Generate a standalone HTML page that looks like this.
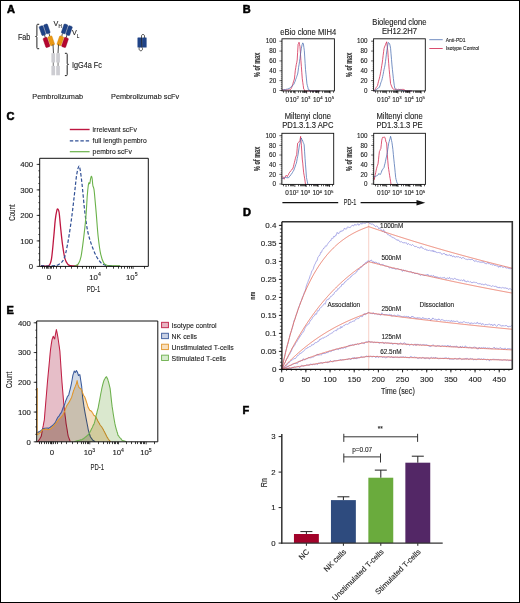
<!DOCTYPE html>
<html><head><meta charset="utf-8"><style>
html,body{margin:0;padding:0;background:#fff;}
body{width:520px;height:603px;overflow:hidden;position:relative;}
svg{position:absolute;left:0;top:0;font-family:"Liberation Sans", sans-serif;will-change:transform;}
text{stroke:#222;stroke-width:0.12px;}
</style></head><body>
<svg width="520" height="603" viewBox="0 0 520 603">
<rect x="0" y="0" width="520" height="603" fill="#fff"/>
<text x="7.0" y="12.6" font-size="11" text-anchor="start" font-weight="bold" fill="#000" style="stroke:#000;stroke-width:0.55px">A</text>
<path d="M44.6,35.0 L45.3,37.8 M49.1,33.4 L49.7,36.4 M66.9,35.0 L66.2,37.8 M62.4,33.4 L61.8,36.4" stroke="#222" stroke-width="0.8" fill="none"/>
<rect x="40.40" y="25.80" width="4.0" height="9.6" rx="0.9" fill="#1f4387" stroke="#15306c" stroke-width="0.4" transform="rotate(-19 42.4 30.6)"/>
<rect x="67.10" y="25.80" width="4.0" height="9.6" rx="0.9" fill="#1f4387" stroke="#15306c" stroke-width="0.4" transform="rotate(19 69.1 30.6)"/>
<rect x="44.90" y="24.10" width="4.0" height="9.6" rx="0.9" fill="#1f4387" stroke="#15306c" stroke-width="0.4" transform="rotate(-19 46.9 28.9)"/>
<rect x="62.60" y="24.10" width="4.0" height="9.6" rx="0.9" fill="#1f4387" stroke="#15306c" stroke-width="0.4" transform="rotate(19 64.6 28.9)"/>
<rect x="44.35" y="37.50" width="4.3" height="9.8" rx="0.9" fill="#b5062f" stroke="#8e0020" stroke-width="0.4" transform="rotate(-19 46.5 42.4)"/>
<rect x="62.85" y="37.50" width="4.3" height="9.8" rx="0.9" fill="#b5062f" stroke="#8e0020" stroke-width="0.4" transform="rotate(19 65.0 42.4)"/>
<rect x="49.05" y="36.10" width="4.3" height="9.4" rx="0.9" fill="#ea9814" stroke="#d08000" stroke-width="0.4" transform="rotate(-19 51.2 40.8)"/>
<rect x="58.15" y="36.10" width="4.3" height="9.4" rx="0.9" fill="#ea9814" stroke="#d08000" stroke-width="0.4" transform="rotate(19 60.3 40.8)"/>
<path d="M53.0,44.5 L53.5,53.5 M58.5,44.5 L58.0,53.5" stroke="#2a2a2a" stroke-width="0.85" fill="none"/>
<rect x="51.4" y="53.2" width="3.7" height="9.3" fill="#cdcdd2"/>
<rect x="51.4" y="65.9" width="3.7" height="9.4" fill="#cdcdd2"/>
<line x1="53.25" y1="62.5" x2="53.25" y2="65.9" stroke="#333" stroke-width="0.7"/>
<rect x="56.2" y="53.2" width="3.7" height="9.3" fill="#cdcdd2"/>
<rect x="56.2" y="65.9" width="3.7" height="9.4" fill="#cdcdd2"/>
<line x1="58.050000000000004" y1="62.5" x2="58.050000000000004" y2="65.9" stroke="#333" stroke-width="0.7"/>
<path d="M39.2,24.3 L37.6,24.3 Q36.9,24.3 36.9,25.2 L36.9,35.5 Q36.9,36.4 35.6,36.5 Q36.9,36.6 36.9,37.5 L36.9,47.8 Q36.9,48.7 37.6,48.7 L39.2,48.7" stroke="#222" stroke-width="1.0" fill="none"/>
<path d="M64.9,53.3 L66.4,53.3 Q67.2,53.3 67.2,54.2 L67.2,63.4 Q67.2,64.3 68.5,64.4 Q67.2,64.5 67.2,65.4 L67.2,74.7 Q67.2,75.6 66.4,75.6 L64.9,75.6" stroke="#222" stroke-width="1.0" fill="none"/>
<text x="0" y="0" font-size="8.4" text-anchor="start" font-weight="normal" fill="#222" transform="translate(17.9 39.6) scale(0.86 1)">Fab</text>
<text x="53.6" y="25.6" font-size="7.2" text-anchor="start" font-weight="normal" fill="#222" >V</text>
<text x="58.4" y="28.0" font-size="4.6" text-anchor="start" font-weight="normal" fill="#222" >H</text>
<text x="71.9" y="35.2" font-size="7.2" text-anchor="start" font-weight="normal" fill="#222" >V</text>
<text x="76.8" y="37.6" font-size="4.6" text-anchor="start" font-weight="normal" fill="#222" >L</text>
<text x="0" y="0" font-size="8.4" text-anchor="start" font-weight="normal" fill="#222" transform="translate(71.9 67.8) scale(0.87 1)">IgG4a Fc</text>
<rect x="137.5" y="37.6" width="4.4" height="9.9" rx="0.5" fill="#1f4387"/>
<rect x="142.1" y="37.6" width="4.5" height="9.9" rx="0.5" fill="#1f4387"/>
<path d="M144.5,37.8 L144.5,36.1 C144.5,33.9 141.5,33.9 141.5,36.1 L141.9,47.2 L142.5,48.6 C142.7,51.5 139.0,51.5 139.1,48.6 L139.3,47.4" stroke="#1a1a1a" stroke-width="0.75" fill="none"/>
<text x="57.7" y="99.2" font-size="7.3" text-anchor="middle" font-weight="normal" fill="#222" >Pembrolizumab</text>
<text x="145.1" y="99.2" font-size="7.3" text-anchor="middle" font-weight="normal" fill="#222" >Pembrolizumab scFv</text>
<text x="242.8" y="12.6" font-size="11" text-anchor="start" font-weight="bold" fill="#000" style="stroke:#000;stroke-width:0.55px">B</text>
<path d="M282.04,89.92 L282.45,89.92 L282.86,89.92 L283.27,89.92 L283.68,89.92 L284.09,89.92 L284.49,89.92 L284.90,89.92 L285.31,89.92 L285.72,89.92 L286.13,89.92 L286.54,89.92 L286.95,89.92 L287.35,89.92 L287.76,89.92 L288.17,89.92 L288.58,89.92 L288.99,89.92 L289.40,89.92 L289.81,89.92 L290.21,89.92 L290.68,89.25 L291.14,88.57 L291.61,87.56 L292.07,86.54 L292.53,84.72 L293.00,83.32 L293.46,81.81 L293.93,80.25 L294.39,79.02 L294.86,74.67 L295.32,70.29 L295.78,67.65 L296.25,64.62 L296.71,62.74 L297.18,60.06 L297.64,52.40 L298.11,44.32 L298.57,43.58 L299.03,42.28 L299.50,44.37 L299.96,46.37 L300.43,53.05 L300.89,60.41 L301.36,66.37 L301.82,72.75 L302.28,78.74 L302.75,82.24 L303.21,85.46 L303.68,88.90 L304.14,89.29 L304.61,91.00 L305.01,91.00 L305.41,91.00 L305.81,91.00 L306.22,91.00 L306.62,91.00 L307.02,91.00 L307.43,91.00 L307.83,91.00 L308.23,91.00 L308.64,91.00 L309.04,91.00 L309.44,91.00 L309.85,91.00 L310.25,91.00 L310.65,91.00 L311.06,91.00 L311.46,91.00 L311.86,91.00 L312.27,91.00 L312.67,91.00 L313.07,91.00 L313.48,91.00 L313.88,91.00 L314.28,91.00 L314.68,91.00 L315.09,91.00 L315.49,91.00 L315.89,91.00 L316.30,91.00 L316.70,91.00 L317.10,91.00 L317.51,91.00 L317.91,91.00 L318.31,91.00 L318.72,91.00 L319.12,91.00 L319.52,91.00 L319.93,91.00" stroke="#d0204a" stroke-width="0.75" fill="none" stroke-linejoin="round"/>
<path d="M282.04,89.84 L282.48,89.90 L282.92,89.65 L283.37,90.00 L283.81,89.55 L284.25,89.52 L284.69,89.54 L285.13,89.49 L285.57,89.79 L285.98,89.51 L286.40,89.19 L286.81,89.22 L287.22,88.86 L287.63,89.19 L288.05,88.72 L288.46,88.84 L288.87,88.54 L289.29,88.62 L289.71,87.86 L290.13,87.71 L290.55,87.48 L290.97,86.82 L291.40,86.83 L291.82,86.22 L292.24,86.03 L292.66,85.45 L293.08,85.17 L293.51,84.61 L293.93,84.26 L294.34,82.96 L294.75,82.16 L295.17,81.22 L295.58,79.67 L295.99,78.80 L296.40,77.50 L296.82,76.35 L297.23,75.17 L297.64,74.10 L298.11,71.16 L298.57,67.48 L299.03,64.92 L299.50,61.60 L299.96,58.64 L300.43,54.60 L300.89,51.47 L301.36,48.17 L302.10,44.63 L302.75,42.86 L303.40,43.91 L303.86,47.32 L304.33,50.77 L304.73,56.96 L305.13,63.41 L305.53,69.70 L306.00,74.24 L306.46,78.97 L306.93,83.77 L307.39,85.66 L307.86,87.31 L308.32,89.62 L308.78,89.92 L309.25,89.76 L309.71,91.00 L310.12,91.00 L310.53,91.00 L310.94,91.00 L311.35,91.00 L311.75,91.00 L312.16,91.00 L312.57,91.00 L312.98,91.00 L313.39,91.00 L313.80,91.00 L314.21,91.00 L314.61,91.00 L315.02,91.00 L315.43,91.00 L315.84,91.00 L316.25,91.00 L316.66,91.00 L317.07,91.00 L317.47,91.00 L317.88,91.00 L318.29,91.00 L318.70,91.00 L319.11,91.00 L319.52,91.00 L319.93,91.00" stroke="#4a6db0" stroke-width="0.75" fill="none" stroke-linejoin="round"/>
<rect x="282.0" y="38.8" width="52.39999999999998" height="52.10000000000001" fill="none" stroke="#111" stroke-width="0.9"/>
<line x1="279.4" y1="90.5" x2="282.0" y2="90.5" stroke="#111" stroke-width="0.6" />
<text x="276.2" y="92.7" font-size="6.3" text-anchor="end" font-weight="normal" fill="#222" >0</text>
<line x1="279.4" y1="80.64" x2="282.0" y2="80.64" stroke="#111" stroke-width="0.6" />
<text x="276.2" y="82.84" font-size="6.3" text-anchor="end" font-weight="normal" fill="#222" >20</text>
<line x1="279.4" y1="70.78" x2="282.0" y2="70.78" stroke="#111" stroke-width="0.6" />
<text x="276.2" y="72.98" font-size="6.3" text-anchor="end" font-weight="normal" fill="#222" >40</text>
<line x1="279.4" y1="60.92" x2="282.0" y2="60.92" stroke="#111" stroke-width="0.6" />
<text x="276.2" y="63.120000000000005" font-size="6.3" text-anchor="end" font-weight="normal" fill="#222" >60</text>
<line x1="279.4" y1="51.059999999999995" x2="282.0" y2="51.059999999999995" stroke="#111" stroke-width="0.6" />
<text x="276.2" y="53.26" font-size="6.3" text-anchor="end" font-weight="normal" fill="#222" >80</text>
<line x1="279.4" y1="41.199999999999996" x2="282.0" y2="41.199999999999996" stroke="#111" stroke-width="0.6" />
<text x="276.2" y="43.4" font-size="6.3" text-anchor="end" font-weight="normal" fill="#222" >100</text>
<line x1="280.8" y1="90.5" x2="282.0" y2="90.5" stroke="#111" stroke-width="0.4" />
<line x1="280.8" y1="88.528" x2="282.0" y2="88.528" stroke="#111" stroke-width="0.4" />
<line x1="280.8" y1="86.556" x2="282.0" y2="86.556" stroke="#111" stroke-width="0.4" />
<line x1="280.8" y1="84.584" x2="282.0" y2="84.584" stroke="#111" stroke-width="0.4" />
<line x1="280.8" y1="82.612" x2="282.0" y2="82.612" stroke="#111" stroke-width="0.4" />
<line x1="280.8" y1="80.64" x2="282.0" y2="80.64" stroke="#111" stroke-width="0.4" />
<line x1="280.8" y1="78.668" x2="282.0" y2="78.668" stroke="#111" stroke-width="0.4" />
<line x1="280.8" y1="76.696" x2="282.0" y2="76.696" stroke="#111" stroke-width="0.4" />
<line x1="280.8" y1="74.724" x2="282.0" y2="74.724" stroke="#111" stroke-width="0.4" />
<line x1="280.8" y1="72.752" x2="282.0" y2="72.752" stroke="#111" stroke-width="0.4" />
<line x1="280.8" y1="70.78" x2="282.0" y2="70.78" stroke="#111" stroke-width="0.4" />
<line x1="280.8" y1="68.80799999999999" x2="282.0" y2="68.80799999999999" stroke="#111" stroke-width="0.4" />
<line x1="280.8" y1="66.836" x2="282.0" y2="66.836" stroke="#111" stroke-width="0.4" />
<line x1="280.8" y1="64.864" x2="282.0" y2="64.864" stroke="#111" stroke-width="0.4" />
<line x1="280.8" y1="62.891999999999996" x2="282.0" y2="62.891999999999996" stroke="#111" stroke-width="0.4" />
<line x1="280.8" y1="60.919999999999995" x2="282.0" y2="60.919999999999995" stroke="#111" stroke-width="0.4" />
<line x1="280.8" y1="58.94799999999999" x2="282.0" y2="58.94799999999999" stroke="#111" stroke-width="0.4" />
<line x1="280.8" y1="56.976" x2="282.0" y2="56.976" stroke="#111" stroke-width="0.4" />
<line x1="280.8" y1="55.004" x2="282.0" y2="55.004" stroke="#111" stroke-width="0.4" />
<line x1="280.8" y1="53.032" x2="282.0" y2="53.032" stroke="#111" stroke-width="0.4" />
<line x1="280.8" y1="51.059999999999995" x2="282.0" y2="51.059999999999995" stroke="#111" stroke-width="0.4" />
<line x1="280.8" y1="49.087999999999994" x2="282.0" y2="49.087999999999994" stroke="#111" stroke-width="0.4" />
<line x1="280.8" y1="47.11599999999999" x2="282.0" y2="47.11599999999999" stroke="#111" stroke-width="0.4" />
<line x1="280.8" y1="45.144" x2="282.0" y2="45.144" stroke="#111" stroke-width="0.4" />
<line x1="280.8" y1="43.172" x2="282.0" y2="43.172" stroke="#111" stroke-width="0.4" />
<line x1="280.8" y1="41.2" x2="282.0" y2="41.2" stroke="#111" stroke-width="0.4" />
<line x1="298.5" y1="90.9" x2="298.5" y2="92.80000000000001" stroke="#111" stroke-width="0.7" />
<line x1="300.5" y1="90.9" x2="300.5" y2="92.80000000000001" stroke="#111" stroke-width="0.7" />
<line x1="302.5" y1="90.9" x2="302.5" y2="92.80000000000001" stroke="#111" stroke-width="0.7" />
<line x1="303.5" y1="90.9" x2="303.5" y2="92.80000000000001" stroke="#111" stroke-width="0.7" />
<line x1="304.5" y1="90.9" x2="304.5" y2="92.80000000000001" stroke="#111" stroke-width="0.7" />
<line x1="304.5" y1="90.9" x2="304.5" y2="92.80000000000001" stroke="#111" stroke-width="0.7" />
<line x1="305.5" y1="90.9" x2="305.5" y2="92.80000000000001" stroke="#111" stroke-width="0.7" />
<line x1="306.5" y1="90.9" x2="306.5" y2="92.80000000000001" stroke="#111" stroke-width="0.7" />
<line x1="310.5" y1="90.9" x2="310.5" y2="92.80000000000001" stroke="#111" stroke-width="0.7" />
<line x1="312.5" y1="90.9" x2="312.5" y2="92.80000000000001" stroke="#111" stroke-width="0.7" />
<line x1="313.5" y1="90.9" x2="313.5" y2="92.80000000000001" stroke="#111" stroke-width="0.7" />
<line x1="315.5" y1="90.9" x2="315.5" y2="92.80000000000001" stroke="#111" stroke-width="0.7" />
<line x1="316.5" y1="90.9" x2="316.5" y2="92.80000000000001" stroke="#111" stroke-width="0.7" />
<line x1="316.5" y1="90.9" x2="316.5" y2="92.80000000000001" stroke="#111" stroke-width="0.7" />
<line x1="317.5" y1="90.9" x2="317.5" y2="92.80000000000001" stroke="#111" stroke-width="0.7" />
<line x1="318.5" y1="90.9" x2="318.5" y2="92.80000000000001" stroke="#111" stroke-width="0.7" />
<line x1="322.5" y1="90.9" x2="322.5" y2="92.80000000000001" stroke="#111" stroke-width="0.7" />
<line x1="324.5" y1="90.9" x2="324.5" y2="92.80000000000001" stroke="#111" stroke-width="0.7" />
<line x1="325.5" y1="90.9" x2="325.5" y2="92.80000000000001" stroke="#111" stroke-width="0.7" />
<line x1="326.5" y1="90.9" x2="326.5" y2="92.80000000000001" stroke="#111" stroke-width="0.7" />
<line x1="327.5" y1="90.9" x2="327.5" y2="92.80000000000001" stroke="#111" stroke-width="0.7" />
<line x1="328.5" y1="90.9" x2="328.5" y2="92.80000000000001" stroke="#111" stroke-width="0.7" />
<line x1="329.5" y1="90.9" x2="329.5" y2="92.80000000000001" stroke="#111" stroke-width="0.7" />
<line x1="329.5" y1="90.9" x2="329.5" y2="92.80000000000001" stroke="#111" stroke-width="0.7" />
<line x1="283.5" y1="90.9" x2="283.5" y2="92.80000000000001" stroke="#111" stroke-width="0.7" />
<line x1="288.5" y1="90.9" x2="288.5" y2="92.80000000000001" stroke="#111" stroke-width="0.7" />
<line x1="290.5" y1="90.9" x2="290.5" y2="92.80000000000001" stroke="#111" stroke-width="0.7" />
<line x1="291.5" y1="90.9" x2="291.5" y2="92.80000000000001" stroke="#111" stroke-width="0.7" />
<line x1="293.5" y1="90.9" x2="293.5" y2="92.80000000000001" stroke="#111" stroke-width="0.7" />
<line x1="294.5" y1="90.9" x2="294.5" y2="92.80000000000001" stroke="#111" stroke-width="0.7" />
<line x1="333.5" y1="90.9" x2="333.5" y2="92.80000000000001" stroke="#111" stroke-width="0.7" />
<line x1="286.192" y1="90.9" x2="286.192" y2="93.5" stroke="#111" stroke-width="0.7" />
<line x1="295.1" y1="90.9" x2="295.1" y2="93.5" stroke="#111" stroke-width="0.7" />
<line x1="306.628" y1="90.9" x2="306.628" y2="93.5" stroke="#111" stroke-width="0.7" />
<line x1="318.67999999999995" y1="90.9" x2="318.67999999999995" y2="93.5" stroke="#111" stroke-width="0.7" />
<line x1="330.20799999999997" y1="90.9" x2="330.20799999999997" y2="93.5" stroke="#111" stroke-width="0.7" />
<text x="287.2" y="101.9" font-size="6.4" text-anchor="middle" font-weight="normal" fill="#222" >0</text>
<text x="294.20000000000005" y="101.9" font-size="6.4" text-anchor="middle" font-weight="normal" fill="#222" >10<tspan font-size="4.3" dy="-2.6">2</tspan></text>
<text x="305.728" y="101.9" font-size="6.4" text-anchor="middle" font-weight="normal" fill="#222" >10<tspan font-size="4.3" dy="-2.6">3</tspan></text>
<text x="317.78" y="101.9" font-size="6.4" text-anchor="middle" font-weight="normal" fill="#222" >10<tspan font-size="4.3" dy="-2.6">4</tspan></text>
<text x="329.308" y="101.9" font-size="6.4" text-anchor="middle" font-weight="normal" fill="#222" >10<tspan font-size="4.3" dy="-2.6">5</tspan></text>
<text x="0" y="0" font-size="8.2" text-anchor="middle" font-weight="normal" fill="#222" transform="translate(308.2 34.6) scale(0.93 1)">eBio clone MIH4</text>
<text x="0" y="0" font-size="8.6" font-weight="bold" text-anchor="middle" fill="#333" transform="translate(260.2 64.85) rotate(-90) scale(0.64 1)">% of max</text>
<path d="M373.67,91.00 L374.23,91.00 L374.79,89.92 L375.25,89.19 L375.71,88.52 L376.18,87.54 L376.64,86.86 L377.11,86.37 L377.57,85.46 L378.04,83.35 L378.50,81.31 L378.96,79.79 L379.43,78.10 L379.89,76.28 L380.36,73.89 L380.82,71.41 L381.29,68.81 L381.75,65.55 L382.21,63.02 L382.68,59.52 L383.14,55.42 L383.61,51.69 L384.07,48.42 L384.53,47.00 L385.00,45.88 L385.46,44.68 L385.87,43.42 L386.27,42.85 L386.67,41.79 L387.23,46.25 L387.78,50.85 L388.25,57.44 L388.71,63.64 L389.18,69.44 L389.64,74.27 L390.11,78.85 L390.57,83.55 L391.03,84.82 L391.50,86.07 L391.96,86.99 L392.43,88.19 L392.89,88.78 L393.36,89.20 L393.82,89.08 L394.28,88.98 L394.71,89.46 L395.13,89.52 L395.55,89.14 L395.97,89.07 L396.39,89.21 L396.82,89.39 L397.24,89.69 L397.66,89.65 L398.08,89.36 L398.50,89.15 L398.93,89.63 L399.39,89.71 L399.86,89.08 L400.32,89.57 L400.78,89.35 L401.25,89.52 L401.71,89.33 L402.18,89.06 L402.64,89.57 L403.10,89.12 L403.57,89.73 L404.03,89.83 L404.50,89.92 L404.96,89.97 L405.43,91.00 L405.83,91.00 L406.24,91.00 L406.64,91.00 L407.05,91.00 L407.46,91.00 L407.86,91.00 L408.27,91.00 L408.68,91.00 L409.08,91.00 L409.49,91.00 L409.89,91.00 L410.30,91.00 L410.71,91.00 L411.11,91.00 L411.52,91.00 L411.93,91.00" stroke="#d0204a" stroke-width="0.75" fill="none" stroke-linejoin="round"/>
<path d="M373.67,91.00 L374.08,91.00 L374.49,91.00 L374.90,90.00 L375.31,89.96 L375.71,89.92 L376.13,89.66 L376.54,89.45 L376.95,88.93 L377.36,88.72 L377.78,88.69 L378.19,88.24 L378.60,87.69 L379.02,87.19 L379.43,87.22 L379.89,85.99 L380.36,84.64 L380.82,82.72 L381.29,81.63 L381.75,80.41 L382.21,78.55 L382.68,76.48 L383.14,74.38 L383.61,71.67 L384.07,69.33 L384.53,67.46 L385.00,64.96 L385.46,61.58 L385.93,58.14 L386.39,54.18 L386.86,50.90 L387.32,47.83 L387.78,45.09 L388.25,42.49 L388.90,42.89 L389.64,43.83 L390.11,45.76 L390.57,48.28 L391.03,53.78 L391.50,59.41 L391.96,64.97 L392.43,69.59 L392.89,73.87 L393.36,78.44 L393.82,81.96 L394.28,85.32 L394.75,88.13 L395.21,88.49 L395.68,89.56 L396.14,89.92 L396.55,89.93 L396.95,89.93 L397.36,89.94 L397.76,89.94 L398.16,89.95 L398.57,89.95 L398.97,89.96 L399.38,89.96 L399.78,89.97 L400.19,89.97 L400.59,89.98 L401.00,89.98 L401.40,89.99 L401.81,89.99 L402.21,90.00 L402.62,91.00 L403.02,91.00 L403.43,91.00 L403.83,91.00 L404.24,91.00 L404.64,91.00 L405.05,91.00 L405.45,91.00 L405.85,91.00 L406.26,91.00 L406.66,91.00 L407.07,91.00 L407.47,91.00 L407.88,91.00 L408.28,91.00 L408.69,91.00 L409.09,91.00 L409.50,91.00 L409.90,91.00 L410.31,91.00 L410.71,91.00 L411.12,91.00 L411.52,91.00 L411.93,91.00" stroke="#4a6db0" stroke-width="0.75" fill="none" stroke-linejoin="round"/>
<rect x="373.6" y="38.8" width="51.69999999999999" height="52.10000000000001" fill="none" stroke="#111" stroke-width="0.9"/>
<line x1="371.0" y1="90.5" x2="373.6" y2="90.5" stroke="#111" stroke-width="0.6" />
<text x="367.6" y="92.7" font-size="6.3" text-anchor="end" font-weight="normal" fill="#222" >0</text>
<line x1="371.0" y1="80.64" x2="373.6" y2="80.64" stroke="#111" stroke-width="0.6" />
<text x="367.6" y="82.84" font-size="6.3" text-anchor="end" font-weight="normal" fill="#222" >20</text>
<line x1="371.0" y1="70.78" x2="373.6" y2="70.78" stroke="#111" stroke-width="0.6" />
<text x="367.6" y="72.98" font-size="6.3" text-anchor="end" font-weight="normal" fill="#222" >40</text>
<line x1="371.0" y1="60.92" x2="373.6" y2="60.92" stroke="#111" stroke-width="0.6" />
<text x="367.6" y="63.120000000000005" font-size="6.3" text-anchor="end" font-weight="normal" fill="#222" >60</text>
<line x1="371.0" y1="51.059999999999995" x2="373.6" y2="51.059999999999995" stroke="#111" stroke-width="0.6" />
<text x="367.6" y="53.26" font-size="6.3" text-anchor="end" font-weight="normal" fill="#222" >80</text>
<line x1="371.0" y1="41.199999999999996" x2="373.6" y2="41.199999999999996" stroke="#111" stroke-width="0.6" />
<text x="367.6" y="43.4" font-size="6.3" text-anchor="end" font-weight="normal" fill="#222" >100</text>
<line x1="372.40000000000003" y1="90.5" x2="373.6" y2="90.5" stroke="#111" stroke-width="0.4" />
<line x1="372.40000000000003" y1="88.528" x2="373.6" y2="88.528" stroke="#111" stroke-width="0.4" />
<line x1="372.40000000000003" y1="86.556" x2="373.6" y2="86.556" stroke="#111" stroke-width="0.4" />
<line x1="372.40000000000003" y1="84.584" x2="373.6" y2="84.584" stroke="#111" stroke-width="0.4" />
<line x1="372.40000000000003" y1="82.612" x2="373.6" y2="82.612" stroke="#111" stroke-width="0.4" />
<line x1="372.40000000000003" y1="80.64" x2="373.6" y2="80.64" stroke="#111" stroke-width="0.4" />
<line x1="372.40000000000003" y1="78.668" x2="373.6" y2="78.668" stroke="#111" stroke-width="0.4" />
<line x1="372.40000000000003" y1="76.696" x2="373.6" y2="76.696" stroke="#111" stroke-width="0.4" />
<line x1="372.40000000000003" y1="74.724" x2="373.6" y2="74.724" stroke="#111" stroke-width="0.4" />
<line x1="372.40000000000003" y1="72.752" x2="373.6" y2="72.752" stroke="#111" stroke-width="0.4" />
<line x1="372.40000000000003" y1="70.78" x2="373.6" y2="70.78" stroke="#111" stroke-width="0.4" />
<line x1="372.40000000000003" y1="68.80799999999999" x2="373.6" y2="68.80799999999999" stroke="#111" stroke-width="0.4" />
<line x1="372.40000000000003" y1="66.836" x2="373.6" y2="66.836" stroke="#111" stroke-width="0.4" />
<line x1="372.40000000000003" y1="64.864" x2="373.6" y2="64.864" stroke="#111" stroke-width="0.4" />
<line x1="372.40000000000003" y1="62.891999999999996" x2="373.6" y2="62.891999999999996" stroke="#111" stroke-width="0.4" />
<line x1="372.40000000000003" y1="60.919999999999995" x2="373.6" y2="60.919999999999995" stroke="#111" stroke-width="0.4" />
<line x1="372.40000000000003" y1="58.94799999999999" x2="373.6" y2="58.94799999999999" stroke="#111" stroke-width="0.4" />
<line x1="372.40000000000003" y1="56.976" x2="373.6" y2="56.976" stroke="#111" stroke-width="0.4" />
<line x1="372.40000000000003" y1="55.004" x2="373.6" y2="55.004" stroke="#111" stroke-width="0.4" />
<line x1="372.40000000000003" y1="53.032" x2="373.6" y2="53.032" stroke="#111" stroke-width="0.4" />
<line x1="372.40000000000003" y1="51.059999999999995" x2="373.6" y2="51.059999999999995" stroke="#111" stroke-width="0.4" />
<line x1="372.40000000000003" y1="49.087999999999994" x2="373.6" y2="49.087999999999994" stroke="#111" stroke-width="0.4" />
<line x1="372.40000000000003" y1="47.11599999999999" x2="373.6" y2="47.11599999999999" stroke="#111" stroke-width="0.4" />
<line x1="372.40000000000003" y1="45.144" x2="373.6" y2="45.144" stroke="#111" stroke-width="0.4" />
<line x1="372.40000000000003" y1="43.172" x2="373.6" y2="43.172" stroke="#111" stroke-width="0.4" />
<line x1="372.40000000000003" y1="41.2" x2="373.6" y2="41.2" stroke="#111" stroke-width="0.4" />
<line x1="389.5" y1="90.9" x2="389.5" y2="92.80000000000001" stroke="#111" stroke-width="0.7" />
<line x1="391.5" y1="90.9" x2="391.5" y2="92.80000000000001" stroke="#111" stroke-width="0.7" />
<line x1="393.5" y1="90.9" x2="393.5" y2="92.80000000000001" stroke="#111" stroke-width="0.7" />
<line x1="394.5" y1="90.9" x2="394.5" y2="92.80000000000001" stroke="#111" stroke-width="0.7" />
<line x1="395.5" y1="90.9" x2="395.5" y2="92.80000000000001" stroke="#111" stroke-width="0.7" />
<line x1="396.5" y1="90.9" x2="396.5" y2="92.80000000000001" stroke="#111" stroke-width="0.7" />
<line x1="396.5" y1="90.9" x2="396.5" y2="92.80000000000001" stroke="#111" stroke-width="0.7" />
<line x1="397.5" y1="90.9" x2="397.5" y2="92.80000000000001" stroke="#111" stroke-width="0.7" />
<line x1="401.5" y1="90.9" x2="401.5" y2="92.80000000000001" stroke="#111" stroke-width="0.7" />
<line x1="403.5" y1="90.9" x2="403.5" y2="92.80000000000001" stroke="#111" stroke-width="0.7" />
<line x1="405.5" y1="90.9" x2="405.5" y2="92.80000000000001" stroke="#111" stroke-width="0.7" />
<line x1="406.5" y1="90.9" x2="406.5" y2="92.80000000000001" stroke="#111" stroke-width="0.7" />
<line x1="407.5" y1="90.9" x2="407.5" y2="92.80000000000001" stroke="#111" stroke-width="0.7" />
<line x1="407.5" y1="90.9" x2="407.5" y2="92.80000000000001" stroke="#111" stroke-width="0.7" />
<line x1="408.5" y1="90.9" x2="408.5" y2="92.80000000000001" stroke="#111" stroke-width="0.7" />
<line x1="409.5" y1="90.9" x2="409.5" y2="92.80000000000001" stroke="#111" stroke-width="0.7" />
<line x1="413.5" y1="90.9" x2="413.5" y2="92.80000000000001" stroke="#111" stroke-width="0.7" />
<line x1="415.5" y1="90.9" x2="415.5" y2="92.80000000000001" stroke="#111" stroke-width="0.7" />
<line x1="416.5" y1="90.9" x2="416.5" y2="92.80000000000001" stroke="#111" stroke-width="0.7" />
<line x1="417.5" y1="90.9" x2="417.5" y2="92.80000000000001" stroke="#111" stroke-width="0.7" />
<line x1="418.5" y1="90.9" x2="418.5" y2="92.80000000000001" stroke="#111" stroke-width="0.7" />
<line x1="419.5" y1="90.9" x2="419.5" y2="92.80000000000001" stroke="#111" stroke-width="0.7" />
<line x1="420.5" y1="90.9" x2="420.5" y2="92.80000000000001" stroke="#111" stroke-width="0.7" />
<line x1="420.5" y1="90.9" x2="420.5" y2="92.80000000000001" stroke="#111" stroke-width="0.7" />
<line x1="375.5" y1="90.9" x2="375.5" y2="92.80000000000001" stroke="#111" stroke-width="0.7" />
<line x1="380.5" y1="90.9" x2="380.5" y2="92.80000000000001" stroke="#111" stroke-width="0.7" />
<line x1="382.5" y1="90.9" x2="382.5" y2="92.80000000000001" stroke="#111" stroke-width="0.7" />
<line x1="383.5" y1="90.9" x2="383.5" y2="92.80000000000001" stroke="#111" stroke-width="0.7" />
<line x1="384.5" y1="90.9" x2="384.5" y2="92.80000000000001" stroke="#111" stroke-width="0.7" />
<line x1="385.5" y1="90.9" x2="385.5" y2="92.80000000000001" stroke="#111" stroke-width="0.7" />
<line x1="424.5" y1="90.9" x2="424.5" y2="92.80000000000001" stroke="#111" stroke-width="0.7" />
<line x1="377.73600000000005" y1="90.9" x2="377.73600000000005" y2="93.5" stroke="#111" stroke-width="0.7" />
<line x1="386.52500000000003" y1="90.9" x2="386.52500000000003" y2="93.5" stroke="#111" stroke-width="0.7" />
<line x1="397.899" y1="90.9" x2="397.899" y2="93.5" stroke="#111" stroke-width="0.7" />
<line x1="409.79" y1="90.9" x2="409.79" y2="93.5" stroke="#111" stroke-width="0.7" />
<line x1="421.164" y1="90.9" x2="421.164" y2="93.5" stroke="#111" stroke-width="0.7" />
<text x="378.8" y="101.9" font-size="6.4" text-anchor="middle" font-weight="normal" fill="#222" >0</text>
<text x="385.62500000000006" y="101.9" font-size="6.4" text-anchor="middle" font-weight="normal" fill="#222" >10<tspan font-size="4.3" dy="-2.6">2</tspan></text>
<text x="396.999" y="101.9" font-size="6.4" text-anchor="middle" font-weight="normal" fill="#222" >10<tspan font-size="4.3" dy="-2.6">3</tspan></text>
<text x="408.89000000000004" y="101.9" font-size="6.4" text-anchor="middle" font-weight="normal" fill="#222" >10<tspan font-size="4.3" dy="-2.6">4</tspan></text>
<text x="420.264" y="101.9" font-size="6.4" text-anchor="middle" font-weight="normal" fill="#222" >10<tspan font-size="4.3" dy="-2.6">5</tspan></text>
<text x="0" y="0" font-size="8.2" text-anchor="middle" font-weight="normal" fill="#222" transform="translate(399.45000000000005 25.2) scale(0.93 1)">Biolegend clone</text>
<text x="0" y="0" font-size="8.2" text-anchor="middle" font-weight="normal" fill="#222" transform="translate(399.45000000000005 34.2) scale(0.93 1)">EH12.2H7</text>
<text x="0" y="0" font-size="8.6" font-weight="bold" text-anchor="middle" fill="#333" transform="translate(351.6 64.85) rotate(-90) scale(0.64 1)">% of max</text>
<path d="M282.04,177.52 L282.79,176.69 L283.25,177.38 L283.71,178.68 L284.18,179.19 L284.64,178.14 L285.11,177.13 L285.57,176.07 L286.04,175.34 L286.50,175.64 L286.96,175.90 L287.43,176.50 L287.89,175.33 L288.36,174.84 L288.82,173.55 L289.29,172.86 L289.75,172.12 L290.21,171.75 L290.68,170.82 L291.14,170.49 L291.61,170.09 L292.07,169.18 L292.53,168.95 L293.00,168.11 L293.46,166.44 L293.93,164.39 L294.39,162.62 L294.86,160.58 L295.32,158.76 L295.78,157.05 L296.25,155.84 L296.71,154.49 L297.18,148.50 L297.64,143.19 L298.11,142.72 L298.57,142.39 L299.03,142.03 L299.50,141.17 L299.96,140.46 L300.61,136.41 L301.36,145.18 L301.82,151.98 L302.28,159.14 L302.75,163.15 L303.21,168.07 L303.68,172.81 L304.14,175.31 L304.61,178.18 L305.07,181.08 L305.53,184.50 L306.00,184.50 L306.46,184.50 L306.93,184.50 L307.39,184.50 L307.86,184.50 L308.26,184.50 L308.66,184.50 L309.06,184.50 L309.46,184.50 L309.87,184.50 L310.27,184.50 L310.67,184.50 L311.07,184.50 L311.48,184.50 L311.88,184.50 L312.28,184.50 L312.68,184.50 L313.09,184.50 L313.49,184.50 L313.89,184.50 L314.29,184.50 L314.70,184.50 L315.10,184.50 L315.50,184.50 L315.90,184.50 L316.30,184.50 L316.71,184.50 L317.11,184.50 L317.51,184.50 L317.91,184.50 L318.32,184.50 L318.72,184.50 L319.12,184.50 L319.52,184.50 L319.93,184.50" stroke="#d0204a" stroke-width="0.75" fill="none" stroke-linejoin="round"/>
<path d="M282.04,178.45 L282.79,178.54 L283.25,178.16 L283.71,178.37 L284.18,177.79 L284.64,177.63 L285.11,177.52 L285.57,177.34 L286.04,177.74 L286.50,177.65 L286.96,177.52 L287.43,177.74 L287.89,177.58 L288.36,178.09 L288.82,177.19 L289.29,176.88 L289.75,176.16 L290.21,175.81 L290.68,174.89 L291.14,174.58 L291.61,173.96 L292.07,172.90 L292.53,172.51 L293.00,171.51 L293.46,170.92 L293.93,169.96 L294.39,168.75 L294.86,167.27 L295.32,166.00 L295.78,164.54 L296.25,163.57 L296.71,161.45 L297.18,158.71 L297.64,156.66 L298.11,154.17 L298.57,151.05 L299.03,147.91 L299.50,144.89 L299.96,143.36 L300.43,141.10 L300.89,139.96 L301.36,138.05 L301.82,139.33 L302.28,139.78 L302.75,141.14 L303.21,142.48 L303.68,143.43 L304.14,144.75 L304.61,151.83 L305.07,158.73 L305.53,164.88 L306.00,171.08 L306.46,177.53 L306.93,179.80 L307.39,181.86 L307.86,184.50 L308.32,184.50 L308.78,184.50 L309.25,184.50 L309.71,184.50 L310.12,184.50 L310.53,184.50 L310.94,184.50 L311.35,184.50 L311.75,184.50 L312.16,184.50 L312.57,184.50 L312.98,184.50 L313.39,184.50 L313.80,184.50 L314.21,184.50 L314.61,184.50 L315.02,184.50 L315.43,184.50 L315.84,184.50 L316.25,184.50 L316.66,184.50 L317.07,184.50 L317.47,184.50 L317.88,184.50 L318.29,184.50 L318.70,184.50 L319.11,184.50 L319.52,184.50 L319.93,184.50" stroke="#4a6db0" stroke-width="0.75" fill="none" stroke-linejoin="round"/>
<rect x="281.9" y="133.3" width="51.80000000000001" height="51.099999999999994" fill="none" stroke="#111" stroke-width="0.9"/>
<line x1="279.29999999999995" y1="184.0" x2="281.9" y2="184.0" stroke="#111" stroke-width="0.6" />
<text x="276.0" y="186.2" font-size="6.3" text-anchor="end" font-weight="normal" fill="#222" >0</text>
<line x1="279.29999999999995" y1="174.34" x2="281.9" y2="174.34" stroke="#111" stroke-width="0.6" />
<text x="276.0" y="176.54" font-size="6.3" text-anchor="end" font-weight="normal" fill="#222" >20</text>
<line x1="279.29999999999995" y1="164.68" x2="281.9" y2="164.68" stroke="#111" stroke-width="0.6" />
<text x="276.0" y="166.88" font-size="6.3" text-anchor="end" font-weight="normal" fill="#222" >40</text>
<line x1="279.29999999999995" y1="155.02" x2="281.9" y2="155.02" stroke="#111" stroke-width="0.6" />
<text x="276.0" y="157.22" font-size="6.3" text-anchor="end" font-weight="normal" fill="#222" >60</text>
<line x1="279.29999999999995" y1="145.36" x2="281.9" y2="145.36" stroke="#111" stroke-width="0.6" />
<text x="276.0" y="147.56" font-size="6.3" text-anchor="end" font-weight="normal" fill="#222" >80</text>
<line x1="279.29999999999995" y1="135.70000000000002" x2="281.9" y2="135.70000000000002" stroke="#111" stroke-width="0.6" />
<text x="276.0" y="137.9" font-size="6.3" text-anchor="end" font-weight="normal" fill="#222" >100</text>
<line x1="280.7" y1="184.0" x2="281.9" y2="184.0" stroke="#111" stroke-width="0.4" />
<line x1="280.7" y1="182.068" x2="281.9" y2="182.068" stroke="#111" stroke-width="0.4" />
<line x1="280.7" y1="180.136" x2="281.9" y2="180.136" stroke="#111" stroke-width="0.4" />
<line x1="280.7" y1="178.204" x2="281.9" y2="178.204" stroke="#111" stroke-width="0.4" />
<line x1="280.7" y1="176.272" x2="281.9" y2="176.272" stroke="#111" stroke-width="0.4" />
<line x1="280.7" y1="174.34" x2="281.9" y2="174.34" stroke="#111" stroke-width="0.4" />
<line x1="280.7" y1="172.40800000000002" x2="281.9" y2="172.40800000000002" stroke="#111" stroke-width="0.4" />
<line x1="280.7" y1="170.476" x2="281.9" y2="170.476" stroke="#111" stroke-width="0.4" />
<line x1="280.7" y1="168.544" x2="281.9" y2="168.544" stroke="#111" stroke-width="0.4" />
<line x1="280.7" y1="166.61200000000002" x2="281.9" y2="166.61200000000002" stroke="#111" stroke-width="0.4" />
<line x1="280.7" y1="164.68" x2="281.9" y2="164.68" stroke="#111" stroke-width="0.4" />
<line x1="280.7" y1="162.748" x2="281.9" y2="162.748" stroke="#111" stroke-width="0.4" />
<line x1="280.7" y1="160.816" x2="281.9" y2="160.816" stroke="#111" stroke-width="0.4" />
<line x1="280.7" y1="158.88400000000001" x2="281.9" y2="158.88400000000001" stroke="#111" stroke-width="0.4" />
<line x1="280.7" y1="156.952" x2="281.9" y2="156.952" stroke="#111" stroke-width="0.4" />
<line x1="280.7" y1="155.02" x2="281.9" y2="155.02" stroke="#111" stroke-width="0.4" />
<line x1="280.7" y1="153.08800000000002" x2="281.9" y2="153.08800000000002" stroke="#111" stroke-width="0.4" />
<line x1="280.7" y1="151.156" x2="281.9" y2="151.156" stroke="#111" stroke-width="0.4" />
<line x1="280.7" y1="149.22400000000002" x2="281.9" y2="149.22400000000002" stroke="#111" stroke-width="0.4" />
<line x1="280.7" y1="147.292" x2="281.9" y2="147.292" stroke="#111" stroke-width="0.4" />
<line x1="280.7" y1="145.36" x2="281.9" y2="145.36" stroke="#111" stroke-width="0.4" />
<line x1="280.7" y1="143.42800000000003" x2="281.9" y2="143.42800000000003" stroke="#111" stroke-width="0.4" />
<line x1="280.7" y1="141.496" x2="281.9" y2="141.496" stroke="#111" stroke-width="0.4" />
<line x1="280.7" y1="139.56400000000002" x2="281.9" y2="139.56400000000002" stroke="#111" stroke-width="0.4" />
<line x1="280.7" y1="137.632" x2="281.9" y2="137.632" stroke="#111" stroke-width="0.4" />
<line x1="280.7" y1="135.70000000000002" x2="281.9" y2="135.70000000000002" stroke="#111" stroke-width="0.4" />
<line x1="298.5" y1="184.4" x2="298.5" y2="186.3" stroke="#111" stroke-width="0.7" />
<line x1="300.5" y1="184.4" x2="300.5" y2="186.3" stroke="#111" stroke-width="0.7" />
<line x1="301.5" y1="184.4" x2="301.5" y2="186.3" stroke="#111" stroke-width="0.7" />
<line x1="302.5" y1="184.4" x2="302.5" y2="186.3" stroke="#111" stroke-width="0.7" />
<line x1="303.5" y1="184.4" x2="303.5" y2="186.3" stroke="#111" stroke-width="0.7" />
<line x1="304.5" y1="184.4" x2="304.5" y2="186.3" stroke="#111" stroke-width="0.7" />
<line x1="305.5" y1="184.4" x2="305.5" y2="186.3" stroke="#111" stroke-width="0.7" />
<line x1="305.5" y1="184.4" x2="305.5" y2="186.3" stroke="#111" stroke-width="0.7" />
<line x1="309.5" y1="184.4" x2="309.5" y2="186.3" stroke="#111" stroke-width="0.7" />
<line x1="311.5" y1="184.4" x2="311.5" y2="186.3" stroke="#111" stroke-width="0.7" />
<line x1="313.5" y1="184.4" x2="313.5" y2="186.3" stroke="#111" stroke-width="0.7" />
<line x1="314.5" y1="184.4" x2="314.5" y2="186.3" stroke="#111" stroke-width="0.7" />
<line x1="315.5" y1="184.4" x2="315.5" y2="186.3" stroke="#111" stroke-width="0.7" />
<line x1="316.5" y1="184.4" x2="316.5" y2="186.3" stroke="#111" stroke-width="0.7" />
<line x1="317.5" y1="184.4" x2="317.5" y2="186.3" stroke="#111" stroke-width="0.7" />
<line x1="317.5" y1="184.4" x2="317.5" y2="186.3" stroke="#111" stroke-width="0.7" />
<line x1="321.5" y1="184.4" x2="321.5" y2="186.3" stroke="#111" stroke-width="0.7" />
<line x1="323.5" y1="184.4" x2="323.5" y2="186.3" stroke="#111" stroke-width="0.7" />
<line x1="325.5" y1="184.4" x2="325.5" y2="186.3" stroke="#111" stroke-width="0.7" />
<line x1="326.5" y1="184.4" x2="326.5" y2="186.3" stroke="#111" stroke-width="0.7" />
<line x1="327.5" y1="184.4" x2="327.5" y2="186.3" stroke="#111" stroke-width="0.7" />
<line x1="327.5" y1="184.4" x2="327.5" y2="186.3" stroke="#111" stroke-width="0.7" />
<line x1="328.5" y1="184.4" x2="328.5" y2="186.3" stroke="#111" stroke-width="0.7" />
<line x1="329.5" y1="184.4" x2="329.5" y2="186.3" stroke="#111" stroke-width="0.7" />
<line x1="283.5" y1="184.4" x2="283.5" y2="186.3" stroke="#111" stroke-width="0.7" />
<line x1="288.5" y1="184.4" x2="288.5" y2="186.3" stroke="#111" stroke-width="0.7" />
<line x1="290.5" y1="184.4" x2="290.5" y2="186.3" stroke="#111" stroke-width="0.7" />
<line x1="291.5" y1="184.4" x2="291.5" y2="186.3" stroke="#111" stroke-width="0.7" />
<line x1="292.5" y1="184.4" x2="292.5" y2="186.3" stroke="#111" stroke-width="0.7" />
<line x1="293.5" y1="184.4" x2="293.5" y2="186.3" stroke="#111" stroke-width="0.7" />
<line x1="332.5" y1="184.4" x2="332.5" y2="186.3" stroke="#111" stroke-width="0.7" />
<line x1="286.044" y1="184.4" x2="286.044" y2="187.0" stroke="#111" stroke-width="0.7" />
<line x1="294.84999999999997" y1="184.4" x2="294.84999999999997" y2="187.0" stroke="#111" stroke-width="0.7" />
<line x1="306.246" y1="184.4" x2="306.246" y2="187.0" stroke="#111" stroke-width="0.7" />
<line x1="318.15999999999997" y1="184.4" x2="318.15999999999997" y2="187.0" stroke="#111" stroke-width="0.7" />
<line x1="329.556" y1="184.4" x2="329.556" y2="187.0" stroke="#111" stroke-width="0.7" />
<text x="287.09999999999997" y="195.4" font-size="6.4" text-anchor="middle" font-weight="normal" fill="#222" >0</text>
<text x="293.95" y="195.4" font-size="6.4" text-anchor="middle" font-weight="normal" fill="#222" >10<tspan font-size="4.3" dy="-2.6">2</tspan></text>
<text x="305.346" y="195.4" font-size="6.4" text-anchor="middle" font-weight="normal" fill="#222" >10<tspan font-size="4.3" dy="-2.6">3</tspan></text>
<text x="317.26" y="195.4" font-size="6.4" text-anchor="middle" font-weight="normal" fill="#222" >10<tspan font-size="4.3" dy="-2.6">4</tspan></text>
<text x="328.656" y="195.4" font-size="6.4" text-anchor="middle" font-weight="normal" fill="#222" >10<tspan font-size="4.3" dy="-2.6">5</tspan></text>
<text x="0" y="0" font-size="8.2" text-anchor="middle" font-weight="normal" fill="#222" transform="translate(307.79999999999995 119.2) scale(0.93 1)">Miltenyi clone</text>
<text x="0" y="0" font-size="8.2" text-anchor="middle" font-weight="normal" fill="#222" transform="translate(307.79999999999995 128.2) scale(0.93 1)">PD1.3.1.3 APC</text>
<text x="0" y="0" font-size="8.6" font-weight="bold" text-anchor="middle" fill="#333" transform="translate(260.2 158.85000000000002) rotate(-90) scale(0.64 1)">% of max</text>
<path d="M373.67,180.25 L374.32,179.43 L374.79,176.89 L375.25,174.67 L375.71,172.63 L376.18,170.17 L376.64,168.30 L377.11,166.49 L377.57,165.21 L378.04,163.75 L378.50,159.76 L378.96,155.20 L379.43,151.49 L379.89,150.74 L380.36,149.34 L380.82,148.66 L381.29,144.70 L381.75,140.14 L382.21,138.49 L382.68,137.32 L383.14,137.23 L383.61,137.43 L384.07,137.57 L384.53,137.18 L385.00,137.47 L385.46,139.51 L385.93,141.88 L386.67,142.99 L387.32,154.54 L387.78,160.58 L388.25,166.22 L388.71,169.51 L389.18,172.54 L389.64,175.69 L390.11,178.47 L390.57,181.23 L391.03,184.50 L391.50,184.50 L391.96,184.50 L392.37,184.50 L392.78,184.50 L393.19,184.50 L393.59,184.50 L394.00,184.50 L394.41,184.50 L394.81,184.50 L395.22,184.50 L395.63,184.50 L396.04,184.50 L396.44,184.50 L396.85,184.50 L397.26,184.50 L397.67,184.50 L398.07,184.50 L398.48,184.50 L398.89,184.50 L399.30,184.50 L399.70,184.50 L400.11,184.50 L400.52,184.50 L400.93,184.50 L401.33,184.50 L401.74,184.50 L402.15,184.50 L402.56,184.50 L402.96,184.50 L403.37,184.50 L403.78,184.50 L404.19,184.50 L404.59,184.50 L405.00,184.50 L405.41,184.50 L405.81,184.50 L406.22,184.50 L406.63,184.50 L407.04,184.50 L407.44,184.50 L407.85,184.50 L408.26,184.50 L408.67,184.50 L409.07,184.50 L409.48,184.50 L409.89,184.50 L410.30,184.50 L410.70,184.50 L411.11,184.50 L411.52,184.50 L411.93,184.50" stroke="#d0204a" stroke-width="0.75" fill="none" stroke-linejoin="round"/>
<path d="M373.67,177.47 L374.32,176.64 L374.79,176.34 L375.25,176.34 L375.71,176.53 L376.18,176.30 L376.64,175.96 L377.11,175.31 L377.57,175.19 L378.04,174.89 L378.50,174.46 L378.96,173.47 L379.43,174.08 L379.89,174.57 L380.36,174.41 L380.82,173.50 L381.29,172.56 L381.75,171.01 L382.21,169.83 L382.68,169.58 L383.14,168.71 L383.61,168.12 L384.07,167.46 L384.53,165.12 L385.00,163.47 L385.46,161.32 L385.93,159.05 L386.39,156.92 L386.86,155.00 L387.32,152.68 L387.78,149.20 L388.25,146.30 L388.71,143.14 L389.18,141.57 L389.64,139.94 L390.11,138.28 L390.57,136.31 L391.03,138.08 L391.50,140.37 L391.96,142.49 L392.43,145.92 L392.89,149.37 L393.36,154.47 L393.82,159.14 L394.28,163.38 L394.75,167.93 L395.21,172.69 L395.68,177.48 L396.14,179.61 L396.61,181.41 L397.07,182.94 L397.53,183.46 L398.00,184.50 L398.46,184.50 L398.87,184.50 L399.28,184.50 L399.69,184.50 L400.09,184.50 L400.50,184.50 L400.91,184.50 L401.32,184.50 L401.73,184.50 L402.13,184.50 L402.54,184.50 L402.95,184.50 L403.36,184.50 L403.77,184.50 L404.17,184.50 L404.58,184.50 L404.99,184.50 L405.40,184.50 L405.81,184.50 L406.21,184.50 L406.62,184.50 L407.03,184.50 L407.44,184.50 L407.85,184.50 L408.25,184.50 L408.66,184.50 L409.07,184.50 L409.48,184.50 L409.89,184.50 L410.29,184.50 L410.70,184.50 L411.11,184.50 L411.52,184.50 L411.93,184.50" stroke="#4a6db0" stroke-width="0.75" fill="none" stroke-linejoin="round"/>
<rect x="373.7" y="133.3" width="51.69999999999999" height="51.099999999999994" fill="none" stroke="#111" stroke-width="0.9"/>
<line x1="371.09999999999997" y1="184.0" x2="373.7" y2="184.0" stroke="#111" stroke-width="0.6" />
<text x="367.6" y="186.2" font-size="6.3" text-anchor="end" font-weight="normal" fill="#222" >0</text>
<line x1="371.09999999999997" y1="174.34" x2="373.7" y2="174.34" stroke="#111" stroke-width="0.6" />
<text x="367.6" y="176.54" font-size="6.3" text-anchor="end" font-weight="normal" fill="#222" >20</text>
<line x1="371.09999999999997" y1="164.68" x2="373.7" y2="164.68" stroke="#111" stroke-width="0.6" />
<text x="367.6" y="166.88" font-size="6.3" text-anchor="end" font-weight="normal" fill="#222" >40</text>
<line x1="371.09999999999997" y1="155.02" x2="373.7" y2="155.02" stroke="#111" stroke-width="0.6" />
<text x="367.6" y="157.22" font-size="6.3" text-anchor="end" font-weight="normal" fill="#222" >60</text>
<line x1="371.09999999999997" y1="145.36" x2="373.7" y2="145.36" stroke="#111" stroke-width="0.6" />
<text x="367.6" y="147.56" font-size="6.3" text-anchor="end" font-weight="normal" fill="#222" >80</text>
<line x1="371.09999999999997" y1="135.70000000000002" x2="373.7" y2="135.70000000000002" stroke="#111" stroke-width="0.6" />
<text x="367.6" y="137.9" font-size="6.3" text-anchor="end" font-weight="normal" fill="#222" >100</text>
<line x1="372.5" y1="184.0" x2="373.7" y2="184.0" stroke="#111" stroke-width="0.4" />
<line x1="372.5" y1="182.068" x2="373.7" y2="182.068" stroke="#111" stroke-width="0.4" />
<line x1="372.5" y1="180.136" x2="373.7" y2="180.136" stroke="#111" stroke-width="0.4" />
<line x1="372.5" y1="178.204" x2="373.7" y2="178.204" stroke="#111" stroke-width="0.4" />
<line x1="372.5" y1="176.272" x2="373.7" y2="176.272" stroke="#111" stroke-width="0.4" />
<line x1="372.5" y1="174.34" x2="373.7" y2="174.34" stroke="#111" stroke-width="0.4" />
<line x1="372.5" y1="172.40800000000002" x2="373.7" y2="172.40800000000002" stroke="#111" stroke-width="0.4" />
<line x1="372.5" y1="170.476" x2="373.7" y2="170.476" stroke="#111" stroke-width="0.4" />
<line x1="372.5" y1="168.544" x2="373.7" y2="168.544" stroke="#111" stroke-width="0.4" />
<line x1="372.5" y1="166.61200000000002" x2="373.7" y2="166.61200000000002" stroke="#111" stroke-width="0.4" />
<line x1="372.5" y1="164.68" x2="373.7" y2="164.68" stroke="#111" stroke-width="0.4" />
<line x1="372.5" y1="162.748" x2="373.7" y2="162.748" stroke="#111" stroke-width="0.4" />
<line x1="372.5" y1="160.816" x2="373.7" y2="160.816" stroke="#111" stroke-width="0.4" />
<line x1="372.5" y1="158.88400000000001" x2="373.7" y2="158.88400000000001" stroke="#111" stroke-width="0.4" />
<line x1="372.5" y1="156.952" x2="373.7" y2="156.952" stroke="#111" stroke-width="0.4" />
<line x1="372.5" y1="155.02" x2="373.7" y2="155.02" stroke="#111" stroke-width="0.4" />
<line x1="372.5" y1="153.08800000000002" x2="373.7" y2="153.08800000000002" stroke="#111" stroke-width="0.4" />
<line x1="372.5" y1="151.156" x2="373.7" y2="151.156" stroke="#111" stroke-width="0.4" />
<line x1="372.5" y1="149.22400000000002" x2="373.7" y2="149.22400000000002" stroke="#111" stroke-width="0.4" />
<line x1="372.5" y1="147.292" x2="373.7" y2="147.292" stroke="#111" stroke-width="0.4" />
<line x1="372.5" y1="145.36" x2="373.7" y2="145.36" stroke="#111" stroke-width="0.4" />
<line x1="372.5" y1="143.42800000000003" x2="373.7" y2="143.42800000000003" stroke="#111" stroke-width="0.4" />
<line x1="372.5" y1="141.496" x2="373.7" y2="141.496" stroke="#111" stroke-width="0.4" />
<line x1="372.5" y1="139.56400000000002" x2="373.7" y2="139.56400000000002" stroke="#111" stroke-width="0.4" />
<line x1="372.5" y1="137.632" x2="373.7" y2="137.632" stroke="#111" stroke-width="0.4" />
<line x1="372.5" y1="135.70000000000002" x2="373.7" y2="135.70000000000002" stroke="#111" stroke-width="0.4" />
<line x1="390.5" y1="184.4" x2="390.5" y2="186.3" stroke="#111" stroke-width="0.7" />
<line x1="392.5" y1="184.4" x2="392.5" y2="186.3" stroke="#111" stroke-width="0.7" />
<line x1="393.5" y1="184.4" x2="393.5" y2="186.3" stroke="#111" stroke-width="0.7" />
<line x1="394.5" y1="184.4" x2="394.5" y2="186.3" stroke="#111" stroke-width="0.7" />
<line x1="395.5" y1="184.4" x2="395.5" y2="186.3" stroke="#111" stroke-width="0.7" />
<line x1="396.5" y1="184.4" x2="396.5" y2="186.3" stroke="#111" stroke-width="0.7" />
<line x1="396.5" y1="184.4" x2="396.5" y2="186.3" stroke="#111" stroke-width="0.7" />
<line x1="397.5" y1="184.4" x2="397.5" y2="186.3" stroke="#111" stroke-width="0.7" />
<line x1="401.5" y1="184.4" x2="401.5" y2="186.3" stroke="#111" stroke-width="0.7" />
<line x1="403.5" y1="184.4" x2="403.5" y2="186.3" stroke="#111" stroke-width="0.7" />
<line x1="405.5" y1="184.4" x2="405.5" y2="186.3" stroke="#111" stroke-width="0.7" />
<line x1="406.5" y1="184.4" x2="406.5" y2="186.3" stroke="#111" stroke-width="0.7" />
<line x1="407.5" y1="184.4" x2="407.5" y2="186.3" stroke="#111" stroke-width="0.7" />
<line x1="408.5" y1="184.4" x2="408.5" y2="186.3" stroke="#111" stroke-width="0.7" />
<line x1="408.5" y1="184.4" x2="408.5" y2="186.3" stroke="#111" stroke-width="0.7" />
<line x1="409.5" y1="184.4" x2="409.5" y2="186.3" stroke="#111" stroke-width="0.7" />
<line x1="413.5" y1="184.4" x2="413.5" y2="186.3" stroke="#111" stroke-width="0.7" />
<line x1="415.5" y1="184.4" x2="415.5" y2="186.3" stroke="#111" stroke-width="0.7" />
<line x1="416.5" y1="184.4" x2="416.5" y2="186.3" stroke="#111" stroke-width="0.7" />
<line x1="417.5" y1="184.4" x2="417.5" y2="186.3" stroke="#111" stroke-width="0.7" />
<line x1="418.5" y1="184.4" x2="418.5" y2="186.3" stroke="#111" stroke-width="0.7" />
<line x1="419.5" y1="184.4" x2="419.5" y2="186.3" stroke="#111" stroke-width="0.7" />
<line x1="420.5" y1="184.4" x2="420.5" y2="186.3" stroke="#111" stroke-width="0.7" />
<line x1="420.5" y1="184.4" x2="420.5" y2="186.3" stroke="#111" stroke-width="0.7" />
<line x1="375.5" y1="184.4" x2="375.5" y2="186.3" stroke="#111" stroke-width="0.7" />
<line x1="380.5" y1="184.4" x2="380.5" y2="186.3" stroke="#111" stroke-width="0.7" />
<line x1="382.5" y1="184.4" x2="382.5" y2="186.3" stroke="#111" stroke-width="0.7" />
<line x1="383.5" y1="184.4" x2="383.5" y2="186.3" stroke="#111" stroke-width="0.7" />
<line x1="384.5" y1="184.4" x2="384.5" y2="186.3" stroke="#111" stroke-width="0.7" />
<line x1="385.5" y1="184.4" x2="385.5" y2="186.3" stroke="#111" stroke-width="0.7" />
<line x1="424.5" y1="184.4" x2="424.5" y2="186.3" stroke="#111" stroke-width="0.7" />
<line x1="377.836" y1="184.4" x2="377.836" y2="187.0" stroke="#111" stroke-width="0.7" />
<line x1="386.625" y1="184.4" x2="386.625" y2="187.0" stroke="#111" stroke-width="0.7" />
<line x1="397.99899999999997" y1="184.4" x2="397.99899999999997" y2="187.0" stroke="#111" stroke-width="0.7" />
<line x1="409.89" y1="184.4" x2="409.89" y2="187.0" stroke="#111" stroke-width="0.7" />
<line x1="421.264" y1="184.4" x2="421.264" y2="187.0" stroke="#111" stroke-width="0.7" />
<text x="378.9" y="195.4" font-size="6.4" text-anchor="middle" font-weight="normal" fill="#222" >0</text>
<text x="385.725" y="195.4" font-size="6.4" text-anchor="middle" font-weight="normal" fill="#222" >10<tspan font-size="4.3" dy="-2.6">2</tspan></text>
<text x="397.099" y="195.4" font-size="6.4" text-anchor="middle" font-weight="normal" fill="#222" >10<tspan font-size="4.3" dy="-2.6">3</tspan></text>
<text x="408.99" y="195.4" font-size="6.4" text-anchor="middle" font-weight="normal" fill="#222" >10<tspan font-size="4.3" dy="-2.6">4</tspan></text>
<text x="420.36400000000003" y="195.4" font-size="6.4" text-anchor="middle" font-weight="normal" fill="#222" >10<tspan font-size="4.3" dy="-2.6">5</tspan></text>
<text x="0" y="0" font-size="8.2" text-anchor="middle" font-weight="normal" fill="#222" transform="translate(399.54999999999995 119.2) scale(0.93 1)">Miltenyi clone</text>
<text x="0" y="0" font-size="8.2" text-anchor="middle" font-weight="normal" fill="#222" transform="translate(399.54999999999995 128.2) scale(0.93 1)">PD1.3.1.3 PE</text>
<text x="0" y="0" font-size="8.6" font-weight="bold" text-anchor="middle" fill="#333" transform="translate(351.6 158.85000000000002) rotate(-90) scale(0.64 1)">% of max</text>
<line x1="429.3" y1="39.7" x2="442.7" y2="39.7" stroke="#4a6db0" stroke-width="0.8" />
<line x1="429.3" y1="48.5" x2="442.7" y2="48.5" stroke="#d0204a" stroke-width="0.8" />
<text x="0" y="0" font-size="5.75" text-anchor="start" font-weight="normal" fill="#222" transform="translate(445.8 41.6) scale(0.86 1)">Anti-PD1</text>
<text x="0" y="0" font-size="5.75" text-anchor="start" font-weight="normal" fill="#222" transform="translate(445.8 50.4) scale(0.86 1)">Isotype Control</text>
<line x1="282.4" y1="202.7" x2="338.2" y2="202.7" stroke="#111" stroke-width="1.3" />
<line x1="360.6" y1="202.7" x2="418" y2="202.7" stroke="#111" stroke-width="1.3" />
<path d="M416.5,200.0 L425.3,202.7 L416.5,205.4 Z" fill="#111"/>
<text x="0" y="0" font-size="8.8" text-anchor="middle" fill="#222" transform="translate(350.0 205.4) scale(0.63 1)">PD-1</text>
<text x="6.6" y="120.4" font-size="11" text-anchor="start" font-weight="bold" fill="#000" style="stroke:#000;stroke-width:0.55px">C</text>
<line x1="69.8" y1="129.5" x2="89.6" y2="129.5" stroke="#be1640" stroke-width="1.4" />
<line x1="69.8" y1="140.8" x2="89.6" y2="140.8" stroke="#2f4f95" stroke-width="1.2" stroke-dasharray="3.4 1.9"/>
<line x1="69.8" y1="151.7" x2="89.6" y2="151.7" stroke="#6ab24a" stroke-width="1.2" />
<text x="0" y="0" font-size="7.93" text-anchor="start" font-weight="normal" fill="#222" transform="translate(92.6 131.9) scale(0.86 1)">irrelevant scFv</text>
<text x="0" y="0" font-size="7.93" text-anchor="start" font-weight="normal" fill="#222" transform="translate(92.6 143.1) scale(0.86 1)">full length pembro</text>
<text x="0" y="0" font-size="7.93" text-anchor="start" font-weight="normal" fill="#222" transform="translate(92.6 153.9) scale(0.86 1)">pembro scFv</text>
<path d="M40.95,265.88 C42.23,265.85 46.84,266.83 48.59,265.69 C50.34,264.54 50.59,263.78 51.45,259.01 C52.31,254.24 53.10,243.58 53.74,237.06 C54.38,230.54 54.76,224.27 55.27,219.89 C55.78,215.50 56.38,212.54 56.79,210.73 C57.21,208.91 57.37,208.75 57.75,209.01 C58.13,209.26 58.61,209.17 59.08,212.25 C59.56,215.34 60.04,222.11 60.61,227.52 C61.18,232.93 61.82,239.61 62.52,244.69 C63.22,249.78 63.95,254.81 64.81,258.05 C65.67,261.30 66.72,262.89 67.67,264.16 C68.63,265.43 68.78,265.40 70.53,265.69 C72.28,265.97 76.90,265.85 78.17,265.88" stroke="#be1640" stroke-width="1.3" fill="none"/>
<path d="M40.95,265.88 C43.02,265.88 50.34,266.16 53.36,265.88 C56.38,265.59 57.33,265.31 59.08,264.16 C60.83,263.02 62.42,262.41 63.85,259.01 C65.29,255.60 66.40,250.42 67.67,243.74 C68.94,237.06 70.38,227.04 71.49,218.93 C72.60,210.82 73.49,202.39 74.35,195.08 C75.21,187.76 75.91,179.81 76.64,175.04 C77.37,170.27 78.17,167.40 78.74,166.45 C79.31,165.50 79.54,166.45 80.08,169.31 C80.62,172.18 81.19,176.47 81.98,183.63 C82.78,190.78 83.89,204.30 84.85,212.25 C85.80,220.20 86.60,225.93 87.71,231.34 C88.82,236.74 90.10,240.56 91.53,244.69 C92.96,248.83 94.71,253.12 96.30,256.15 C97.89,259.17 99.48,261.30 101.07,262.82 C102.66,264.35 103.93,264.80 105.84,265.31 C107.75,265.81 111.41,265.78 112.52,265.88" stroke="#2f4f95" stroke-width="1.2" fill="none" stroke-dasharray="3.4 1.9"/>
<path d="M74.35,265.88 C74.99,265.59 77.05,265.72 78.17,264.16 C79.28,262.60 80.14,260.73 81.03,256.53 C81.92,252.33 82.72,245.39 83.51,238.97 C84.31,232.54 85.17,225.29 85.80,217.98 C86.44,210.66 86.91,200.48 87.33,195.08 C87.74,189.67 88.00,187.60 88.28,185.53 C88.57,183.47 88.79,182.99 89.05,182.67 C89.30,182.35 89.55,184.26 89.81,183.63 C90.06,182.99 90.32,180.06 90.57,178.85 C90.83,177.65 91.08,176.47 91.34,176.37 C91.59,176.28 91.84,176.76 92.10,178.28 C92.35,179.81 92.61,183.94 92.86,185.53 C93.12,187.12 93.37,186.62 93.63,187.82 C93.88,189.03 93.94,188.40 94.39,192.79 C94.83,197.18 95.66,206.78 96.30,214.16 C96.93,221.54 97.47,230.38 98.21,237.06 C98.94,243.74 99.73,249.85 100.69,254.24 C101.64,258.63 102.75,261.52 103.93,263.40 C105.11,265.27 106.32,265.08 107.75,265.50 C109.18,265.91 110.45,265.81 112.52,265.88 C114.59,265.94 118.88,265.88 120.15,265.88" stroke="#6ab24a" stroke-width="1.1" fill="none"/>
<path d="M39.7,158.3 H148.3 V266.4 H39.7 Z" stroke="#111" stroke-width="1" fill="none"/>
<line x1="36.7" y1="266.4" x2="39.7" y2="266.4" stroke="#111" stroke-width="0.8" />
<text x="33.2" y="269.2" font-size="7.8" text-anchor="end" font-weight="normal" fill="#222" >0</text>
<line x1="36.7" y1="240.89999999999998" x2="39.7" y2="240.89999999999998" stroke="#111" stroke-width="0.8" />
<text x="33.2" y="243.7" font-size="7.8" text-anchor="end" font-weight="normal" fill="#222" >100</text>
<line x1="36.7" y1="215.39999999999998" x2="39.7" y2="215.39999999999998" stroke="#111" stroke-width="0.8" />
<text x="33.2" y="218.2" font-size="7.8" text-anchor="end" font-weight="normal" fill="#222" >200</text>
<line x1="36.7" y1="189.89999999999998" x2="39.7" y2="189.89999999999998" stroke="#111" stroke-width="0.8" />
<text x="33.2" y="192.7" font-size="7.8" text-anchor="end" font-weight="normal" fill="#222" >300</text>
<line x1="36.7" y1="164.39999999999998" x2="39.7" y2="164.39999999999998" stroke="#111" stroke-width="0.8" />
<text x="33.2" y="167.2" font-size="7.8" text-anchor="end" font-weight="normal" fill="#222" >400</text>
<line x1="38.2" y1="266.4" x2="39.7" y2="266.4" stroke="#111" stroke-width="0.6" />
<line x1="38.2" y1="260.025" x2="39.7" y2="260.025" stroke="#111" stroke-width="0.6" />
<line x1="38.2" y1="253.64999999999998" x2="39.7" y2="253.64999999999998" stroke="#111" stroke-width="0.6" />
<line x1="38.2" y1="247.27499999999998" x2="39.7" y2="247.27499999999998" stroke="#111" stroke-width="0.6" />
<line x1="38.2" y1="240.89999999999998" x2="39.7" y2="240.89999999999998" stroke="#111" stroke-width="0.6" />
<line x1="38.2" y1="234.52499999999998" x2="39.7" y2="234.52499999999998" stroke="#111" stroke-width="0.6" />
<line x1="38.2" y1="228.14999999999998" x2="39.7" y2="228.14999999999998" stroke="#111" stroke-width="0.6" />
<line x1="38.2" y1="221.77499999999998" x2="39.7" y2="221.77499999999998" stroke="#111" stroke-width="0.6" />
<line x1="38.2" y1="215.39999999999998" x2="39.7" y2="215.39999999999998" stroke="#111" stroke-width="0.6" />
<line x1="38.2" y1="209.02499999999998" x2="39.7" y2="209.02499999999998" stroke="#111" stroke-width="0.6" />
<line x1="38.2" y1="202.64999999999998" x2="39.7" y2="202.64999999999998" stroke="#111" stroke-width="0.6" />
<line x1="38.2" y1="196.27499999999998" x2="39.7" y2="196.27499999999998" stroke="#111" stroke-width="0.6" />
<line x1="38.2" y1="189.89999999999998" x2="39.7" y2="189.89999999999998" stroke="#111" stroke-width="0.6" />
<line x1="38.2" y1="183.52499999999998" x2="39.7" y2="183.52499999999998" stroke="#111" stroke-width="0.6" />
<line x1="38.2" y1="177.14999999999998" x2="39.7" y2="177.14999999999998" stroke="#111" stroke-width="0.6" />
<line x1="38.2" y1="170.77499999999998" x2="39.7" y2="170.77499999999998" stroke="#111" stroke-width="0.6" />
<line x1="38.2" y1="164.39999999999998" x2="39.7" y2="164.39999999999998" stroke="#111" stroke-width="0.6" />
<line x1="48.8" y1="266.4" x2="48.8" y2="268.9" stroke="#111" stroke-width="0.8" />
<line x1="95.4" y1="266.4" x2="95.4" y2="268.9" stroke="#111" stroke-width="0.8" />
<line x1="133.1" y1="266.4" x2="133.1" y2="268.9" stroke="#111" stroke-width="0.8" />
<line x1="42.5" y1="266.4" x2="42.5" y2="268.7" stroke="#000" stroke-width="0.75" />
<line x1="44.5" y1="266.4" x2="44.5" y2="268.7" stroke="#000" stroke-width="0.75" />
<line x1="46.5" y1="266.4" x2="46.5" y2="268.7" stroke="#000" stroke-width="0.75" />
<line x1="47.5" y1="266.4" x2="47.5" y2="268.7" stroke="#000" stroke-width="0.75" />
<line x1="50.5" y1="266.4" x2="50.5" y2="268.7" stroke="#000" stroke-width="0.75" />
<line x1="51.5" y1="266.4" x2="51.5" y2="268.7" stroke="#000" stroke-width="0.75" />
<line x1="53.5" y1="266.4" x2="53.5" y2="268.7" stroke="#000" stroke-width="0.75" />
<line x1="56.5" y1="266.4" x2="56.5" y2="268.7" stroke="#000" stroke-width="0.75" />
<line x1="60.5" y1="266.4" x2="60.5" y2="268.7" stroke="#000" stroke-width="0.75" />
<line x1="65.5" y1="266.4" x2="65.5" y2="268.7" stroke="#000" stroke-width="0.75" />
<line x1="71.5" y1="266.4" x2="71.5" y2="268.7" stroke="#000" stroke-width="0.75" />
<line x1="77.5" y1="266.4" x2="77.5" y2="268.7" stroke="#000" stroke-width="0.75" />
<line x1="82.5" y1="266.4" x2="82.5" y2="268.7" stroke="#000" stroke-width="0.75" />
<line x1="86.5" y1="266.4" x2="86.5" y2="268.7" stroke="#000" stroke-width="0.75" />
<line x1="89.5" y1="266.4" x2="89.5" y2="268.7" stroke="#000" stroke-width="0.75" />
<line x1="91.5" y1="266.4" x2="91.5" y2="268.7" stroke="#000" stroke-width="0.75" />
<line x1="93.5" y1="266.4" x2="93.5" y2="268.7" stroke="#000" stroke-width="0.75" />
<line x1="106.5" y1="266.4" x2="106.5" y2="268.7" stroke="#000" stroke-width="0.75" />
<line x1="113.5" y1="266.4" x2="113.5" y2="268.7" stroke="#000" stroke-width="0.75" />
<line x1="118.5" y1="266.4" x2="118.5" y2="268.7" stroke="#000" stroke-width="0.75" />
<line x1="121.5" y1="266.4" x2="121.5" y2="268.7" stroke="#000" stroke-width="0.75" />
<line x1="124.5" y1="266.4" x2="124.5" y2="268.7" stroke="#000" stroke-width="0.75" />
<line x1="127.5" y1="266.4" x2="127.5" y2="268.7" stroke="#000" stroke-width="0.75" />
<line x1="129.5" y1="266.4" x2="129.5" y2="268.7" stroke="#000" stroke-width="0.75" />
<line x1="131.5" y1="266.4" x2="131.5" y2="268.7" stroke="#000" stroke-width="0.75" />
<line x1="144.5" y1="266.4" x2="144.5" y2="268.7" stroke="#000" stroke-width="0.75" />
<text x="48.9" y="279.5" font-size="7.8" text-anchor="middle" font-weight="normal" fill="#222" >0</text>
<text x="95.0" y="279.5" font-size="7.8" text-anchor="middle" font-weight="normal" fill="#222" >10<tspan font-size="5.15" dy="-3.12">4</tspan></text>
<text x="131.8" y="279.5" font-size="7.8" text-anchor="middle" font-weight="normal" fill="#222" >10<tspan font-size="5.15" dy="-3.12">5</tspan></text>
<text x="0" y="0" font-size="9.5" font-weight="normal" text-anchor="middle" fill="#222" transform="translate(15.0 212.6) rotate(-90) scale(0.64 1)">Count</text>
<text x="0" y="0" font-size="9.6" font-weight="normal" text-anchor="middle" fill="#222" transform="translate(93.6 292.0) scale(0.62 1)">PD-1</text>
<text x="243.0" y="215.7" font-size="11" text-anchor="start" font-weight="bold" fill="#000" style="stroke:#000;stroke-width:0.55px">D</text>
<line x1="368.71" y1="221.8" x2="368.71" y2="369.4" stroke="#f2b6aa" stroke-width="0.65"/>
<path d="M281.70,369.95 L282.04,367.80 L282.38,366.08 L282.72,365.00 L283.05,363.77 L283.39,362.02 L283.73,359.90 L284.07,358.74 L284.41,357.76 L284.75,356.42 L285.08,354.56 L285.42,352.41 L285.76,350.94 L286.10,349.72 L286.44,348.83 L286.78,347.06 L287.11,345.77 L287.45,344.59 L287.79,344.26 L288.13,342.86 L288.47,341.33 L288.81,339.85 L289.14,338.63 L289.48,337.36 L289.82,335.85 L290.16,334.32 L290.50,333.13 L290.84,332.59 L291.17,331.51 L291.51,330.77 L291.85,329.19 L292.19,328.61 L292.53,327.10 L292.87,326.14 L293.20,324.58 L293.54,322.61 L293.88,321.32 L294.22,320.08 L294.56,320.23 L294.90,319.24 L295.24,318.24 L295.57,316.87 L295.91,315.67 L296.25,314.81 L296.59,314.04 L296.93,312.99 L297.27,312.25 L297.60,310.52 L297.94,309.83 L298.28,308.48 L298.62,308.03 L298.96,306.71 L299.30,306.12 L299.63,304.94 L299.97,304.31 L300.31,302.92 L300.65,302.13 L300.99,301.18 L301.33,300.85 L301.66,299.94 L302.00,299.00 L302.34,297.52 L302.68,296.98 L303.02,296.10 L303.36,295.36 L303.69,294.17 L304.03,293.24 L304.37,292.32 L304.71,291.55 L305.05,290.88 L305.39,290.05 L305.72,288.76 L306.06,287.12 L306.40,285.79 L306.74,284.72 L307.08,283.96 L307.42,283.10 L307.76,282.40 L308.09,281.47 L308.43,280.27 L308.77,279.50 L309.11,278.98 L309.45,278.03 L309.79,276.99 L310.12,275.67 L310.46,275.08 L310.80,274.58 L311.14,273.33 L311.48,272.23 L311.82,271.04 L312.15,270.64 L312.49,270.24 L312.83,269.69 L313.17,269.09 L313.51,268.21 L313.85,266.87 L314.18,265.85 L314.52,265.13 L314.86,264.27 L315.20,263.87 L315.54,262.90 L315.88,262.18 L316.21,261.29 L316.55,261.21 L316.89,260.98 L317.23,260.08 L317.57,258.72 L317.91,257.33 L318.25,256.92 L318.58,256.41 L318.92,256.12 L319.26,255.36 L319.60,255.47 L319.94,254.91 L320.28,253.74 L320.61,252.34 L320.95,252.29 L321.29,252.52 L321.63,252.23 L321.97,250.84 L322.31,250.09 L322.64,249.63 L322.98,249.41 L323.32,249.12 L323.66,248.19 L324.00,248.33 L324.34,247.97 L324.67,247.82 L325.01,246.82 L325.35,246.08 L325.69,245.75 L326.03,246.17 L326.37,246.10 L326.70,245.91 L327.04,245.15 L327.38,244.39 L327.72,243.90 L328.06,243.14 L328.40,242.87 L328.73,242.47 L329.07,242.25 L329.41,241.76 L329.75,241.06 L330.09,240.83 L330.43,240.62 L330.77,240.82 L331.10,239.90 L331.44,239.08 L331.78,238.40 L332.12,238.58 L332.46,238.93 L332.80,238.48 L333.13,237.95 L333.47,236.69 L333.81,236.32 L334.15,236.24 L334.49,237.12 L334.83,236.47 L335.16,235.88 L335.50,235.33 L335.84,235.33 L336.18,235.47 L336.52,233.81 L336.86,233.24 L337.19,232.35 L337.53,233.00 L337.87,233.57 L338.21,233.54 L338.55,233.68 L338.89,232.74 L339.22,233.06 L339.56,232.67 L339.90,232.30 L340.24,231.09 L340.58,230.96 L340.92,231.49 L341.25,231.49 L341.59,230.76 L341.93,230.42 L342.27,230.65 L342.61,230.87 L342.95,230.73 L343.29,230.55 L343.62,229.85 L343.96,229.18 L344.30,228.28 L344.64,228.46 L344.98,228.51 L345.32,229.14 L345.65,228.99 L345.99,229.14 L346.33,229.18 L346.67,228.81 L347.01,227.93 L347.35,227.08 L347.68,226.76 L348.02,226.92 L348.36,227.19 L348.70,227.37 L349.04,227.39 L349.38,227.36 L349.71,227.69 L350.05,227.84 L350.39,227.41 L350.73,226.79 L351.07,226.40 L351.41,225.89 L351.74,225.75 L352.08,225.35 L352.42,225.28 L352.76,225.42 L353.10,226.00 L353.44,226.02 L353.77,225.89 L354.11,224.93 L354.45,224.94 L354.79,224.41 L355.13,224.46 L355.47,225.01 L355.81,225.00 L356.14,225.30 L356.48,224.86 L356.82,225.09 L357.16,224.63 L357.50,224.12 L357.84,223.66 L358.17,224.22 L358.51,224.54 L358.85,225.36 L359.19,224.88 L359.53,224.50 L359.87,224.01 L360.20,223.85 L360.54,223.88 L360.88,223.35 L361.22,223.58 L361.56,223.80 L361.90,224.21 L362.23,223.47 L362.57,222.91 L362.91,222.69 L363.25,223.04 L363.59,223.24 L363.93,223.11 L364.26,223.17 L364.60,223.23 L364.94,223.54 L365.28,223.58 L365.62,222.99 L365.96,222.44 L366.29,222.30 L366.63,222.61 L366.97,222.67 L367.31,222.53 L367.65,222.58 L367.99,222.48 L368.33,222.45 L368.66,222.42 L369.00,222.82 L369.34,223.31 L369.68,223.56 L370.02,223.28 L370.36,223.81 L370.69,223.76 L371.03,224.32 L371.37,224.03 L371.71,224.10 L372.05,223.81 L372.39,223.79 L372.72,224.01 L373.06,224.64 L373.40,224.86 L373.74,224.75 L374.08,224.85 L374.42,225.29 L374.75,226.03 L375.09,226.38 L375.43,226.61 L375.77,226.15 L376.11,225.95 L376.45,225.88 L376.78,226.02 L377.12,226.52 L377.46,226.49 L377.80,226.89 L378.14,227.36 L378.48,228.20 L378.82,228.88 L379.15,228.47 L379.49,227.95 L379.83,228.25 L380.17,228.45 L380.51,229.12 L380.85,229.13 L381.18,229.78 L381.52,230.00 L381.86,230.60 L382.20,230.95 L382.54,231.42 L382.88,231.04 L383.21,230.46 L383.55,229.66 L383.89,230.12 L384.23,231.37 L384.57,232.45 L384.91,232.85 L385.24,232.12 L385.58,232.11 L385.92,232.30 L386.26,232.82 L386.60,233.08 L386.94,233.56 L387.27,234.19 L387.61,234.64 L387.95,234.45 L388.29,234.52 L388.63,234.79 L388.97,234.99 L389.30,235.43 L389.64,235.82 L389.98,235.71 L390.32,235.71 L390.66,235.58 L391.00,236.60 L391.34,236.95 L391.67,237.05 L392.01,237.17 L392.35,237.04 L392.69,237.57 L393.03,237.32 L393.37,237.85 L393.70,237.90 L394.04,237.89 L394.38,238.16 L394.72,238.01 L395.06,238.74 L395.40,239.08 L395.73,239.51 L396.07,239.79 L396.41,239.84 L396.75,239.99 L397.09,239.60 L397.43,240.17 L397.76,240.48 L398.10,240.50 L398.44,239.86 L398.78,240.17 L399.12,240.94 L399.46,241.45 L399.79,241.80 L400.13,241.83 L400.47,241.91 L400.81,241.76 L401.15,241.49 L401.49,241.62 L401.82,242.08 L402.16,242.22 L402.50,242.56 L402.84,242.41 L403.18,242.83 L403.52,242.75 L403.86,243.01 L404.19,243.15 L404.53,242.60 L404.87,242.61 L405.21,242.69 L405.55,243.08 L405.89,242.84 L406.22,242.71 L406.56,242.89 L406.90,243.72 L407.24,244.26 L407.58,244.57 L407.92,244.03 L408.25,243.57 L408.59,243.59 L408.93,243.90 L409.27,244.34 L409.61,244.63 L409.95,244.62 L410.28,244.56 L410.62,244.71 L410.96,245.10 L411.30,245.61 L411.64,245.34 L411.98,244.90 L412.31,244.52 L412.65,244.70 L412.99,244.93 L413.33,245.30 L413.67,245.46 L414.01,246.07 L414.34,246.23 L414.68,246.71 L415.02,246.35 L415.36,246.56 L415.70,246.51 L416.04,246.70 L416.38,246.30 L416.71,246.59 L417.05,247.06 L417.39,247.31 L417.73,247.49 L418.07,247.21 L418.41,247.67 L418.74,247.49 L419.08,248.18 L419.42,247.94 L419.76,248.13 L420.10,247.98 L420.44,247.71 L420.77,247.48 L421.11,246.40 L421.45,246.93 L421.79,247.30 L422.13,248.29 L422.47,248.06 L422.80,248.07 L423.14,248.06 L423.48,248.44 L423.82,248.76 L424.16,248.94 L424.50,249.30 L424.83,249.47 L425.17,249.36 L425.51,249.15 L425.85,248.89 L426.19,249.44 L426.53,250.24 L426.87,250.22 L427.20,250.09 L427.54,250.09 L427.88,250.33 L428.22,250.79 L428.56,250.44 L428.90,250.47 L429.23,250.07 L429.57,250.09 L429.91,250.17 L430.25,250.65 L430.59,250.90 L430.93,251.17 L431.26,251.01 L431.60,250.93 L431.94,250.72 L432.28,250.31 L432.62,251.15 L432.96,251.29 L433.29,251.86 L433.63,250.67 L433.97,250.62 L434.31,251.09 L434.65,251.67 L434.99,252.14 L435.32,251.52 L435.66,252.00 L436.00,251.97 L436.34,252.35 L436.68,252.19 L437.02,252.40 L437.35,252.93 L437.69,252.87 L438.03,252.53 L438.37,252.15 L438.71,252.62 L439.05,252.91 L439.39,252.83 L439.72,252.69 L440.06,252.83 L440.40,252.68 L440.74,253.02 L441.08,253.24 L441.42,254.20 L441.75,254.17 L442.09,254.30 L442.43,254.13 L442.77,254.21 L443.11,253.62 L443.45,253.50 L443.78,253.43 L444.12,253.40 L444.46,253.45 L444.80,253.96 L445.14,254.51 L445.48,254.82 L445.81,254.01 L446.15,254.53 L446.49,254.52 L446.83,255.45 L447.17,255.18 L447.51,255.37 L447.84,255.05 L448.18,255.25 L448.52,255.23 L448.86,255.04 L449.20,254.77 L449.54,254.68 L449.87,255.24 L450.21,255.85 L450.55,255.88 L450.89,255.09 L451.23,255.00 L451.57,255.36 L451.91,256.26 L452.24,256.50 L452.58,256.63 L452.92,256.58 L453.26,255.99 L453.60,255.81 L453.94,255.97 L454.27,256.86 L454.61,256.88 L454.95,256.83 L455.29,256.81 L455.63,257.23 L455.97,257.31 L456.30,256.80 L456.64,256.42 L456.98,256.44 L457.32,256.87 L457.66,257.03 L458.00,257.16 L458.33,256.58 L458.67,257.04 L459.01,257.21 L459.35,257.53 L459.69,257.38 L460.03,256.98 L460.36,257.40 L460.70,257.37 L461.04,257.91 L461.38,258.34 L461.72,258.71 L462.06,258.10 L462.39,257.64 L462.73,257.29 L463.07,257.70 L463.41,257.79 L463.75,257.75 L464.09,258.15 L464.43,258.43 L464.76,258.51 L465.10,258.61 L465.44,258.97 L465.78,259.36 L466.12,259.49 L466.46,259.04 L466.79,259.25 L467.13,259.45 L467.47,259.78 L467.81,259.25 L468.15,259.05 L468.49,258.99 L468.82,259.47 L469.16,259.45 L469.50,259.32 L469.84,259.03 L470.18,259.61 L470.52,259.57 L470.85,260.01 L471.19,259.73 L471.53,259.53 L471.87,259.64 L472.21,259.11 L472.55,259.56 L472.88,259.86 L473.22,260.31 L473.56,260.45 L473.90,260.28 L474.24,261.09 L474.58,261.45 L474.91,261.53 L475.25,261.28 L475.59,260.78 L475.93,260.86 L476.27,260.74 L476.61,261.37 L476.95,261.59 L477.28,261.76 L477.62,261.72 L477.96,261.50 L478.30,261.50 L478.64,261.62 L478.98,262.14 L479.31,261.94 L479.65,262.18 L479.99,261.82 L480.33,262.27 L480.67,262.28 L481.01,262.35 L481.34,262.49 L481.68,261.78 L482.02,261.91 L482.36,261.68 L482.70,262.59 L483.04,262.23 L483.37,261.91 L483.71,261.71 L484.05,262.56 L484.39,263.13 L484.73,263.11 L485.07,262.96 L485.40,263.22 L485.74,263.78 L486.08,263.93 L486.42,263.69 L486.76,263.63 L487.10,263.50 L487.44,262.84 L487.77,262.28 L488.11,262.64 L488.45,263.36 L488.79,263.89 L489.13,263.73 L489.47,263.62 L489.80,263.81 L490.14,263.94 L490.48,264.39 L490.82,264.41 L491.16,264.06 L491.50,263.83 L491.83,264.24 L492.17,264.77 L492.51,265.27 L492.85,264.77 L493.19,264.68 L493.53,264.31 L493.86,264.62 L494.20,265.26 L494.54,265.45 L494.88,265.45 L495.22,264.89 L495.56,265.43 L495.89,265.55 L496.23,265.94 L496.57,265.85 L496.91,265.86 L497.25,265.66 L497.59,265.79 L497.92,266.41 L498.26,267.24 L498.60,267.23 L498.94,266.56 L499.28,266.00 L499.62,266.51 L499.96,267.12 L500.29,267.07 L500.63,266.11 L500.97,265.65 L501.31,265.74 L501.65,266.20 L501.99,266.87 L502.32,267.16 L502.66,267.37 L503.00,267.37 L503.34,267.31 L503.68,267.40 L504.02,267.19 L504.35,266.90 L504.69,266.68 L505.03,266.73 L505.37,267.25 L505.71,267.92 L506.05,268.13 L506.38,268.00 L506.72,267.94 L507.06,267.66 L507.40,267.96 L507.74,267.67 L508.08,268.16 L508.41,268.48 L508.75,268.11 L509.09,268.40 L509.43,267.90 L509.77,268.67 L510.11,268.36 L510.44,268.89 L510.78,268.93 L511.12,268.84 L511.46,268.18 L511.80,268.37 L512.14,268.91" stroke="#8080dc" stroke-width="0.65" fill="none" stroke-linejoin="round"/>
<path d="M281.70,369.40 L282.18,367.18 L282.67,365.00 L283.15,362.84 L283.63,360.72 L284.12,358.62 L284.60,356.56 L285.08,354.53 L285.57,352.52 L286.05,350.55 L286.53,348.60 L287.02,346.68 L287.50,344.79 L287.98,342.93 L288.47,341.09 L288.95,339.28 L289.43,337.50 L289.92,335.74 L290.40,334.00 L290.88,332.30 L291.37,330.61 L291.85,328.95 L292.33,327.32 L292.82,325.70 L293.30,324.12 L293.78,322.55 L294.27,321.01 L294.75,319.48 L295.24,317.99 L295.72,316.51 L296.20,315.05 L296.69,313.61 L297.17,312.20 L297.65,310.81 L298.14,309.43 L298.62,308.08 L299.10,306.74 L299.59,305.42 L300.07,304.13 L300.55,302.85 L301.04,301.59 L301.52,300.35 L302.00,299.12 L302.49,297.92 L302.97,296.73 L303.45,295.56 L303.94,294.40 L304.42,293.26 L304.90,292.14 L305.39,291.03 L305.87,289.94 L306.35,288.87 L306.84,287.81 L307.32,286.77 L307.80,285.74 L308.29,284.73 L308.77,283.73 L309.25,282.74 L309.74,281.77 L310.22,280.81 L310.70,279.87 L311.19,278.94 L311.67,278.03 L312.15,277.12 L312.64,276.23 L313.12,275.36 L313.60,274.49 L314.09,273.64 L314.57,272.80 L315.05,271.97 L315.54,271.16 L316.02,270.36 L316.50,269.56 L316.99,268.78 L317.47,268.01 L317.95,267.25 L318.44,266.51 L318.92,265.77 L319.41,265.04 L319.89,264.33 L320.37,263.62 L320.86,262.93 L321.34,262.24 L321.82,261.57 L322.31,260.90 L322.79,260.24 L323.27,259.60 L323.76,258.96 L324.24,258.33 L324.72,257.71 L325.21,257.10 L325.69,256.50 L326.17,255.91 L326.66,255.32 L327.14,254.75 L327.62,254.18 L328.11,253.62 L328.59,253.07 L329.07,252.53 L329.56,251.99 L330.04,251.46 L330.52,250.94 L331.01,250.43 L331.49,249.92 L331.97,249.43 L332.46,248.93 L332.94,248.45 L333.42,247.97 L333.91,247.50 L334.39,247.04 L334.87,246.58 L335.36,246.13 L335.84,245.69 L336.32,245.25 L336.81,244.82 L337.29,244.40 L337.77,243.98 L338.26,243.57 L338.74,243.16 L339.22,242.76 L339.71,242.36 L340.19,241.97 L340.67,241.59 L341.16,241.21 L341.64,240.84 L342.12,240.47 L342.61,240.11 L343.09,239.75 L343.58,239.40 L344.06,239.06 L344.54,238.71 L345.03,238.38 L345.51,238.05 L345.99,237.72 L346.48,237.40 L346.96,237.08 L347.44,236.76 L347.93,236.46 L348.41,236.15 L348.89,235.85 L349.38,235.56 L349.86,235.26 L350.34,234.98 L350.83,234.69 L351.31,234.42 L351.79,234.14 L352.28,233.87 L352.76,233.60 L353.24,233.34 L353.73,233.08 L354.21,232.82 L354.69,232.57 L355.18,232.32 L355.66,232.08 L356.14,231.84 L356.63,231.60 L357.11,231.37 L357.59,231.14 L358.08,230.91 L358.56,230.68 L359.04,230.46 L359.53,230.24 L360.01,230.03 L360.49,229.82 L360.98,229.61 L361.46,229.40 L361.94,229.20 L362.43,229.00 L362.91,228.80 L363.39,228.61 L363.88,228.42 L364.36,228.23 L364.84,228.04 L365.33,227.86 L365.81,227.68 L366.29,227.50 L366.78,227.33 L367.26,227.15 L367.75,226.98 L368.23,226.82 L368.71,226.65 L369.20,226.82 L369.68,226.98 L370.16,227.15 L370.65,227.31 L371.13,227.48 L371.61,227.64 L372.10,227.80 L372.58,227.97 L373.06,228.13 L373.55,228.30 L374.03,228.46 L374.51,228.62 L375.00,228.79 L375.48,228.95 L375.96,229.11 L376.45,229.28 L376.93,229.44 L377.41,229.60 L377.90,229.76 L378.38,229.92 L378.86,230.09 L379.35,230.25 L379.83,230.41 L380.31,230.57 L380.80,230.73 L381.28,230.89 L381.76,231.05 L382.25,231.21 L382.73,231.37 L383.21,231.53 L383.70,231.69 L384.18,231.85 L384.66,232.01 L385.15,232.17 L385.63,232.33 L386.11,232.49 L386.60,232.65 L387.08,232.81 L387.56,232.96 L388.05,233.12 L388.53,233.28 L389.01,233.44 L389.50,233.60 L389.98,233.75 L390.46,233.91 L390.95,234.07 L391.43,234.22 L391.92,234.38 L392.40,234.54 L392.88,234.69 L393.37,234.85 L393.85,235.01 L394.33,235.16 L394.82,235.32 L395.30,235.47 L395.78,235.63 L396.27,235.78 L396.75,235.94 L397.23,236.09 L397.72,236.25 L398.20,236.40 L398.68,236.56 L399.17,236.71 L399.65,236.86 L400.13,237.02 L400.62,237.17 L401.10,237.32 L401.58,237.48 L402.07,237.63 L402.55,237.78 L403.03,237.94 L403.52,238.09 L404.00,238.24 L404.48,238.39 L404.97,238.54 L405.45,238.70 L405.93,238.85 L406.42,239.00 L406.90,239.15 L407.38,239.30 L407.87,239.45 L408.35,239.60 L408.83,239.75 L409.32,239.90 L409.80,240.05 L410.28,240.20 L410.77,240.35 L411.25,240.50 L411.73,240.65 L412.22,240.80 L412.70,240.95 L413.18,241.10 L413.67,241.25 L414.15,241.40 L414.63,241.55 L415.12,241.69 L415.60,241.84 L416.09,241.99 L416.57,242.14 L417.05,242.28 L417.54,242.43 L418.02,242.58 L418.50,242.73 L418.99,242.87 L419.47,243.02 L419.95,243.17 L420.44,243.31 L420.92,243.46 L421.40,243.61 L421.89,243.75 L422.37,243.90 L422.85,244.04 L423.34,244.19 L423.82,244.33 L424.30,244.48 L424.79,244.62 L425.27,244.77 L425.75,244.91 L426.24,245.06 L426.72,245.20 L427.20,245.34 L427.69,245.49 L428.17,245.63 L428.65,245.77 L429.14,245.92 L429.62,246.06 L430.10,246.20 L430.59,246.35 L431.07,246.49 L431.55,246.63 L432.04,246.77 L432.52,246.92 L433.00,247.06 L433.49,247.20 L433.97,247.34 L434.45,247.48 L434.94,247.63 L435.42,247.77 L435.90,247.91 L436.39,248.05 L436.87,248.19 L437.35,248.33 L437.84,248.47 L438.32,248.61 L438.80,248.75 L439.29,248.89 L439.77,249.03 L440.26,249.17 L440.74,249.31 L441.22,249.45 L441.71,249.59 L442.19,249.73 L442.67,249.86 L443.16,250.00 L443.64,250.14 L444.12,250.28 L444.61,250.42 L445.09,250.56 L445.57,250.69 L446.06,250.83 L446.54,250.97 L447.02,251.11 L447.51,251.24 L447.99,251.38 L448.47,251.52 L448.96,251.65 L449.44,251.79 L449.92,251.93 L450.41,252.06 L450.89,252.20 L451.37,252.33 L451.86,252.47 L452.34,252.61 L452.82,252.74 L453.31,252.88 L453.79,253.01 L454.27,253.15 L454.76,253.28 L455.24,253.42 L455.72,253.55 L456.21,253.68 L456.69,253.82 L457.17,253.95 L457.66,254.09 L458.14,254.22 L458.62,254.35 L459.11,254.49 L459.59,254.62 L460.07,254.75 L460.56,254.89 L461.04,255.02 L461.52,255.15 L462.01,255.28 L462.49,255.42 L462.98,255.55 L463.46,255.68 L463.94,255.81 L464.43,255.94 L464.91,256.08 L465.39,256.21 L465.88,256.34 L466.36,256.47 L466.84,256.60 L467.33,256.73 L467.81,256.86 L468.29,256.99 L468.78,257.12 L469.26,257.25 L469.74,257.38 L470.23,257.51 L470.71,257.64 L471.19,257.77 L471.68,257.90 L472.16,258.03 L472.64,258.16 L473.13,258.29 L473.61,258.42 L474.09,258.55 L474.58,258.67 L475.06,258.80 L475.54,258.93 L476.03,259.06 L476.51,259.19 L476.99,259.31 L477.48,259.44 L477.96,259.57 L478.44,259.70 L478.93,259.82 L479.41,259.95 L479.89,260.08 L480.38,260.21 L480.86,260.33 L481.34,260.46 L481.83,260.58 L482.31,260.71 L482.79,260.84 L483.28,260.96 L483.76,261.09 L484.24,261.21 L484.73,261.34 L485.21,261.46 L485.69,261.59 L486.18,261.71 L486.66,261.84 L487.14,261.96 L487.63,262.09 L488.11,262.21 L488.60,262.34 L489.08,262.46 L489.56,262.59 L490.05,262.71 L490.53,262.83 L491.01,262.96 L491.50,263.08 L491.98,263.20 L492.46,263.33 L492.95,263.45 L493.43,263.57 L493.91,263.69 L494.40,263.82 L494.88,263.94 L495.36,264.06 L495.85,264.18 L496.33,264.31 L496.81,264.43 L497.30,264.55 L497.78,264.67 L498.26,264.79 L498.75,264.91 L499.23,265.04 L499.71,265.16 L500.20,265.28 L500.68,265.40 L501.16,265.52 L501.65,265.64 L502.13,265.76 L502.61,265.88 L503.10,266.00 L503.58,266.12 L504.06,266.24 L504.55,266.36 L505.03,266.48 L505.51,266.60 L506.00,266.72 L506.48,266.84 L506.96,266.95 L507.45,267.07 L507.93,267.19 L508.41,267.31 L508.90,267.43 L509.38,267.55 L509.86,267.66 L510.35,267.78 L510.83,267.90 L511.31,268.02 L511.80,268.14 L512.28,268.25 L512.30,268.26" stroke="#e6654f" stroke-width="0.8" fill="none"/>
<path d="M281.70,369.14 L282.04,368.61 L282.38,367.73 L282.72,367.49 L283.05,366.48 L283.39,365.86 L283.73,364.65 L284.07,364.04 L284.41,363.79 L284.75,363.26 L285.08,362.98 L285.42,361.80 L285.76,360.91 L286.10,359.81 L286.44,359.50 L286.78,358.93 L287.11,358.39 L287.45,357.93 L287.79,357.69 L288.13,356.72 L288.47,355.84 L288.81,355.08 L289.14,354.92 L289.48,354.66 L289.82,354.20 L290.16,353.40 L290.50,352.28 L290.84,351.58 L291.17,351.63 L291.51,350.75 L291.85,349.91 L292.19,348.48 L292.53,347.86 L292.87,347.57 L293.20,347.41 L293.54,347.08 L293.88,345.94 L294.22,345.64 L294.56,345.21 L294.90,345.26 L295.24,344.09 L295.57,343.08 L295.91,342.40 L296.25,342.31 L296.59,342.12 L296.93,341.56 L297.27,341.08 L297.60,340.31 L297.94,339.82 L298.28,338.69 L298.62,338.73 L298.96,337.76 L299.30,337.78 L299.63,336.62 L299.97,336.85 L300.31,335.58 L300.65,335.43 L300.99,334.83 L301.33,334.74 L301.66,334.03 L302.00,333.37 L302.34,332.92 L302.68,332.43 L303.02,331.70 L303.36,331.87 L303.69,331.56 L304.03,330.90 L304.37,329.51 L304.71,328.64 L305.05,328.44 L305.39,327.35 L305.72,326.92 L306.06,326.17 L306.40,326.07 L306.74,325.55 L307.08,325.13 L307.42,325.11 L307.76,324.62 L308.09,324.06 L308.43,323.93 L308.77,324.03 L309.11,323.55 L309.45,322.56 L309.79,321.74 L310.12,321.24 L310.46,320.77 L310.80,319.97 L311.14,319.83 L311.48,319.51 L311.82,319.38 L312.15,318.57 L312.49,317.80 L312.83,317.04 L313.17,316.91 L313.51,316.36 L313.85,316.18 L314.18,315.89 L314.52,315.79 L314.86,314.92 L315.20,314.00 L315.54,313.65 L315.88,314.40 L316.21,314.37 L316.55,314.00 L316.89,312.92 L317.23,311.69 L317.57,310.88 L317.91,310.40 L318.25,310.84 L318.58,310.93 L318.92,310.65 L319.26,310.12 L319.60,308.60 L319.94,308.24 L320.28,307.87 L320.61,307.97 L320.95,307.44 L321.29,307.20 L321.63,306.76 L321.97,306.46 L322.31,306.10 L322.64,305.96 L322.98,305.36 L323.32,304.71 L323.66,304.22 L324.00,303.75 L324.34,303.51 L324.67,303.86 L325.01,304.33 L325.35,303.75 L325.69,302.51 L326.03,301.24 L326.37,300.47 L326.70,299.93 L327.04,299.83 L327.38,299.55 L327.72,300.08 L328.06,299.54 L328.40,299.36 L328.73,298.62 L329.07,298.56 L329.41,298.61 L329.75,298.19 L330.09,297.39 L330.43,296.84 L330.77,296.39 L331.10,296.56 L331.44,296.05 L331.78,296.11 L332.12,295.50 L332.46,295.29 L332.80,294.60 L333.13,294.53 L333.47,294.45 L333.81,294.28 L334.15,293.49 L334.49,292.39 L334.83,292.01 L335.16,291.71 L335.50,291.55 L335.84,291.00 L336.18,291.25 L336.52,291.00 L336.86,291.00 L337.19,289.92 L337.53,289.44 L337.87,288.66 L338.21,289.29 L338.55,288.98 L338.89,288.60 L339.22,287.92 L339.56,287.48 L339.90,287.29 L340.24,286.66 L340.58,286.76 L340.92,286.70 L341.25,286.43 L341.59,285.09 L341.93,284.42 L342.27,283.92 L342.61,284.57 L342.95,284.45 L343.29,284.32 L343.62,284.05 L343.96,283.33 L344.30,282.92 L344.64,282.14 L344.98,282.35 L345.32,281.71 L345.65,281.62 L345.99,280.82 L346.33,280.77 L346.67,280.68 L347.01,280.22 L347.35,279.99 L347.68,279.48 L348.02,279.72 L348.36,279.24 L348.70,279.00 L349.04,278.38 L349.38,278.04 L349.71,277.81 L350.05,277.95 L350.39,277.62 L350.73,276.90 L351.07,276.04 L351.41,276.16 L351.74,275.94 L352.08,275.73 L352.42,275.06 L352.76,274.81 L353.10,274.71 L353.44,274.43 L353.77,274.01 L354.11,273.77 L354.45,273.89 L354.79,273.83 L355.13,273.31 L355.47,273.09 L355.81,272.91 L356.14,272.48 L356.48,271.71 L356.82,271.18 L357.16,271.35 L357.50,270.75 L357.84,269.99 L358.17,269.39 L358.51,269.50 L358.85,269.95 L359.19,269.35 L359.53,268.81 L359.87,268.40 L360.20,268.01 L360.54,267.52 L360.88,266.84 L361.22,267.32 L361.56,267.24 L361.90,266.93 L362.23,266.48 L362.57,265.90 L362.91,265.39 L363.25,264.49 L363.59,264.62 L363.93,264.89 L364.26,264.61 L364.60,263.86 L364.94,263.05 L365.28,262.69 L365.62,262.68 L365.96,262.82 L366.29,263.34 L366.63,262.81 L366.97,261.81 L367.31,261.16 L367.65,261.20 L367.99,261.34 L368.33,260.83 L368.66,260.79 L369.00,261.19 L369.34,261.68 L369.68,260.89 L370.02,260.99 L370.36,260.58 L370.69,260.71 L371.03,260.12 L371.37,260.07 L371.71,260.25 L372.05,261.18 L372.39,261.75 L372.72,262.47 L373.06,262.33 L373.40,261.64 L373.74,262.00 L374.08,261.87 L374.42,262.99 L374.75,262.30 L375.09,262.20 L375.43,262.11 L375.77,262.02 L376.11,262.45 L376.45,262.07 L376.78,262.63 L377.12,262.90 L377.46,263.45 L377.80,263.66 L378.14,263.45 L378.48,263.42 L378.82,262.86 L379.15,263.18 L379.49,263.44 L379.83,264.35 L380.17,264.60 L380.51,264.96 L380.85,265.13 L381.18,264.79 L381.52,264.49 L381.86,264.37 L382.20,264.62 L382.54,264.46 L382.88,264.35 L383.21,264.34 L383.55,264.86 L383.89,265.20 L384.23,265.70 L384.57,265.68 L384.91,265.93 L385.24,265.92 L385.58,266.04 L385.92,265.98 L386.26,266.05 L386.60,266.23 L386.94,265.93 L387.27,266.05 L387.61,266.28 L387.95,266.68 L388.29,266.97 L388.63,267.09 L388.97,267.21 L389.30,267.47 L389.64,268.13 L389.98,268.18 L390.32,267.56 L390.66,267.25 L391.00,267.66 L391.34,267.88 L391.67,268.06 L392.01,268.15 L392.35,268.72 L392.69,268.35 L393.03,268.73 L393.37,268.26 L393.70,268.34 L394.04,267.82 L394.38,268.23 L394.72,268.84 L395.06,269.05 L395.40,269.40 L395.73,268.93 L396.07,269.20 L396.41,269.01 L396.75,269.16 L397.09,268.82 L397.43,268.62 L397.76,268.91 L398.10,269.21 L398.44,269.11 L398.78,268.80 L399.12,269.08 L399.46,269.58 L399.79,269.89 L400.13,269.53 L400.47,269.58 L400.81,269.47 L401.15,269.22 L401.49,269.68 L401.82,270.14 L402.16,271.26 L402.50,271.40 L402.84,271.00 L403.18,270.55 L403.52,269.78 L403.86,270.61 L404.19,271.01 L404.53,271.14 L404.87,270.44 L405.21,270.06 L405.55,270.29 L405.89,270.64 L406.22,270.96 L406.56,271.27 L406.90,271.14 L407.24,271.26 L407.58,271.27 L407.92,271.19 L408.25,271.53 L408.59,271.90 L408.93,272.22 L409.27,272.08 L409.61,272.00 L409.95,271.68 L410.28,271.59 L410.62,271.74 L410.96,272.09 L411.30,271.62 L411.64,271.88 L411.98,272.43 L412.31,273.15 L412.65,273.11 L412.99,272.44 L413.33,272.42 L413.67,272.44 L414.01,272.97 L414.34,273.40 L414.68,273.54 L415.02,273.72 L415.36,272.97 L415.70,273.48 L416.04,273.48 L416.38,273.84 L416.71,273.13 L417.05,272.82 L417.39,273.14 L417.73,273.36 L418.07,273.96 L418.41,274.35 L418.74,274.01 L419.08,274.34 L419.42,274.20 L419.76,274.82 L420.10,274.77 L420.44,275.37 L420.77,275.39 L421.11,275.19 L421.45,274.62 L421.79,274.35 L422.13,274.48 L422.47,274.74 L422.80,274.93 L423.14,274.76 L423.48,274.88 L423.82,275.42 L424.16,275.91 L424.50,275.45 L424.83,274.83 L425.17,274.85 L425.51,275.15 L425.85,275.24 L426.19,274.70 L426.53,274.96 L426.87,275.29 L427.20,275.32 L427.54,274.56 L427.88,274.14 L428.22,274.87 L428.56,275.44 L428.90,275.97 L429.23,275.73 L429.57,276.08 L429.91,276.17 L430.25,276.21 L430.59,275.61 L430.93,275.35 L431.26,275.28 L431.60,275.80 L431.94,276.23 L432.28,276.45 L432.62,276.18 L432.96,275.82 L433.29,275.29 L433.63,275.59 L433.97,275.87 L434.31,276.86 L434.65,276.87 L434.99,277.37 L435.32,276.59 L435.66,276.91 L436.00,276.50 L436.34,277.31 L436.68,277.33 L437.02,277.62 L437.35,277.01 L437.69,276.86 L438.03,276.98 L438.37,277.84 L438.71,277.97 L439.05,277.83 L439.39,277.66 L439.72,277.54 L440.06,277.51 L440.40,277.23 L440.74,277.59 L441.08,277.74 L441.42,277.94 L441.75,278.25 L442.09,277.98 L442.43,277.80 L442.77,277.88 L443.11,278.07 L443.45,277.92 L443.78,277.45 L444.12,277.18 L444.46,277.60 L444.80,277.71 L445.14,278.45 L445.48,278.66 L445.81,279.19 L446.15,279.13 L446.49,278.87 L446.83,278.30 L447.17,277.80 L447.51,277.88 L447.84,278.33 L448.18,278.57 L448.52,278.68 L448.86,278.00 L449.20,277.64 L449.54,277.40 L449.87,278.21 L450.21,278.92 L450.55,279.16 L450.89,279.10 L451.23,278.87 L451.57,278.78 L451.91,278.42 L452.24,278.54 L452.58,279.00 L452.92,279.49 L453.26,279.63 L453.60,279.09 L453.94,278.50 L454.27,278.26 L454.61,278.56 L454.95,278.84 L455.29,278.92 L455.63,278.72 L455.97,278.72 L456.30,279.39 L456.64,279.52 L456.98,279.69 L457.32,279.45 L457.66,279.61 L458.00,279.68 L458.33,279.62 L458.67,280.25 L459.01,280.34 L459.35,280.22 L459.69,279.84 L460.03,280.33 L460.36,280.42 L460.70,280.28 L461.04,279.88 L461.38,279.95 L461.72,280.30 L462.06,280.59 L462.39,280.63 L462.73,280.69 L463.07,280.54 L463.41,279.88 L463.75,279.66 L464.09,279.74 L464.43,281.09 L464.76,281.32 L465.10,281.22 L465.44,281.04 L465.78,281.20 L466.12,282.06 L466.46,281.79 L466.79,281.95 L467.13,281.24 L467.47,281.09 L467.81,281.04 L468.15,281.02 L468.49,281.38 L468.82,281.46 L469.16,281.85 L469.50,282.21 L469.84,281.88 L470.18,281.64 L470.52,281.74 L470.85,281.92 L471.19,282.41 L471.53,282.61 L471.87,282.58 L472.21,282.79 L472.55,282.14 L472.88,282.47 L473.22,281.96 L473.56,282.20 L473.90,282.01 L474.24,282.22 L474.58,282.26 L474.91,282.57 L475.25,282.43 L475.59,282.75 L475.93,282.61 L476.27,282.57 L476.61,282.54 L476.95,282.76 L477.28,283.35 L477.62,283.48 L477.96,283.59 L478.30,283.60 L478.64,283.82 L478.98,283.96 L479.31,283.88 L479.65,283.63 L479.99,283.49 L480.33,284.08 L480.67,283.85 L481.01,284.15 L481.34,283.94 L481.68,284.48 L482.02,284.38 L482.36,284.00 L482.70,284.07 L483.04,284.20 L483.37,284.92 L483.71,284.84 L484.05,284.97 L484.39,284.72 L484.73,284.60 L485.07,284.15 L485.40,283.83 L485.74,284.33 L486.08,284.46 L486.42,284.88 L486.76,284.75 L487.10,285.37 L487.44,285.22 L487.77,285.13 L488.11,285.00 L488.45,285.23 L488.79,285.48 L489.13,285.68 L489.47,285.43 L489.80,285.59 L490.14,285.59 L490.48,285.96 L490.82,286.08 L491.16,286.16 L491.50,286.55 L491.83,286.31 L492.17,286.17 L492.51,285.92 L492.85,285.68 L493.19,286.10 L493.53,285.93 L493.86,286.27 L494.20,286.26 L494.54,286.53 L494.88,286.48 L495.22,286.38 L495.56,286.31 L495.89,286.23 L496.23,286.25 L496.57,286.83 L496.91,287.45 L497.25,287.34 L497.59,287.00 L497.92,287.15 L498.26,287.95 L498.60,287.89 L498.94,287.27 L499.28,287.14 L499.62,287.85 L499.96,288.17 L500.29,288.05 L500.63,287.61 L500.97,287.89 L501.31,288.04 L501.65,287.91 L501.99,287.64 L502.32,287.37 L502.66,287.69 L503.00,287.71 L503.34,287.90 L503.68,287.66 L504.02,288.24 L504.35,288.09 L504.69,288.11 L505.03,287.58 L505.37,287.81 L505.71,287.94 L506.05,288.49 L506.38,288.33 L506.72,288.30 L507.06,287.92 L507.40,288.31 L507.74,288.89 L508.08,289.25 L508.41,289.26 L508.75,289.20 L509.09,289.08 L509.43,288.83 L509.77,288.59 L510.11,288.52 L510.44,288.72 L510.78,289.14 L511.12,289.64 L511.46,289.89 L511.80,289.51 L512.14,289.24" stroke="#8080dc" stroke-width="0.65" fill="none" stroke-linejoin="round"/>
<path d="M281.70,369.40 L282.18,368.35 L282.67,367.31 L283.15,366.28 L283.63,365.25 L284.12,364.23 L284.60,363.22 L285.08,362.21 L285.57,361.21 L286.05,360.22 L286.53,359.24 L287.02,358.26 L287.50,357.29 L287.98,356.33 L288.47,355.37 L288.95,354.42 L289.43,353.47 L289.92,352.54 L290.40,351.61 L290.88,350.68 L291.37,349.76 L291.85,348.85 L292.33,347.95 L292.82,347.05 L293.30,346.16 L293.78,345.27 L294.27,344.39 L294.75,343.52 L295.24,342.65 L295.72,341.79 L296.20,340.93 L296.69,340.08 L297.17,339.24 L297.65,338.40 L298.14,337.57 L298.62,336.74 L299.10,335.92 L299.59,335.11 L300.07,334.30 L300.55,333.49 L301.04,332.69 L301.52,331.90 L302.00,331.12 L302.49,330.33 L302.97,329.56 L303.45,328.79 L303.94,328.02 L304.42,327.26 L304.90,326.51 L305.39,325.76 L305.87,325.01 L306.35,324.28 L306.84,323.54 L307.32,322.81 L307.80,322.09 L308.29,321.37 L308.77,320.66 L309.25,319.95 L309.74,319.25 L310.22,318.55 L310.70,317.85 L311.19,317.17 L311.67,316.48 L312.15,315.80 L312.64,315.13 L313.12,314.46 L313.60,313.79 L314.09,313.13 L314.57,312.48 L315.05,311.82 L315.54,311.18 L316.02,310.54 L316.50,309.90 L316.99,309.26 L317.47,308.64 L317.95,308.01 L318.44,307.39 L318.92,306.77 L319.41,306.16 L319.89,305.56 L320.37,304.95 L320.86,304.35 L321.34,303.76 L321.82,303.17 L322.31,302.58 L322.79,302.00 L323.27,301.42 L323.76,300.85 L324.24,300.28 L324.72,299.71 L325.21,299.15 L325.69,298.59 L326.17,298.04 L326.66,297.49 L327.14,296.94 L327.62,296.40 L328.11,295.86 L328.59,295.32 L329.07,294.79 L329.56,294.26 L330.04,293.74 L330.52,293.22 L331.01,292.70 L331.49,292.19 L331.97,291.68 L332.46,291.17 L332.94,290.67 L333.42,290.17 L333.91,289.67 L334.39,289.18 L334.87,288.69 L335.36,288.21 L335.84,287.72 L336.32,287.24 L336.81,286.77 L337.29,286.30 L337.77,285.83 L338.26,285.36 L338.74,284.90 L339.22,284.44 L339.71,283.99 L340.19,283.53 L340.67,283.08 L341.16,282.64 L341.64,282.19 L342.12,281.75 L342.61,281.32 L343.09,280.88 L343.58,280.45 L344.06,280.02 L344.54,279.60 L345.03,279.18 L345.51,278.76 L345.99,278.34 L346.48,277.93 L346.96,277.52 L347.44,277.11 L347.93,276.71 L348.41,276.30 L348.89,275.91 L349.38,275.51 L349.86,275.12 L350.34,274.73 L350.83,274.34 L351.31,273.95 L351.79,273.57 L352.28,273.19 L352.76,272.81 L353.24,272.44 L353.73,272.07 L354.21,271.70 L354.69,271.33 L355.18,270.96 L355.66,270.60 L356.14,270.24 L356.63,269.89 L357.11,269.53 L357.59,269.18 L358.08,268.83 L358.56,268.48 L359.04,268.14 L359.53,267.80 L360.01,267.46 L360.49,267.12 L360.98,266.79 L361.46,266.45 L361.94,266.12 L362.43,265.79 L362.91,265.47 L363.39,265.15 L363.88,264.82 L364.36,264.51 L364.84,264.19 L365.33,263.87 L365.81,263.56 L366.29,263.25 L366.78,262.94 L367.26,262.64 L367.75,262.33 L368.23,262.03 L368.71,261.73 L369.20,261.86 L369.68,261.98 L370.16,262.11 L370.65,262.23 L371.13,262.36 L371.61,262.48 L372.10,262.60 L372.58,262.73 L373.06,262.85 L373.55,262.97 L374.03,263.10 L374.51,263.22 L375.00,263.34 L375.48,263.47 L375.96,263.59 L376.45,263.71 L376.93,263.84 L377.41,263.96 L377.90,264.08 L378.38,264.20 L378.86,264.32 L379.35,264.45 L379.83,264.57 L380.31,264.69 L380.80,264.81 L381.28,264.93 L381.76,265.05 L382.25,265.17 L382.73,265.29 L383.21,265.42 L383.70,265.54 L384.18,265.66 L384.66,265.78 L385.15,265.90 L385.63,266.02 L386.11,266.14 L386.60,266.26 L387.08,266.38 L387.56,266.50 L388.05,266.61 L388.53,266.73 L389.01,266.85 L389.50,266.97 L389.98,267.09 L390.46,267.21 L390.95,267.33 L391.43,267.45 L391.92,267.56 L392.40,267.68 L392.88,267.80 L393.37,267.92 L393.85,268.04 L394.33,268.15 L394.82,268.27 L395.30,268.39 L395.78,268.50 L396.27,268.62 L396.75,268.74 L397.23,268.86 L397.72,268.97 L398.20,269.09 L398.68,269.20 L399.17,269.32 L399.65,269.44 L400.13,269.55 L400.62,269.67 L401.10,269.78 L401.58,269.90 L402.07,270.01 L402.55,270.13 L403.03,270.25 L403.52,270.36 L404.00,270.48 L404.48,270.59 L404.97,270.70 L405.45,270.82 L405.93,270.93 L406.42,271.05 L406.90,271.16 L407.38,271.28 L407.87,271.39 L408.35,271.50 L408.83,271.62 L409.32,271.73 L409.80,271.84 L410.28,271.96 L410.77,272.07 L411.25,272.18 L411.73,272.29 L412.22,272.41 L412.70,272.52 L413.18,272.63 L413.67,272.74 L414.15,272.86 L414.63,272.97 L415.12,273.08 L415.60,273.19 L416.09,273.30 L416.57,273.41 L417.05,273.53 L417.54,273.64 L418.02,273.75 L418.50,273.86 L418.99,273.97 L419.47,274.08 L419.95,274.19 L420.44,274.30 L420.92,274.41 L421.40,274.52 L421.89,274.63 L422.37,274.74 L422.85,274.85 L423.34,274.96 L423.82,275.07 L424.30,275.18 L424.79,275.29 L425.27,275.40 L425.75,275.51 L426.24,275.62 L426.72,275.72 L427.20,275.83 L427.69,275.94 L428.17,276.05 L428.65,276.16 L429.14,276.27 L429.62,276.37 L430.10,276.48 L430.59,276.59 L431.07,276.70 L431.55,276.80 L432.04,276.91 L432.52,277.02 L433.00,277.13 L433.49,277.23 L433.97,277.34 L434.45,277.45 L434.94,277.55 L435.42,277.66 L435.90,277.77 L436.39,277.87 L436.87,277.98 L437.35,278.08 L437.84,278.19 L438.32,278.30 L438.80,278.40 L439.29,278.51 L439.77,278.61 L440.26,278.72 L440.74,278.82 L441.22,278.93 L441.71,279.03 L442.19,279.14 L442.67,279.24 L443.16,279.35 L443.64,279.45 L444.12,279.56 L444.61,279.66 L445.09,279.76 L445.57,279.87 L446.06,279.97 L446.54,280.08 L447.02,280.18 L447.51,280.28 L447.99,280.39 L448.47,280.49 L448.96,280.59 L449.44,280.69 L449.92,280.80 L450.41,280.90 L450.89,281.00 L451.37,281.11 L451.86,281.21 L452.34,281.31 L452.82,281.41 L453.31,281.51 L453.79,281.62 L454.27,281.72 L454.76,281.82 L455.24,281.92 L455.72,282.02 L456.21,282.12 L456.69,282.22 L457.17,282.33 L457.66,282.43 L458.14,282.53 L458.62,282.63 L459.11,282.73 L459.59,282.83 L460.07,282.93 L460.56,283.03 L461.04,283.13 L461.52,283.23 L462.01,283.33 L462.49,283.43 L462.98,283.53 L463.46,283.63 L463.94,283.73 L464.43,283.83 L464.91,283.93 L465.39,284.03 L465.88,284.13 L466.36,284.22 L466.84,284.32 L467.33,284.42 L467.81,284.52 L468.29,284.62 L468.78,284.72 L469.26,284.81 L469.74,284.91 L470.23,285.01 L470.71,285.11 L471.19,285.21 L471.68,285.30 L472.16,285.40 L472.64,285.50 L473.13,285.60 L473.61,285.69 L474.09,285.79 L474.58,285.89 L475.06,285.98 L475.54,286.08 L476.03,286.18 L476.51,286.27 L476.99,286.37 L477.48,286.47 L477.96,286.56 L478.44,286.66 L478.93,286.75 L479.41,286.85 L479.89,286.95 L480.38,287.04 L480.86,287.14 L481.34,287.23 L481.83,287.33 L482.31,287.42 L482.79,287.52 L483.28,287.61 L483.76,287.71 L484.24,287.80 L484.73,287.90 L485.21,287.99 L485.69,288.09 L486.18,288.18 L486.66,288.27 L487.14,288.37 L487.63,288.46 L488.11,288.56 L488.60,288.65 L489.08,288.74 L489.56,288.84 L490.05,288.93 L490.53,289.02 L491.01,289.12 L491.50,289.21 L491.98,289.30 L492.46,289.40 L492.95,289.49 L493.43,289.58 L493.91,289.67 L494.40,289.77 L494.88,289.86 L495.36,289.95 L495.85,290.04 L496.33,290.13 L496.81,290.23 L497.30,290.32 L497.78,290.41 L498.26,290.50 L498.75,290.59 L499.23,290.68 L499.71,290.78 L500.20,290.87 L500.68,290.96 L501.16,291.05 L501.65,291.14 L502.13,291.23 L502.61,291.32 L503.10,291.41 L503.58,291.50 L504.06,291.59 L504.55,291.68 L505.03,291.77 L505.51,291.86 L506.00,291.95 L506.48,292.04 L506.96,292.13 L507.45,292.22 L507.93,292.31 L508.41,292.40 L508.90,292.49 L509.38,292.58 L509.86,292.67 L510.35,292.76 L510.83,292.85 L511.31,292.93 L511.80,293.02 L512.28,293.11 L512.30,293.11" stroke="#e6654f" stroke-width="0.8" fill="none"/>
<path d="M281.70,368.88 L282.04,368.54 L282.38,368.67 L282.72,368.42 L283.05,367.97 L283.39,367.33 L283.73,366.71 L284.07,367.28 L284.41,367.52 L284.75,367.71 L285.08,366.65 L285.42,365.49 L285.76,365.12 L286.10,365.33 L286.44,365.72 L286.78,365.49 L287.11,364.79 L287.45,364.32 L287.79,363.30 L288.13,362.96 L288.47,362.77 L288.81,362.91 L289.14,362.85 L289.48,362.17 L289.82,361.72 L290.16,361.48 L290.50,361.17 L290.84,360.98 L291.17,360.63 L291.51,360.52 L291.85,360.22 L292.19,360.00 L292.53,359.97 L292.87,359.55 L293.20,359.19 L293.54,358.90 L293.88,358.84 L294.22,358.96 L294.56,358.53 L294.90,358.74 L295.24,358.21 L295.57,358.42 L295.91,358.00 L296.25,357.39 L296.59,356.69 L296.93,356.53 L297.27,356.03 L297.60,355.86 L297.94,354.88 L298.28,355.19 L298.62,355.12 L298.96,354.75 L299.30,354.45 L299.63,353.60 L299.97,353.49 L300.31,353.45 L300.65,353.36 L300.99,353.55 L301.33,352.78 L301.66,352.54 L302.00,352.45 L302.34,352.33 L302.68,351.86 L303.02,351.35 L303.36,350.96 L303.69,351.03 L304.03,350.71 L304.37,350.51 L304.71,350.08 L305.05,349.48 L305.39,349.07 L305.72,348.64 L306.06,348.53 L306.40,348.49 L306.74,348.76 L307.08,348.42 L307.42,347.77 L307.76,347.16 L308.09,347.26 L308.43,347.48 L308.77,346.98 L309.11,346.60 L309.45,346.61 L309.79,346.73 L310.12,346.76 L310.46,346.33 L310.80,346.28 L311.14,346.08 L311.48,345.41 L311.82,344.68 L312.15,344.64 L312.49,345.04 L312.83,345.20 L313.17,344.66 L313.51,344.54 L313.85,343.97 L314.18,344.06 L314.52,343.31 L314.86,343.14 L315.20,342.59 L315.54,342.72 L315.88,342.67 L316.21,342.32 L316.55,342.48 L316.89,342.60 L317.23,342.29 L317.57,341.57 L317.91,341.14 L318.25,341.32 L318.58,341.27 L318.92,341.15 L319.26,339.97 L319.60,339.90 L319.94,339.10 L320.28,339.50 L320.61,338.92 L320.95,339.06 L321.29,339.08 L321.63,338.52 L321.97,338.24 L322.31,337.95 L322.64,338.20 L322.98,338.09 L323.32,338.18 L323.66,338.04 L324.00,338.06 L324.34,337.41 L324.67,336.98 L325.01,337.11 L325.35,337.14 L325.69,336.85 L326.03,336.52 L326.37,336.58 L326.70,336.39 L327.04,335.91 L327.38,335.53 L327.72,335.92 L328.06,335.66 L328.40,335.47 L328.73,334.88 L329.07,334.60 L329.41,334.05 L329.75,333.97 L330.09,334.00 L330.43,333.95 L330.77,333.68 L331.10,333.28 L331.44,333.21 L331.78,333.03 L332.12,333.01 L332.46,332.82 L332.80,332.50 L333.13,331.84 L333.47,331.62 L333.81,331.30 L334.15,331.30 L334.49,330.93 L334.83,330.70 L335.16,330.72 L335.50,330.40 L335.84,330.30 L336.18,330.85 L336.52,330.70 L336.86,330.42 L337.19,328.82 L337.53,328.98 L337.87,328.91 L338.21,329.13 L338.55,328.91 L338.89,328.42 L339.22,328.20 L339.56,327.96 L339.90,328.39 L340.24,328.42 L340.58,327.41 L340.92,326.35 L341.25,326.69 L341.59,327.58 L341.93,327.78 L342.27,326.97 L342.61,326.48 L342.95,326.31 L343.29,326.07 L343.62,325.64 L343.96,325.55 L344.30,325.67 L344.64,325.22 L344.98,325.22 L345.32,324.47 L345.65,324.45 L345.99,324.14 L346.33,324.21 L346.67,324.22 L347.01,324.53 L347.35,324.47 L347.68,324.17 L348.02,323.94 L348.36,324.06 L348.70,323.72 L349.04,322.92 L349.38,322.76 L349.71,322.74 L350.05,322.79 L350.39,321.97 L350.73,322.00 L351.07,321.88 L351.41,322.15 L351.74,321.85 L352.08,321.66 L352.42,321.47 L352.76,321.44 L353.10,321.43 L353.44,320.94 L353.77,320.95 L354.11,320.99 L354.45,321.22 L354.79,320.48 L355.13,320.02 L355.47,319.41 L355.81,319.31 L356.14,319.13 L356.48,318.91 L356.82,318.78 L357.16,318.48 L357.50,318.67 L357.84,318.63 L358.17,318.77 L358.51,318.47 L358.85,318.43 L359.19,317.80 L359.53,317.46 L359.87,317.29 L360.20,317.00 L360.54,316.60 L360.88,316.23 L361.22,316.47 L361.56,316.47 L361.90,316.95 L362.23,316.73 L362.57,316.53 L362.91,315.20 L363.25,315.07 L363.59,314.64 L363.93,314.39 L364.26,313.53 L364.60,314.37 L364.94,314.51 L365.28,314.78 L365.62,313.73 L365.96,313.90 L366.29,313.93 L366.63,314.09 L366.97,313.48 L367.31,312.93 L367.65,312.78 L367.99,312.91 L368.33,312.73 L368.66,312.34 L369.00,312.46 L369.34,312.90 L369.68,313.28 L370.02,313.42 L370.36,313.43 L370.69,313.68 L371.03,313.97 L371.37,313.64 L371.71,313.56 L372.05,313.57 L372.39,313.84 L372.72,313.21 L373.06,312.58 L373.40,312.71 L373.74,313.39 L374.08,313.90 L374.42,314.07 L374.75,313.98 L375.09,313.75 L375.43,313.83 L375.77,313.92 L376.11,314.16 L376.45,313.92 L376.78,313.95 L377.12,314.13 L377.46,314.46 L377.80,314.49 L378.14,314.18 L378.48,313.99 L378.82,314.64 L379.15,314.65 L379.49,314.64 L379.83,314.09 L380.17,314.36 L380.51,315.17 L380.85,315.41 L381.18,315.07 L381.52,313.76 L381.86,312.79 L382.20,313.32 L382.54,313.91 L382.88,314.31 L383.21,314.48 L383.55,314.07 L383.89,314.50 L384.23,314.12 L384.57,314.91 L384.91,314.66 L385.24,314.80 L385.58,314.24 L385.92,314.68 L386.26,314.71 L386.60,314.56 L386.94,314.60 L387.27,314.54 L387.61,314.94 L387.95,314.79 L388.29,314.99 L388.63,314.77 L388.97,314.37 L389.30,314.19 L389.64,314.53 L389.98,315.16 L390.32,315.32 L390.66,314.96 L391.00,314.41 L391.34,314.83 L391.67,315.89 L392.01,316.37 L392.35,316.01 L392.69,315.64 L393.03,315.58 L393.37,315.57 L393.70,315.22 L394.04,315.12 L394.38,314.92 L394.72,315.56 L395.06,315.53 L395.40,315.78 L395.73,315.83 L396.07,315.66 L396.41,316.23 L396.75,316.25 L397.09,315.91 L397.43,315.18 L397.76,314.74 L398.10,315.12 L398.44,315.19 L398.78,315.62 L399.12,315.89 L399.46,315.86 L399.79,315.64 L400.13,315.78 L400.47,316.31 L400.81,316.10 L401.15,316.30 L401.49,316.37 L401.82,316.92 L402.16,317.06 L402.50,316.88 L402.84,316.46 L403.18,316.35 L403.52,316.72 L403.86,316.79 L404.19,316.63 L404.53,316.04 L404.87,316.30 L405.21,316.54 L405.55,316.77 L405.89,316.27 L406.22,316.21 L406.56,316.40 L406.90,317.09 L407.24,317.21 L407.58,316.97 L407.92,316.53 L408.25,316.16 L408.59,316.88 L408.93,316.92 L409.27,317.50 L409.61,316.94 L409.95,317.82 L410.28,317.63 L410.62,318.06 L410.96,317.13 L411.30,317.10 L411.64,316.55 L411.98,317.04 L412.31,316.58 L412.65,317.08 L412.99,316.49 L413.33,317.18 L413.67,317.35 L414.01,317.65 L414.34,317.66 L414.68,317.45 L415.02,318.08 L415.36,318.10 L415.70,318.08 L416.04,317.94 L416.38,317.78 L416.71,318.46 L417.05,318.06 L417.39,318.31 L417.73,317.34 L418.07,317.70 L418.41,317.80 L418.74,318.34 L419.08,318.21 L419.42,317.91 L419.76,317.94 L420.10,318.26 L420.44,318.34 L420.77,318.03 L421.11,318.31 L421.45,318.74 L421.79,319.17 L422.13,318.28 L422.47,317.70 L422.80,317.34 L423.14,317.70 L423.48,318.36 L423.82,318.30 L424.16,318.59 L424.50,318.53 L424.83,318.35 L425.17,318.65 L425.51,318.10 L425.85,318.59 L426.19,318.48 L426.53,318.84 L426.87,319.15 L427.20,318.89 L427.54,319.14 L427.88,319.27 L428.22,318.64 L428.56,318.64 L428.90,318.09 L429.23,318.85 L429.57,318.57 L429.91,319.20 L430.25,319.50 L430.59,320.59 L430.93,320.02 L431.26,319.66 L431.60,319.13 L431.94,319.21 L432.28,319.20 L432.62,318.14 L432.96,318.33 L433.29,318.28 L433.63,318.93 L433.97,318.82 L434.31,319.11 L434.65,319.42 L434.99,319.47 L435.32,319.16 L435.66,319.40 L436.00,319.93 L436.34,320.30 L436.68,319.54 L437.02,319.33 L437.35,319.80 L437.69,320.10 L438.03,319.88 L438.37,318.94 L438.71,319.13 L439.05,318.84 L439.39,319.59 L439.72,319.43 L440.06,319.95 L440.40,320.11 L440.74,320.46 L441.08,320.17 L441.42,319.59 L441.75,319.65 L442.09,319.74 L442.43,319.83 L442.77,319.52 L443.11,319.78 L443.45,319.97 L443.78,320.46 L444.12,320.59 L444.46,320.67 L444.80,320.68 L445.14,320.77 L445.48,320.79 L445.81,320.57 L446.15,320.25 L446.49,320.60 L446.83,320.79 L447.17,321.04 L447.51,320.89 L447.84,320.73 L448.18,320.96 L448.52,320.58 L448.86,320.76 L449.20,320.97 L449.54,321.12 L449.87,320.64 L450.21,320.89 L450.55,321.15 L450.89,321.61 L451.23,320.85 L451.57,320.45 L451.91,320.54 L452.24,321.27 L452.58,321.52 L452.92,321.24 L453.26,320.73 L453.60,320.92 L453.94,321.44 L454.27,320.95 L454.61,321.32 L454.95,321.54 L455.29,321.96 L455.63,321.59 L455.97,321.04 L456.30,321.24 L456.64,320.90 L456.98,320.73 L457.32,321.00 L457.66,321.22 L458.00,321.94 L458.33,322.28 L458.67,322.26 L459.01,322.09 L459.35,322.24 L459.69,322.60 L460.03,322.69 L460.36,322.02 L460.70,322.06 L461.04,322.12 L461.38,322.47 L461.72,322.28 L462.06,322.36 L462.39,322.16 L462.73,322.66 L463.07,322.33 L463.41,321.92 L463.75,321.53 L464.09,321.39 L464.43,321.77 L464.76,322.21 L465.10,322.62 L465.44,322.75 L465.78,322.41 L466.12,322.52 L466.46,322.41 L466.79,322.75 L467.13,322.60 L467.47,322.80 L467.81,322.94 L468.15,322.72 L468.49,322.74 L468.82,322.43 L469.16,322.74 L469.50,323.34 L469.84,323.78 L470.18,324.04 L470.52,323.24 L470.85,323.05 L471.19,322.68 L471.53,323.25 L471.87,323.35 L472.21,323.67 L472.55,323.14 L472.88,323.39 L473.22,323.34 L473.56,323.55 L473.90,323.10 L474.24,323.09 L474.58,323.02 L474.91,323.01 L475.25,323.30 L475.59,323.37 L475.93,323.68 L476.27,323.54 L476.61,323.35 L476.95,322.52 L477.28,322.07 L477.62,322.37 L477.96,323.26 L478.30,323.88 L478.64,323.58 L478.98,323.31 L479.31,323.51 L479.65,323.57 L479.99,323.53 L480.33,322.84 L480.67,323.18 L481.01,323.94 L481.34,324.51 L481.68,324.69 L482.02,324.19 L482.36,323.62 L482.70,323.79 L483.04,323.80 L483.37,324.25 L483.71,324.12 L484.05,324.40 L484.39,324.74 L484.73,325.43 L485.07,325.10 L485.40,324.86 L485.74,324.14 L486.08,324.54 L486.42,324.52 L486.76,324.86 L487.10,324.88 L487.44,324.82 L487.77,324.42 L488.11,324.02 L488.45,324.15 L488.79,324.45 L489.13,324.26 L489.47,323.95 L489.80,324.05 L490.14,324.74 L490.48,325.00 L490.82,324.77 L491.16,324.75 L491.50,324.27 L491.83,324.94 L492.17,324.95 L492.51,325.52 L492.85,324.73 L493.19,325.03 L493.53,325.24 L493.86,325.15 L494.20,324.31 L494.54,324.29 L494.88,324.69 L495.22,325.33 L495.56,325.19 L495.89,325.50 L496.23,325.84 L496.57,326.37 L496.91,326.11 L497.25,325.95 L497.59,325.28 L497.92,324.98 L498.26,324.39 L498.60,324.54 L498.94,324.61 L499.28,324.83 L499.62,324.80 L499.96,325.00 L500.29,324.90 L500.63,325.42 L500.97,325.75 L501.31,326.25 L501.65,325.79 L501.99,325.51 L502.32,325.48 L502.66,325.99 L503.00,326.31 L503.34,325.89 L503.68,325.69 L504.02,325.63 L504.35,326.07 L504.69,326.10 L505.03,325.64 L505.37,325.66 L505.71,325.75 L506.05,325.75 L506.38,325.41 L506.72,325.64 L507.06,325.83 L507.40,326.39 L507.74,325.96 L508.08,326.95 L508.41,326.91 L508.75,326.84 L509.09,326.35 L509.43,326.31 L509.77,326.57 L510.11,326.43 L510.44,326.39 L510.78,326.61 L511.12,326.16 L511.46,325.67 L511.80,325.43 L512.14,325.85" stroke="#8080dc" stroke-width="0.65" fill="none" stroke-linejoin="round"/>
<path d="M281.70,369.40 L282.18,368.87 L282.67,368.34 L283.15,367.81 L283.63,367.29 L284.12,366.78 L284.60,366.26 L285.08,365.75 L285.57,365.24 L286.05,364.74 L286.53,364.23 L287.02,363.74 L287.50,363.24 L287.98,362.75 L288.47,362.26 L288.95,361.77 L289.43,361.29 L289.92,360.81 L290.40,360.34 L290.88,359.86 L291.37,359.39 L291.85,358.93 L292.33,358.46 L292.82,358.00 L293.30,357.54 L293.78,357.09 L294.27,356.64 L294.75,356.19 L295.24,355.74 L295.72,355.30 L296.20,354.86 L296.69,354.42 L297.17,353.99 L297.65,353.55 L298.14,353.12 L298.62,352.70 L299.10,352.27 L299.59,351.85 L300.07,351.44 L300.55,351.02 L301.04,350.61 L301.52,350.20 L302.00,349.79 L302.49,349.39 L302.97,348.98 L303.45,348.58 L303.94,348.19 L304.42,347.79 L304.90,347.40 L305.39,347.01 L305.87,346.63 L306.35,346.24 L306.84,345.86 L307.32,345.48 L307.80,345.10 L308.29,344.73 L308.77,344.36 L309.25,343.99 L309.74,343.62 L310.22,343.26 L310.70,342.89 L311.19,342.53 L311.67,342.18 L312.15,341.82 L312.64,341.47 L313.12,341.12 L313.60,340.77 L314.09,340.42 L314.57,340.08 L315.05,339.74 L315.54,339.40 L316.02,339.06 L316.50,338.72 L316.99,338.39 L317.47,338.06 L317.95,337.73 L318.44,337.40 L318.92,337.08 L319.41,336.76 L319.89,336.44 L320.37,336.12 L320.86,335.80 L321.34,335.49 L321.82,335.18 L322.31,334.87 L322.79,334.56 L323.27,334.25 L323.76,333.95 L324.24,333.65 L324.72,333.35 L325.21,333.05 L325.69,332.75 L326.17,332.46 L326.66,332.16 L327.14,331.87 L327.62,331.59 L328.11,331.30 L328.59,331.01 L329.07,330.73 L329.56,330.45 L330.04,330.17 L330.52,329.89 L331.01,329.62 L331.49,329.34 L331.97,329.07 L332.46,328.80 L332.94,328.53 L333.42,328.26 L333.91,328.00 L334.39,327.73 L334.87,327.47 L335.36,327.21 L335.84,326.95 L336.32,326.70 L336.81,326.44 L337.29,326.19 L337.77,325.94 L338.26,325.69 L338.74,325.44 L339.22,325.19 L339.71,324.95 L340.19,324.70 L340.67,324.46 L341.16,324.22 L341.64,323.98 L342.12,323.74 L342.61,323.51 L343.09,323.27 L343.58,323.04 L344.06,322.81 L344.54,322.58 L345.03,322.35 L345.51,322.12 L345.99,321.90 L346.48,321.67 L346.96,321.45 L347.44,321.23 L347.93,321.01 L348.41,320.79 L348.89,320.57 L349.38,320.36 L349.86,320.15 L350.34,319.93 L350.83,319.72 L351.31,319.51 L351.79,319.30 L352.28,319.10 L352.76,318.89 L353.24,318.69 L353.73,318.48 L354.21,318.28 L354.69,318.08 L355.18,317.88 L355.66,317.68 L356.14,317.49 L356.63,317.29 L357.11,317.10 L357.59,316.90 L358.08,316.71 L358.56,316.52 L359.04,316.33 L359.53,316.14 L360.01,315.96 L360.49,315.77 L360.98,315.59 L361.46,315.40 L361.94,315.22 L362.43,315.04 L362.91,314.86 L363.39,314.68 L363.88,314.51 L364.36,314.33 L364.84,314.15 L365.33,313.98 L365.81,313.81 L366.29,313.64 L366.78,313.47 L367.26,313.30 L367.75,313.13 L368.23,312.96 L368.71,312.79 L369.20,312.86 L369.68,312.93 L370.16,312.99 L370.65,313.06 L371.13,313.12 L371.61,313.19 L372.10,313.25 L372.58,313.32 L373.06,313.38 L373.55,313.45 L374.03,313.51 L374.51,313.58 L375.00,313.64 L375.48,313.71 L375.96,313.77 L376.45,313.84 L376.93,313.90 L377.41,313.96 L377.90,314.03 L378.38,314.09 L378.86,314.16 L379.35,314.22 L379.83,314.29 L380.31,314.35 L380.80,314.41 L381.28,314.48 L381.76,314.54 L382.25,314.60 L382.73,314.67 L383.21,314.73 L383.70,314.79 L384.18,314.86 L384.66,314.92 L385.15,314.98 L385.63,315.05 L386.11,315.11 L386.60,315.17 L387.08,315.24 L387.56,315.30 L388.05,315.36 L388.53,315.42 L389.01,315.49 L389.50,315.55 L389.98,315.61 L390.46,315.67 L390.95,315.74 L391.43,315.80 L391.92,315.86 L392.40,315.92 L392.88,315.98 L393.37,316.05 L393.85,316.11 L394.33,316.17 L394.82,316.23 L395.30,316.29 L395.78,316.36 L396.27,316.42 L396.75,316.48 L397.23,316.54 L397.72,316.60 L398.20,316.66 L398.68,316.72 L399.17,316.78 L399.65,316.85 L400.13,316.91 L400.62,316.97 L401.10,317.03 L401.58,317.09 L402.07,317.15 L402.55,317.21 L403.03,317.27 L403.52,317.33 L404.00,317.39 L404.48,317.45 L404.97,317.51 L405.45,317.57 L405.93,317.63 L406.42,317.69 L406.90,317.75 L407.38,317.81 L407.87,317.87 L408.35,317.93 L408.83,317.99 L409.32,318.05 L409.80,318.11 L410.28,318.17 L410.77,318.23 L411.25,318.29 L411.73,318.35 L412.22,318.41 L412.70,318.47 L413.18,318.52 L413.67,318.58 L414.15,318.64 L414.63,318.70 L415.12,318.76 L415.60,318.82 L416.09,318.88 L416.57,318.94 L417.05,318.99 L417.54,319.05 L418.02,319.11 L418.50,319.17 L418.99,319.23 L419.47,319.29 L419.95,319.34 L420.44,319.40 L420.92,319.46 L421.40,319.52 L421.89,319.58 L422.37,319.63 L422.85,319.69 L423.34,319.75 L423.82,319.81 L424.30,319.86 L424.79,319.92 L425.27,319.98 L425.75,320.04 L426.24,320.09 L426.72,320.15 L427.20,320.21 L427.69,320.26 L428.17,320.32 L428.65,320.38 L429.14,320.44 L429.62,320.49 L430.10,320.55 L430.59,320.61 L431.07,320.66 L431.55,320.72 L432.04,320.77 L432.52,320.83 L433.00,320.89 L433.49,320.94 L433.97,321.00 L434.45,321.06 L434.94,321.11 L435.42,321.17 L435.90,321.22 L436.39,321.28 L436.87,321.34 L437.35,321.39 L437.84,321.45 L438.32,321.50 L438.80,321.56 L439.29,321.61 L439.77,321.67 L440.26,321.72 L440.74,321.78 L441.22,321.83 L441.71,321.89 L442.19,321.95 L442.67,322.00 L443.16,322.06 L443.64,322.11 L444.12,322.16 L444.61,322.22 L445.09,322.27 L445.57,322.33 L446.06,322.38 L446.54,322.44 L447.02,322.49 L447.51,322.55 L447.99,322.60 L448.47,322.66 L448.96,322.71 L449.44,322.76 L449.92,322.82 L450.41,322.87 L450.89,322.93 L451.37,322.98 L451.86,323.03 L452.34,323.09 L452.82,323.14 L453.31,323.19 L453.79,323.25 L454.27,323.30 L454.76,323.36 L455.24,323.41 L455.72,323.46 L456.21,323.51 L456.69,323.57 L457.17,323.62 L457.66,323.67 L458.14,323.73 L458.62,323.78 L459.11,323.83 L459.59,323.89 L460.07,323.94 L460.56,323.99 L461.04,324.04 L461.52,324.10 L462.01,324.15 L462.49,324.20 L462.98,324.25 L463.46,324.31 L463.94,324.36 L464.43,324.41 L464.91,324.46 L465.39,324.52 L465.88,324.57 L466.36,324.62 L466.84,324.67 L467.33,324.72 L467.81,324.77 L468.29,324.83 L468.78,324.88 L469.26,324.93 L469.74,324.98 L470.23,325.03 L470.71,325.08 L471.19,325.14 L471.68,325.19 L472.16,325.24 L472.64,325.29 L473.13,325.34 L473.61,325.39 L474.09,325.44 L474.58,325.49 L475.06,325.54 L475.54,325.60 L476.03,325.65 L476.51,325.70 L476.99,325.75 L477.48,325.80 L477.96,325.85 L478.44,325.90 L478.93,325.95 L479.41,326.00 L479.89,326.05 L480.38,326.10 L480.86,326.15 L481.34,326.20 L481.83,326.25 L482.31,326.30 L482.79,326.35 L483.28,326.40 L483.76,326.45 L484.24,326.50 L484.73,326.55 L485.21,326.60 L485.69,326.65 L486.18,326.70 L486.66,326.75 L487.14,326.80 L487.63,326.85 L488.11,326.90 L488.60,326.95 L489.08,327.00 L489.56,327.04 L490.05,327.09 L490.53,327.14 L491.01,327.19 L491.50,327.24 L491.98,327.29 L492.46,327.34 L492.95,327.39 L493.43,327.44 L493.91,327.48 L494.40,327.53 L494.88,327.58 L495.36,327.63 L495.85,327.68 L496.33,327.73 L496.81,327.78 L497.30,327.82 L497.78,327.87 L498.26,327.92 L498.75,327.97 L499.23,328.02 L499.71,328.06 L500.20,328.11 L500.68,328.16 L501.16,328.21 L501.65,328.26 L502.13,328.30 L502.61,328.35 L503.10,328.40 L503.58,328.45 L504.06,328.49 L504.55,328.54 L505.03,328.59 L505.51,328.64 L506.00,328.68 L506.48,328.73 L506.96,328.78 L507.45,328.82 L507.93,328.87 L508.41,328.92 L508.90,328.96 L509.38,329.01 L509.86,329.06 L510.35,329.11 L510.83,329.15 L511.31,329.20 L511.80,329.25 L512.28,329.29 L512.30,329.29" stroke="#e6654f" stroke-width="0.8" fill="none"/>
<path d="M281.70,370.15 L282.04,369.76 L282.38,369.16 L282.72,368.43 L283.05,368.33 L283.39,368.26 L283.73,368.64 L284.07,368.30 L284.41,368.37 L284.75,367.99 L285.08,367.57 L285.42,367.33 L285.76,367.36 L286.10,367.49 L286.44,367.57 L286.78,366.85 L287.11,367.08 L287.45,366.68 L287.79,367.24 L288.13,366.34 L288.47,366.22 L288.81,365.97 L289.14,365.71 L289.48,365.47 L289.82,365.39 L290.16,365.75 L290.50,365.51 L290.84,365.36 L291.17,365.26 L291.51,365.22 L291.85,364.68 L292.19,364.29 L292.53,363.87 L292.87,363.95 L293.20,363.80 L293.54,363.93 L293.88,363.45 L294.22,363.41 L294.56,363.33 L294.90,363.17 L295.24,363.54 L295.57,363.54 L295.91,363.95 L296.25,363.44 L296.59,363.37 L296.93,363.34 L297.27,363.67 L297.60,363.18 L297.94,362.93 L298.28,361.71 L298.62,361.40 L298.96,361.37 L299.30,361.47 L299.63,361.51 L299.97,360.79 L300.31,361.30 L300.65,360.89 L300.99,360.76 L301.33,360.44 L301.66,360.85 L302.00,361.11 L302.34,360.80 L302.68,359.81 L303.02,359.10 L303.36,358.64 L303.69,359.21 L304.03,359.66 L304.37,359.83 L304.71,359.72 L305.05,359.63 L305.39,359.66 L305.72,359.24 L306.06,359.01 L306.40,358.77 L306.74,358.95 L307.08,358.86 L307.42,358.89 L307.76,358.36 L308.09,358.13 L308.43,357.52 L308.77,357.79 L309.11,357.45 L309.45,358.09 L309.79,358.04 L310.12,358.22 L310.46,357.90 L310.80,357.71 L311.14,357.82 L311.48,357.58 L311.82,357.62 L312.15,357.26 L312.49,357.18 L312.83,357.15 L313.17,357.15 L313.51,356.95 L313.85,356.91 L314.18,356.67 L314.52,356.23 L314.86,355.84 L315.20,355.61 L315.54,355.67 L315.88,355.71 L316.21,355.40 L316.55,354.79 L316.89,354.74 L317.23,354.41 L317.57,355.16 L317.91,354.39 L318.25,355.34 L318.58,354.74 L318.92,354.99 L319.26,354.74 L319.60,355.16 L319.94,355.37 L320.28,355.16 L320.61,354.74 L320.95,354.41 L321.29,354.73 L321.63,354.81 L321.97,354.54 L322.31,353.75 L322.64,353.12 L322.98,353.63 L323.32,353.49 L323.66,353.83 L324.00,353.05 L324.34,353.37 L324.67,353.63 L325.01,353.77 L325.35,353.29 L325.69,353.33 L326.03,353.09 L326.37,353.02 L326.70,352.24 L327.04,352.94 L327.38,352.71 L327.72,353.05 L328.06,352.38 L328.40,352.21 L328.73,351.42 L329.07,351.15 L329.41,351.28 L329.75,351.27 L330.09,351.45 L330.43,351.36 L330.77,351.74 L331.10,351.66 L331.44,351.46 L331.78,350.69 L332.12,350.26 L332.46,350.08 L332.80,350.53 L333.13,350.19 L333.47,350.18 L333.81,350.30 L334.15,350.48 L334.49,350.05 L334.83,349.74 L335.16,349.35 L335.50,349.65 L335.84,348.99 L336.18,349.14 L336.52,348.85 L336.86,349.37 L337.19,349.12 L337.53,349.26 L337.87,349.48 L338.21,349.53 L338.55,349.70 L338.89,348.82 L339.22,348.59 L339.56,348.17 L339.90,348.29 L340.24,349.10 L340.58,348.60 L340.92,348.86 L341.25,347.90 L341.59,347.54 L341.93,347.71 L342.27,347.90 L342.61,348.40 L342.95,347.77 L343.29,348.02 L343.62,348.27 L343.96,347.90 L344.30,347.52 L344.64,347.04 L344.98,347.71 L345.32,347.70 L345.65,348.24 L345.99,347.72 L346.33,347.08 L346.67,346.49 L347.01,346.55 L347.35,346.70 L347.68,346.52 L348.02,346.44 L348.36,346.27 L348.70,345.79 L349.04,345.04 L349.38,345.25 L349.71,346.02 L350.05,346.02 L350.39,345.52 L350.73,344.78 L351.07,345.05 L351.41,345.29 L351.74,345.27 L352.08,345.05 L352.42,344.60 L352.76,345.06 L353.10,345.01 L353.44,345.33 L353.77,345.06 L354.11,345.16 L354.45,345.07 L354.79,344.28 L355.13,344.15 L355.47,343.91 L355.81,344.49 L356.14,344.50 L356.48,344.55 L356.82,344.27 L357.16,344.03 L357.50,343.67 L357.84,344.08 L358.17,344.32 L358.51,344.44 L358.85,344.36 L359.19,344.09 L359.53,344.08 L359.87,343.66 L360.20,343.59 L360.54,343.64 L360.88,343.17 L361.22,342.92 L361.56,342.82 L361.90,343.04 L362.23,343.04 L362.57,343.03 L362.91,343.17 L363.25,343.11 L363.59,343.52 L363.93,343.71 L364.26,343.73 L364.60,342.81 L364.94,342.63 L365.28,342.42 L365.62,341.93 L365.96,341.56 L366.29,341.72 L366.63,342.22 L366.97,342.48 L367.31,342.25 L367.65,342.15 L367.99,341.62 L368.33,341.31 L368.66,341.28 L369.00,341.44 L369.34,341.75 L369.68,341.32 L370.02,341.78 L370.36,341.89 L370.69,342.53 L371.03,342.13 L371.37,341.93 L371.71,341.77 L372.05,341.63 L372.39,341.82 L372.72,342.05 L373.06,342.44 L373.40,342.87 L373.74,342.65 L374.08,342.60 L374.42,342.03 L374.75,341.85 L375.09,342.00 L375.43,342.53 L375.77,342.65 L376.11,342.67 L376.45,342.34 L376.78,342.36 L377.12,342.25 L377.46,341.86 L377.80,342.24 L378.14,342.05 L378.48,342.65 L378.82,343.23 L379.15,343.41 L379.49,343.36 L379.83,342.46 L380.17,342.47 L380.51,342.64 L380.85,342.95 L381.18,343.02 L381.52,342.64 L381.86,342.60 L382.20,342.21 L382.54,342.21 L382.88,342.35 L383.21,342.42 L383.55,343.27 L383.89,343.09 L384.23,343.64 L384.57,343.09 L384.91,342.81 L385.24,342.57 L385.58,342.60 L385.92,342.59 L386.26,342.81 L386.60,343.01 L386.94,343.11 L387.27,342.76 L387.61,342.94 L387.95,343.18 L388.29,343.16 L388.63,342.84 L388.97,343.01 L389.30,343.20 L389.64,343.12 L389.98,343.22 L390.32,343.05 L390.66,343.54 L391.00,343.40 L391.34,343.07 L391.67,342.95 L392.01,342.96 L392.35,344.15 L392.69,344.11 L393.03,344.43 L393.37,343.83 L393.70,343.76 L394.04,342.98 L394.38,343.26 L394.72,343.16 L395.06,343.61 L395.40,343.21 L395.73,342.99 L396.07,343.48 L396.41,343.09 L396.75,343.43 L397.09,343.22 L397.43,344.26 L397.76,344.31 L398.10,344.61 L398.44,344.15 L398.78,344.21 L399.12,343.67 L399.46,343.95 L399.79,343.79 L400.13,343.30 L400.47,342.80 L400.81,342.80 L401.15,343.67 L401.49,343.61 L401.82,344.12 L402.16,344.25 L402.50,344.32 L402.84,344.04 L403.18,343.33 L403.52,343.54 L403.86,342.83 L404.19,342.73 L404.53,342.75 L404.87,343.51 L405.21,343.84 L405.55,343.65 L405.89,343.46 L406.22,344.40 L406.56,344.89 L406.90,345.05 L407.24,344.31 L407.58,344.33 L407.92,343.94 L408.25,344.28 L408.59,344.09 L408.93,344.94 L409.27,345.20 L409.61,345.60 L409.95,345.29 L410.28,344.97 L410.62,344.91 L410.96,344.57 L411.30,344.20 L411.64,344.01 L411.98,344.14 L412.31,344.49 L412.65,344.79 L412.99,345.24 L413.33,345.18 L413.67,345.24 L414.01,344.97 L414.34,344.69 L414.68,344.26 L415.02,343.84 L415.36,344.30 L415.70,345.04 L416.04,345.71 L416.38,344.95 L416.71,344.20 L417.05,344.04 L417.39,344.24 L417.73,344.55 L418.07,344.01 L418.41,344.49 L418.74,344.50 L419.08,344.78 L419.42,344.99 L419.76,344.95 L420.10,344.64 L420.44,344.24 L420.77,344.51 L421.11,345.10 L421.45,345.24 L421.79,345.17 L422.13,345.01 L422.47,344.69 L422.80,344.50 L423.14,344.39 L423.48,344.66 L423.82,344.65 L424.16,345.11 L424.50,344.95 L424.83,344.64 L425.17,344.58 L425.51,345.09 L425.85,345.32 L426.19,345.20 L426.53,344.68 L426.87,344.71 L427.20,344.79 L427.54,345.47 L427.88,345.45 L428.22,345.41 L428.56,345.40 L428.90,345.97 L429.23,346.50 L429.57,346.02 L429.91,345.76 L430.25,346.17 L430.59,346.59 L430.93,346.66 L431.26,345.83 L431.60,345.60 L431.94,345.54 L432.28,345.33 L432.62,345.09 L432.96,345.07 L433.29,344.87 L433.63,345.19 L433.97,345.38 L434.31,345.77 L434.65,346.14 L434.99,346.00 L435.32,346.34 L435.66,346.10 L436.00,345.98 L436.34,346.37 L436.68,346.17 L437.02,346.17 L437.35,345.59 L437.69,345.53 L438.03,345.52 L438.37,345.58 L438.71,346.05 L439.05,345.96 L439.39,345.68 L439.72,345.83 L440.06,346.23 L440.40,346.76 L440.74,346.17 L441.08,346.14 L441.42,346.18 L441.75,346.02 L442.09,345.76 L442.43,345.39 L442.77,345.74 L443.11,345.92 L443.45,345.99 L443.78,345.84 L444.12,345.69 L444.46,345.84 L444.80,346.07 L445.14,345.70 L445.48,345.75 L445.81,346.14 L446.15,346.62 L446.49,346.79 L446.83,345.77 L447.17,345.65 L447.51,345.21 L447.84,345.82 L448.18,345.48 L448.52,345.92 L448.86,346.05 L449.20,347.03 L449.54,346.45 L449.87,346.48 L450.21,345.58 L450.55,346.00 L450.89,346.27 L451.23,346.94 L451.57,346.68 L451.91,346.63 L452.24,346.40 L452.58,346.82 L452.92,346.80 L453.26,347.04 L453.60,346.43 L453.94,346.55 L454.27,346.33 L454.61,346.56 L454.95,346.49 L455.29,346.99 L455.63,346.82 L455.97,346.18 L456.30,345.87 L456.64,346.60 L456.98,346.85 L457.32,346.81 L457.66,346.72 L458.00,347.07 L458.33,347.71 L458.67,347.73 L459.01,347.96 L459.35,347.70 L459.69,347.34 L460.03,346.96 L460.36,346.18 L460.70,347.06 L461.04,347.33 L461.38,348.02 L461.72,346.97 L462.06,346.53 L462.39,346.30 L462.73,346.64 L463.07,347.13 L463.41,347.32 L463.75,347.48 L464.09,347.96 L464.43,347.34 L464.76,347.04 L465.10,345.83 L465.44,346.02 L465.78,346.10 L466.12,346.45 L466.46,347.25 L466.79,347.66 L467.13,347.67 L467.47,347.34 L467.81,347.52 L468.15,347.77 L468.49,348.02 L468.82,347.61 L469.16,347.20 L469.50,347.18 L469.84,347.32 L470.18,347.60 L470.52,347.32 L470.85,347.17 L471.19,347.56 L471.53,347.66 L471.87,348.36 L472.21,348.20 L472.55,347.78 L472.88,347.46 L473.22,347.48 L473.56,347.65 L473.90,347.04 L474.24,346.69 L474.58,347.13 L474.91,347.59 L475.25,347.44 L475.59,347.35 L475.93,347.18 L476.27,347.89 L476.61,347.95 L476.95,348.84 L477.28,348.77 L477.62,349.20 L477.96,348.69 L478.30,348.83 L478.64,347.89 L478.98,347.43 L479.31,347.08 L479.65,347.60 L479.99,348.19 L480.33,348.18 L480.67,348.28 L481.01,347.96 L481.34,347.85 L481.68,347.69 L482.02,347.68 L482.36,348.22 L482.70,347.90 L483.04,347.77 L483.37,347.33 L483.71,347.19 L484.05,347.78 L484.39,347.98 L484.73,348.26 L485.07,347.75 L485.40,347.69 L485.74,347.75 L486.08,348.27 L486.42,348.38 L486.76,348.21 L487.10,347.83 L487.44,347.88 L487.77,347.98 L488.11,348.45 L488.45,348.31 L488.79,348.14 L489.13,347.76 L489.47,348.10 L489.80,348.38 L490.14,348.45 L490.48,348.46 L490.82,348.57 L491.16,348.91 L491.50,348.53 L491.83,348.91 L492.17,348.62 L492.51,348.62 L492.85,348.33 L493.19,348.12 L493.53,347.96 L493.86,347.56 L494.20,347.09 L494.54,347.62 L494.88,347.80 L495.22,348.81 L495.56,348.47 L495.89,348.38 L496.23,348.14 L496.57,348.25 L496.91,348.39 L497.25,348.25 L497.59,348.56 L497.92,348.40 L498.26,348.72 L498.60,348.52 L498.94,348.68 L499.28,348.28 L499.62,347.92 L499.96,347.79 L500.29,347.74 L500.63,347.71 L500.97,347.92 L501.31,348.39 L501.65,348.96 L501.99,349.11 L502.32,348.74 L502.66,349.12 L503.00,348.59 L503.34,349.08 L503.68,348.94 L504.02,349.45 L504.35,348.99 L504.69,348.29 L505.03,348.37 L505.37,348.33 L505.71,348.57 L506.05,348.84 L506.38,349.30 L506.72,349.63 L507.06,349.18 L507.40,348.92 L507.74,348.47 L508.08,348.91 L508.41,348.65 L508.75,348.99 L509.09,348.63 L509.43,348.84 L509.77,348.81 L510.11,349.17 L510.44,348.86 L510.78,348.93 L511.12,348.69 L511.46,348.86 L511.80,349.11 L512.14,349.49" stroke="#8080dc" stroke-width="0.65" fill="none" stroke-linejoin="round"/>
<path d="M281.70,369.40 L282.18,369.16 L282.67,368.92 L283.15,368.68 L283.63,368.45 L284.12,368.21 L284.60,367.98 L285.08,367.75 L285.57,367.51 L286.05,367.28 L286.53,367.06 L287.02,366.83 L287.50,366.60 L287.98,366.38 L288.47,366.15 L288.95,365.93 L289.43,365.71 L289.92,365.49 L290.40,365.27 L290.88,365.05 L291.37,364.84 L291.85,364.62 L292.33,364.41 L292.82,364.19 L293.30,363.98 L293.78,363.77 L294.27,363.56 L294.75,363.35 L295.24,363.15 L295.72,362.94 L296.20,362.74 L296.69,362.53 L297.17,362.33 L297.65,362.13 L298.14,361.93 L298.62,361.73 L299.10,361.53 L299.59,361.33 L300.07,361.14 L300.55,360.94 L301.04,360.75 L301.52,360.56 L302.00,360.36 L302.49,360.17 L302.97,359.98 L303.45,359.79 L303.94,359.61 L304.42,359.42 L304.90,359.23 L305.39,359.05 L305.87,358.87 L306.35,358.68 L306.84,358.50 L307.32,358.32 L307.80,358.14 L308.29,357.96 L308.77,357.79 L309.25,357.61 L309.74,357.43 L310.22,357.26 L310.70,357.09 L311.19,356.91 L311.67,356.74 L312.15,356.57 L312.64,356.40 L313.12,356.23 L313.60,356.06 L314.09,355.90 L314.57,355.73 L315.05,355.56 L315.54,355.40 L316.02,355.24 L316.50,355.07 L316.99,354.91 L317.47,354.75 L317.95,354.59 L318.44,354.43 L318.92,354.27 L319.41,354.12 L319.89,353.96 L320.37,353.80 L320.86,353.65 L321.34,353.50 L321.82,353.34 L322.31,353.19 L322.79,353.04 L323.27,352.89 L323.76,352.74 L324.24,352.59 L324.72,352.44 L325.21,352.29 L325.69,352.15 L326.17,352.00 L326.66,351.86 L327.14,351.71 L327.62,351.57 L328.11,351.43 L328.59,351.29 L329.07,351.14 L329.56,351.00 L330.04,350.87 L330.52,350.73 L331.01,350.59 L331.49,350.45 L331.97,350.32 L332.46,350.18 L332.94,350.04 L333.42,349.91 L333.91,349.78 L334.39,349.64 L334.87,349.51 L335.36,349.38 L335.84,349.25 L336.32,349.12 L336.81,348.99 L337.29,348.86 L337.77,348.74 L338.26,348.61 L338.74,348.48 L339.22,348.36 L339.71,348.23 L340.19,348.11 L340.67,347.98 L341.16,347.86 L341.64,347.74 L342.12,347.62 L342.61,347.50 L343.09,347.38 L343.58,347.26 L344.06,347.14 L344.54,347.02 L345.03,346.90 L345.51,346.79 L345.99,346.67 L346.48,346.55 L346.96,346.44 L347.44,346.32 L347.93,346.21 L348.41,346.10 L348.89,345.99 L349.38,345.87 L349.86,345.76 L350.34,345.65 L350.83,345.54 L351.31,345.43 L351.79,345.32 L352.28,345.22 L352.76,345.11 L353.24,345.00 L353.73,344.89 L354.21,344.79 L354.69,344.68 L355.18,344.58 L355.66,344.47 L356.14,344.37 L356.63,344.27 L357.11,344.16 L357.59,344.06 L358.08,343.96 L358.56,343.86 L359.04,343.76 L359.53,343.66 L360.01,343.56 L360.49,343.46 L360.98,343.37 L361.46,343.27 L361.94,343.17 L362.43,343.07 L362.91,342.98 L363.39,342.88 L363.88,342.79 L364.36,342.69 L364.84,342.60 L365.33,342.51 L365.81,342.41 L366.29,342.32 L366.78,342.23 L367.26,342.14 L367.75,342.05 L368.23,341.96 L368.71,341.87 L369.20,341.90 L369.68,341.93 L370.16,341.96 L370.65,341.99 L371.13,342.03 L371.61,342.06 L372.10,342.09 L372.58,342.12 L373.06,342.15 L373.55,342.19 L374.03,342.22 L374.51,342.25 L375.00,342.28 L375.48,342.31 L375.96,342.34 L376.45,342.37 L376.93,342.41 L377.41,342.44 L377.90,342.47 L378.38,342.50 L378.86,342.53 L379.35,342.56 L379.83,342.59 L380.31,342.62 L380.80,342.65 L381.28,342.69 L381.76,342.72 L382.25,342.75 L382.73,342.78 L383.21,342.81 L383.70,342.84 L384.18,342.87 L384.66,342.90 L385.15,342.93 L385.63,342.96 L386.11,342.99 L386.60,343.02 L387.08,343.05 L387.56,343.09 L388.05,343.12 L388.53,343.15 L389.01,343.18 L389.50,343.21 L389.98,343.24 L390.46,343.27 L390.95,343.30 L391.43,343.33 L391.92,343.36 L392.40,343.39 L392.88,343.42 L393.37,343.45 L393.85,343.48 L394.33,343.51 L394.82,343.54 L395.30,343.57 L395.78,343.60 L396.27,343.63 L396.75,343.66 L397.23,343.69 L397.72,343.72 L398.20,343.75 L398.68,343.78 L399.17,343.81 L399.65,343.84 L400.13,343.87 L400.62,343.90 L401.10,343.93 L401.58,343.96 L402.07,343.99 L402.55,344.01 L403.03,344.04 L403.52,344.07 L404.00,344.10 L404.48,344.13 L404.97,344.16 L405.45,344.19 L405.93,344.22 L406.42,344.25 L406.90,344.28 L407.38,344.31 L407.87,344.34 L408.35,344.37 L408.83,344.39 L409.32,344.42 L409.80,344.45 L410.28,344.48 L410.77,344.51 L411.25,344.54 L411.73,344.57 L412.22,344.60 L412.70,344.63 L413.18,344.65 L413.67,344.68 L414.15,344.71 L414.63,344.74 L415.12,344.77 L415.60,344.80 L416.09,344.83 L416.57,344.85 L417.05,344.88 L417.54,344.91 L418.02,344.94 L418.50,344.97 L418.99,345.00 L419.47,345.02 L419.95,345.05 L420.44,345.08 L420.92,345.11 L421.40,345.14 L421.89,345.17 L422.37,345.19 L422.85,345.22 L423.34,345.25 L423.82,345.28 L424.30,345.31 L424.79,345.33 L425.27,345.36 L425.75,345.39 L426.24,345.42 L426.72,345.45 L427.20,345.47 L427.69,345.50 L428.17,345.53 L428.65,345.56 L429.14,345.58 L429.62,345.61 L430.10,345.64 L430.59,345.67 L431.07,345.69 L431.55,345.72 L432.04,345.75 L432.52,345.78 L433.00,345.80 L433.49,345.83 L433.97,345.86 L434.45,345.89 L434.94,345.91 L435.42,345.94 L435.90,345.97 L436.39,345.99 L436.87,346.02 L437.35,346.05 L437.84,346.08 L438.32,346.10 L438.80,346.13 L439.29,346.16 L439.77,346.18 L440.26,346.21 L440.74,346.24 L441.22,346.26 L441.71,346.29 L442.19,346.32 L442.67,346.34 L443.16,346.37 L443.64,346.40 L444.12,346.43 L444.61,346.45 L445.09,346.48 L445.57,346.50 L446.06,346.53 L446.54,346.56 L447.02,346.58 L447.51,346.61 L447.99,346.64 L448.47,346.66 L448.96,346.69 L449.44,346.72 L449.92,346.74 L450.41,346.77 L450.89,346.80 L451.37,346.82 L451.86,346.85 L452.34,346.87 L452.82,346.90 L453.31,346.93 L453.79,346.95 L454.27,346.98 L454.76,347.00 L455.24,347.03 L455.72,347.06 L456.21,347.08 L456.69,347.11 L457.17,347.13 L457.66,347.16 L458.14,347.19 L458.62,347.21 L459.11,347.24 L459.59,347.26 L460.07,347.29 L460.56,347.31 L461.04,347.34 L461.52,347.36 L462.01,347.39 L462.49,347.42 L462.98,347.44 L463.46,347.47 L463.94,347.49 L464.43,347.52 L464.91,347.54 L465.39,347.57 L465.88,347.59 L466.36,347.62 L466.84,347.64 L467.33,347.67 L467.81,347.69 L468.29,347.72 L468.78,347.74 L469.26,347.77 L469.74,347.79 L470.23,347.82 L470.71,347.85 L471.19,347.87 L471.68,347.89 L472.16,347.92 L472.64,347.94 L473.13,347.97 L473.61,347.99 L474.09,348.02 L474.58,348.04 L475.06,348.07 L475.54,348.09 L476.03,348.12 L476.51,348.14 L476.99,348.17 L477.48,348.19 L477.96,348.22 L478.44,348.24 L478.93,348.27 L479.41,348.29 L479.89,348.31 L480.38,348.34 L480.86,348.36 L481.34,348.39 L481.83,348.41 L482.31,348.44 L482.79,348.46 L483.28,348.49 L483.76,348.51 L484.24,348.53 L484.73,348.56 L485.21,348.58 L485.69,348.61 L486.18,348.63 L486.66,348.65 L487.14,348.68 L487.63,348.70 L488.11,348.73 L488.60,348.75 L489.08,348.77 L489.56,348.80 L490.05,348.82 L490.53,348.85 L491.01,348.87 L491.50,348.89 L491.98,348.92 L492.46,348.94 L492.95,348.97 L493.43,348.99 L493.91,349.01 L494.40,349.04 L494.88,349.06 L495.36,349.08 L495.85,349.11 L496.33,349.13 L496.81,349.15 L497.30,349.18 L497.78,349.20 L498.26,349.22 L498.75,349.25 L499.23,349.27 L499.71,349.29 L500.20,349.32 L500.68,349.34 L501.16,349.36 L501.65,349.39 L502.13,349.41 L502.61,349.43 L503.10,349.46 L503.58,349.48 L504.06,349.50 L504.55,349.53 L505.03,349.55 L505.51,349.57 L506.00,349.60 L506.48,349.62 L506.96,349.64 L507.45,349.66 L507.93,349.69 L508.41,349.71 L508.90,349.73 L509.38,349.76 L509.86,349.78 L510.35,349.80 L510.83,349.82 L511.31,349.85 L511.80,349.87 L512.28,349.89 L512.30,349.89" stroke="#e6654f" stroke-width="0.8" fill="none"/>
<path d="M281.70,369.87 L282.04,369.25 L282.38,369.25 L282.72,369.46 L283.05,370.00 L283.39,369.77 L283.73,369.72 L284.07,369.62 L284.41,369.32 L284.75,369.27 L285.08,368.99 L285.42,369.39 L285.76,369.10 L286.10,368.90 L286.44,369.06 L286.78,368.93 L287.11,368.96 L287.45,368.38 L287.79,368.27 L288.13,368.16 L288.47,368.43 L288.81,368.48 L289.14,368.36 L289.48,367.61 L289.82,367.89 L290.16,368.16 L290.50,368.82 L290.84,368.40 L291.17,368.47 L291.51,368.31 L291.85,368.04 L292.19,367.10 L292.53,367.33 L292.87,367.04 L293.20,367.83 L293.54,367.04 L293.88,367.33 L294.22,366.70 L294.56,366.88 L294.90,367.14 L295.24,367.43 L295.57,367.11 L295.91,367.07 L296.25,366.89 L296.59,367.05 L296.93,366.71 L297.27,366.76 L297.60,366.54 L297.94,366.32 L298.28,366.34 L298.62,366.54 L298.96,367.28 L299.30,367.38 L299.63,367.64 L299.97,366.83 L300.31,366.83 L300.65,366.55 L300.99,366.54 L301.33,365.93 L301.66,365.36 L302.00,365.68 L302.34,365.82 L302.68,365.81 L303.02,365.75 L303.36,365.82 L303.69,366.38 L304.03,366.27 L304.37,365.97 L304.71,365.56 L305.05,365.43 L305.39,365.72 L305.72,365.28 L306.06,364.93 L306.40,365.06 L306.74,364.83 L307.08,365.09 L307.42,364.75 L307.76,365.40 L308.09,365.39 L308.43,365.12 L308.77,365.33 L309.11,365.11 L309.45,365.32 L309.79,364.41 L310.12,364.26 L310.46,364.01 L310.80,364.28 L311.14,364.17 L311.48,364.20 L311.82,364.94 L312.15,364.93 L312.49,365.00 L312.83,364.11 L313.17,364.08 L313.51,364.09 L313.85,364.46 L314.18,364.77 L314.52,364.49 L314.86,364.23 L315.20,364.14 L315.54,364.26 L315.88,364.09 L316.21,363.98 L316.55,363.86 L316.89,364.07 L317.23,364.53 L317.57,364.42 L317.91,364.19 L318.25,363.23 L318.58,362.85 L318.92,363.01 L319.26,363.02 L319.60,363.24 L319.94,362.98 L320.28,362.86 L320.61,362.65 L320.95,362.96 L321.29,362.73 L321.63,362.96 L321.97,362.75 L322.31,363.27 L322.64,363.24 L322.98,363.31 L323.32,362.78 L323.66,362.56 L324.00,362.45 L324.34,362.47 L324.67,362.47 L325.01,362.16 L325.35,362.07 L325.69,362.10 L326.03,362.15 L326.37,362.22 L326.70,362.63 L327.04,362.83 L327.38,362.78 L327.72,361.95 L328.06,362.03 L328.40,362.11 L328.73,362.52 L329.07,362.10 L329.41,361.90 L329.75,361.27 L330.09,360.68 L330.43,360.54 L330.77,360.71 L331.10,361.09 L331.44,361.79 L331.78,361.81 L332.12,362.11 L332.46,361.86 L332.80,361.89 L333.13,361.94 L333.47,361.12 L333.81,360.95 L334.15,360.38 L334.49,360.67 L334.83,360.72 L335.16,360.75 L335.50,360.64 L335.84,360.83 L336.18,360.73 L336.52,360.82 L336.86,360.39 L337.19,360.71 L337.53,360.64 L337.87,360.83 L338.21,360.32 L338.55,360.19 L338.89,360.06 L339.22,360.06 L339.56,360.04 L339.90,359.67 L340.24,359.67 L340.58,359.59 L340.92,360.16 L341.25,360.24 L341.59,360.13 L341.93,359.56 L342.27,359.71 L342.61,359.88 L342.95,360.18 L343.29,359.86 L343.62,359.93 L343.96,359.92 L344.30,359.91 L344.64,359.70 L344.98,359.27 L345.32,359.43 L345.65,359.67 L345.99,359.68 L346.33,359.28 L346.67,359.03 L347.01,359.49 L347.35,359.30 L347.68,359.49 L348.02,358.83 L348.36,359.00 L348.70,358.71 L349.04,359.00 L349.38,358.81 L349.71,358.72 L350.05,359.09 L350.39,359.44 L350.73,359.97 L351.07,359.35 L351.41,358.88 L351.74,357.99 L352.08,358.40 L352.42,358.04 L352.76,357.78 L353.10,357.41 L353.44,358.45 L353.77,359.12 L354.11,358.77 L354.45,357.65 L354.79,357.51 L355.13,358.23 L355.47,358.99 L355.81,358.29 L356.14,357.76 L356.48,357.83 L356.82,358.84 L357.16,358.63 L357.50,358.00 L357.84,357.52 L358.17,357.70 L358.51,357.85 L358.85,357.76 L359.19,357.81 L359.53,357.94 L359.87,357.96 L360.20,357.44 L360.54,357.14 L360.88,356.67 L361.22,356.46 L361.56,357.13 L361.90,357.37 L362.23,357.56 L362.57,356.96 L362.91,357.06 L363.25,357.16 L363.59,357.20 L363.93,357.22 L364.26,357.36 L364.60,357.16 L364.94,356.89 L365.28,356.53 L365.62,356.49 L365.96,356.58 L366.29,355.96 L366.63,355.98 L366.97,355.89 L367.31,356.69 L367.65,356.77 L367.99,357.07 L368.33,356.93 L368.66,356.32 L369.00,356.38 L369.34,356.65 L369.68,356.93 L370.02,356.64 L370.36,356.31 L370.69,356.45 L371.03,356.57 L371.37,356.78 L371.71,356.91 L372.05,356.49 L372.39,357.11 L372.72,356.88 L373.06,356.68 L373.40,355.98 L373.74,356.03 L374.08,356.54 L374.42,356.50 L374.75,356.61 L375.09,356.82 L375.43,357.23 L375.77,357.82 L376.11,357.37 L376.45,357.03 L376.78,356.13 L377.12,356.19 L377.46,356.06 L377.80,356.72 L378.14,357.29 L378.48,357.64 L378.82,357.38 L379.15,356.80 L379.49,356.69 L379.83,356.66 L380.17,356.76 L380.51,356.66 L380.85,356.58 L381.18,356.51 L381.52,356.72 L381.86,356.81 L382.20,357.30 L382.54,357.47 L382.88,357.53 L383.21,357.03 L383.55,356.95 L383.89,357.26 L384.23,357.13 L384.57,357.16 L384.91,357.25 L385.24,357.77 L385.58,357.88 L385.92,358.07 L386.26,357.93 L386.60,357.18 L386.94,356.74 L387.27,356.87 L387.61,357.02 L387.95,356.81 L388.29,356.63 L388.63,356.59 L388.97,356.93 L389.30,356.93 L389.64,357.17 L389.98,356.81 L390.32,357.12 L390.66,357.51 L391.00,357.10 L391.34,356.82 L391.67,356.66 L392.01,356.85 L392.35,357.31 L392.69,357.27 L393.03,358.03 L393.37,357.20 L393.70,357.45 L394.04,356.97 L394.38,357.59 L394.72,357.30 L395.06,357.26 L395.40,357.02 L395.73,357.15 L396.07,357.18 L396.41,357.25 L396.75,357.31 L397.09,357.22 L397.43,356.94 L397.76,357.18 L398.10,357.62 L398.44,358.06 L398.78,357.63 L399.12,357.75 L399.46,357.14 L399.79,357.22 L400.13,356.82 L400.47,357.01 L400.81,357.23 L401.15,357.18 L401.49,357.31 L401.82,356.78 L402.16,357.17 L402.50,356.92 L402.84,357.11 L403.18,356.78 L403.52,356.87 L403.86,357.11 L404.19,357.23 L404.53,357.30 L404.87,357.34 L405.21,357.01 L405.55,356.88 L405.89,356.74 L406.22,356.99 L406.56,357.53 L406.90,357.84 L407.24,357.51 L407.58,357.63 L407.92,357.37 L408.25,357.68 L408.59,357.66 L408.93,357.87 L409.27,358.14 L409.61,357.35 L409.95,357.09 L410.28,356.54 L410.62,356.58 L410.96,356.42 L411.30,356.44 L411.64,357.11 L411.98,357.56 L412.31,357.54 L412.65,357.05 L412.99,357.14 L413.33,357.23 L413.67,357.55 L414.01,357.08 L414.34,357.13 L414.68,356.72 L415.02,357.10 L415.36,357.37 L415.70,357.54 L416.04,357.46 L416.38,357.32 L416.71,357.68 L417.05,358.07 L417.39,358.37 L417.73,358.13 L418.07,357.83 L418.41,358.10 L418.74,358.48 L419.08,358.31 L419.42,357.79 L419.76,357.58 L420.10,357.47 L420.44,357.89 L420.77,358.15 L421.11,358.50 L421.45,358.34 L421.79,358.08 L422.13,357.53 L422.47,357.49 L422.80,357.33 L423.14,357.40 L423.48,357.65 L423.82,358.15 L424.16,358.42 L424.50,358.49 L424.83,357.79 L425.17,358.33 L425.51,358.30 L425.85,358.60 L426.19,358.31 L426.53,357.81 L426.87,358.28 L427.20,357.81 L427.54,358.16 L427.88,357.72 L428.22,357.74 L428.56,357.99 L428.90,358.43 L429.23,359.16 L429.57,359.07 L429.91,358.60 L430.25,358.16 L430.59,357.65 L430.93,357.53 L431.26,357.26 L431.60,357.30 L431.94,357.79 L432.28,358.18 L432.62,358.29 L432.96,357.96 L433.29,357.58 L433.63,357.60 L433.97,357.91 L434.31,358.23 L434.65,357.87 L434.99,357.73 L435.32,357.19 L435.66,357.83 L436.00,357.68 L436.34,358.16 L436.68,357.78 L437.02,358.22 L437.35,358.19 L437.69,358.42 L438.03,358.30 L438.37,358.72 L438.71,359.08 L439.05,359.10 L439.39,358.65 L439.72,358.22 L440.06,358.08 L440.40,358.15 L440.74,358.58 L441.08,358.37 L441.42,358.45 L441.75,358.30 L442.09,358.73 L442.43,358.50 L442.77,358.26 L443.11,358.56 L443.45,358.28 L443.78,358.73 L444.12,357.85 L444.46,358.18 L444.80,358.07 L445.14,358.20 L445.48,358.10 L445.81,357.57 L446.15,357.74 L446.49,357.99 L446.83,358.22 L447.17,358.54 L447.51,358.56 L447.84,358.29 L448.18,358.18 L448.52,357.75 L448.86,358.50 L449.20,358.47 L449.54,359.39 L449.87,359.45 L450.21,359.40 L450.55,359.10 L450.89,358.80 L451.23,359.15 L451.57,359.14 L451.91,359.42 L452.24,359.21 L452.58,359.29 L452.92,359.20 L453.26,359.05 L453.60,359.41 L453.94,358.98 L454.27,359.03 L454.61,358.41 L454.95,358.49 L455.29,358.36 L455.63,358.58 L455.97,358.91 L456.30,359.02 L456.64,359.17 L456.98,358.99 L457.32,359.07 L457.66,359.11 L458.00,358.77 L458.33,359.21 L458.67,358.65 L459.01,358.93 L459.35,358.09 L459.69,358.13 L460.03,357.95 L460.36,358.33 L460.70,358.60 L461.04,359.14 L461.38,359.38 L461.72,359.66 L462.06,359.50 L462.39,359.39 L462.73,359.36 L463.07,359.15 L463.41,359.19 L463.75,359.11 L464.09,359.05 L464.43,358.87 L464.76,359.11 L465.10,359.30 L465.44,358.67 L465.78,358.32 L466.12,358.12 L466.46,359.13 L466.79,358.89 L467.13,358.61 L467.47,358.24 L467.81,358.54 L468.15,358.94 L468.49,359.60 L468.82,359.42 L469.16,359.51 L469.50,358.92 L469.84,358.99 L470.18,358.86 L470.52,358.42 L470.85,358.28 L471.19,358.52 L471.53,358.92 L471.87,359.00 L472.21,358.83 L472.55,358.63 L472.88,358.90 L473.22,359.38 L473.56,360.04 L473.90,359.85 L474.24,359.65 L474.58,359.34 L474.91,359.85 L475.25,359.50 L475.59,359.61 L475.93,359.46 L476.27,359.72 L476.61,359.73 L476.95,359.26 L477.28,359.06 L477.62,359.05 L477.96,359.26 L478.30,359.09 L478.64,358.93 L478.98,358.52 L479.31,358.95 L479.65,358.86 L479.99,359.30 L480.33,359.28 L480.67,359.35 L481.01,359.17 L481.34,358.76 L481.68,358.79 L482.02,359.25 L482.36,359.47 L482.70,359.51 L483.04,358.85 L483.37,358.87 L483.71,358.94 L484.05,358.97 L484.39,358.99 L484.73,359.16 L485.07,359.50 L485.40,359.33 L485.74,359.18 L486.08,359.70 L486.42,360.01 L486.76,359.80 L487.10,359.56 L487.44,359.24 L487.77,359.47 L488.11,359.49 L488.45,359.51 L488.79,360.13 L489.13,360.47 L489.47,361.10 L489.80,360.41 L490.14,359.94 L490.48,359.37 L490.82,359.54 L491.16,359.44 L491.50,359.75 L491.83,359.84 L492.17,359.63 L492.51,359.30 L492.85,359.55 L493.19,359.67 L493.53,359.34 L493.86,358.81 L494.20,359.21 L494.54,359.55 L494.88,359.70 L495.22,359.55 L495.56,359.50 L495.89,359.24 L496.23,359.30 L496.57,359.53 L496.91,359.96 L497.25,359.83 L497.59,359.45 L497.92,359.47 L498.26,359.33 L498.60,359.69 L498.94,359.56 L499.28,360.01 L499.62,359.93 L499.96,360.24 L500.29,359.77 L500.63,359.96 L500.97,359.65 L501.31,359.96 L501.65,360.17 L501.99,360.48 L502.32,360.37 L502.66,360.17 L503.00,359.84 L503.34,359.92 L503.68,359.71 L504.02,359.75 L504.35,359.65 L504.69,359.93 L505.03,359.98 L505.37,359.85 L505.71,359.97 L506.05,360.29 L506.38,360.37 L506.72,360.08 L507.06,359.77 L507.40,359.81 L507.74,360.27 L508.08,360.54 L508.41,360.61 L508.75,360.29 L509.09,360.36 L509.43,360.25 L509.77,360.74 L510.11,360.11 L510.44,360.51 L510.78,360.17 L511.12,360.77 L511.46,360.85 L511.80,360.80 L512.14,360.62" stroke="#8080dc" stroke-width="0.65" fill="none" stroke-linejoin="round"/>
<path d="M281.70,369.40 L282.18,369.32 L282.67,369.23 L283.15,369.15 L283.63,369.07 L284.12,368.99 L284.60,368.90 L285.08,368.82 L285.57,368.74 L286.05,368.66 L286.53,368.58 L287.02,368.50 L287.50,368.41 L287.98,368.33 L288.47,368.25 L288.95,368.17 L289.43,368.09 L289.92,368.01 L290.40,367.93 L290.88,367.85 L291.37,367.77 L291.85,367.69 L292.33,367.61 L292.82,367.53 L293.30,367.45 L293.78,367.37 L294.27,367.29 L294.75,367.21 L295.24,367.13 L295.72,367.05 L296.20,366.97 L296.69,366.89 L297.17,366.81 L297.65,366.73 L298.14,366.65 L298.62,366.57 L299.10,366.50 L299.59,366.42 L300.07,366.34 L300.55,366.26 L301.04,366.18 L301.52,366.10 L302.00,366.03 L302.49,365.95 L302.97,365.87 L303.45,365.79 L303.94,365.72 L304.42,365.64 L304.90,365.56 L305.39,365.48 L305.87,365.41 L306.35,365.33 L306.84,365.25 L307.32,365.18 L307.80,365.10 L308.29,365.02 L308.77,364.95 L309.25,364.87 L309.74,364.80 L310.22,364.72 L310.70,364.64 L311.19,364.57 L311.67,364.49 L312.15,364.42 L312.64,364.34 L313.12,364.27 L313.60,364.19 L314.09,364.12 L314.57,364.04 L315.05,363.97 L315.54,363.89 L316.02,363.82 L316.50,363.74 L316.99,363.67 L317.47,363.59 L317.95,363.52 L318.44,363.45 L318.92,363.37 L319.41,363.30 L319.89,363.22 L320.37,363.15 L320.86,363.08 L321.34,363.00 L321.82,362.93 L322.31,362.86 L322.79,362.79 L323.27,362.71 L323.76,362.64 L324.24,362.57 L324.72,362.49 L325.21,362.42 L325.69,362.35 L326.17,362.28 L326.66,362.20 L327.14,362.13 L327.62,362.06 L328.11,361.99 L328.59,361.92 L329.07,361.85 L329.56,361.77 L330.04,361.70 L330.52,361.63 L331.01,361.56 L331.49,361.49 L331.97,361.42 L332.46,361.35 L332.94,361.28 L333.42,361.21 L333.91,361.14 L334.39,361.06 L334.87,360.99 L335.36,360.92 L335.84,360.85 L336.32,360.78 L336.81,360.71 L337.29,360.64 L337.77,360.57 L338.26,360.51 L338.74,360.44 L339.22,360.37 L339.71,360.30 L340.19,360.23 L340.67,360.16 L341.16,360.09 L341.64,360.02 L342.12,359.95 L342.61,359.88 L343.09,359.81 L343.58,359.75 L344.06,359.68 L344.54,359.61 L345.03,359.54 L345.51,359.47 L345.99,359.41 L346.48,359.34 L346.96,359.27 L347.44,359.20 L347.93,359.13 L348.41,359.07 L348.89,359.00 L349.38,358.93 L349.86,358.87 L350.34,358.80 L350.83,358.73 L351.31,358.66 L351.79,358.60 L352.28,358.53 L352.76,358.47 L353.24,358.40 L353.73,358.33 L354.21,358.27 L354.69,358.20 L355.18,358.13 L355.66,358.07 L356.14,358.00 L356.63,357.94 L357.11,357.87 L357.59,357.81 L358.08,357.74 L358.56,357.67 L359.04,357.61 L359.53,357.54 L360.01,357.48 L360.49,357.41 L360.98,357.35 L361.46,357.28 L361.94,357.22 L362.43,357.16 L362.91,357.09 L363.39,357.03 L363.88,356.96 L364.36,356.90 L364.84,356.83 L365.33,356.77 L365.81,356.71 L366.29,356.64 L366.78,356.58 L367.26,356.51 L367.75,356.45 L368.23,356.39 L368.71,356.32 L369.20,356.34 L369.68,356.35 L370.16,356.37 L370.65,356.38 L371.13,356.40 L371.61,356.42 L372.10,356.43 L372.58,356.45 L373.06,356.46 L373.55,356.48 L374.03,356.49 L374.51,356.51 L375.00,356.52 L375.48,356.53 L375.96,356.55 L376.45,356.56 L376.93,356.58 L377.41,356.59 L377.90,356.61 L378.38,356.62 L378.86,356.64 L379.35,356.65 L379.83,356.67 L380.31,356.68 L380.80,356.70 L381.28,356.71 L381.76,356.73 L382.25,356.74 L382.73,356.76 L383.21,356.77 L383.70,356.79 L384.18,356.80 L384.66,356.82 L385.15,356.83 L385.63,356.84 L386.11,356.86 L386.60,356.87 L387.08,356.89 L387.56,356.90 L388.05,356.92 L388.53,356.93 L389.01,356.95 L389.50,356.96 L389.98,356.97 L390.46,356.99 L390.95,357.00 L391.43,357.02 L391.92,357.03 L392.40,357.05 L392.88,357.06 L393.37,357.08 L393.85,357.09 L394.33,357.10 L394.82,357.12 L395.30,357.13 L395.78,357.15 L396.27,357.16 L396.75,357.18 L397.23,357.19 L397.72,357.20 L398.20,357.22 L398.68,357.23 L399.17,357.25 L399.65,357.26 L400.13,357.27 L400.62,357.29 L401.10,357.30 L401.58,357.32 L402.07,357.33 L402.55,357.34 L403.03,357.36 L403.52,357.37 L404.00,357.39 L404.48,357.40 L404.97,357.41 L405.45,357.43 L405.93,357.44 L406.42,357.46 L406.90,357.47 L407.38,357.48 L407.87,357.50 L408.35,357.51 L408.83,357.52 L409.32,357.54 L409.80,357.55 L410.28,357.57 L410.77,357.58 L411.25,357.59 L411.73,357.61 L412.22,357.62 L412.70,357.63 L413.18,357.65 L413.67,357.66 L414.15,357.68 L414.63,357.69 L415.12,357.70 L415.60,357.72 L416.09,357.73 L416.57,357.74 L417.05,357.76 L417.54,357.77 L418.02,357.78 L418.50,357.80 L418.99,357.81 L419.47,357.82 L419.95,357.84 L420.44,357.85 L420.92,357.86 L421.40,357.88 L421.89,357.89 L422.37,357.90 L422.85,357.92 L423.34,357.93 L423.82,357.94 L424.30,357.96 L424.79,357.97 L425.27,357.98 L425.75,358.00 L426.24,358.01 L426.72,358.02 L427.20,358.04 L427.69,358.05 L428.17,358.06 L428.65,358.08 L429.14,358.09 L429.62,358.10 L430.10,358.12 L430.59,358.13 L431.07,358.14 L431.55,358.15 L432.04,358.17 L432.52,358.18 L433.00,358.19 L433.49,358.21 L433.97,358.22 L434.45,358.23 L434.94,358.25 L435.42,358.26 L435.90,358.27 L436.39,358.28 L436.87,358.30 L437.35,358.31 L437.84,358.32 L438.32,358.34 L438.80,358.35 L439.29,358.36 L439.77,358.37 L440.26,358.39 L440.74,358.40 L441.22,358.41 L441.71,358.43 L442.19,358.44 L442.67,358.45 L443.16,358.46 L443.64,358.48 L444.12,358.49 L444.61,358.50 L445.09,358.51 L445.57,358.53 L446.06,358.54 L446.54,358.55 L447.02,358.56 L447.51,358.58 L447.99,358.59 L448.47,358.60 L448.96,358.61 L449.44,358.63 L449.92,358.64 L450.41,358.65 L450.89,358.66 L451.37,358.68 L451.86,358.69 L452.34,358.70 L452.82,358.71 L453.31,358.73 L453.79,358.74 L454.27,358.75 L454.76,358.76 L455.24,358.78 L455.72,358.79 L456.21,358.80 L456.69,358.81 L457.17,358.83 L457.66,358.84 L458.14,358.85 L458.62,358.86 L459.11,358.87 L459.59,358.89 L460.07,358.90 L460.56,358.91 L461.04,358.92 L461.52,358.94 L462.01,358.95 L462.49,358.96 L462.98,358.97 L463.46,358.98 L463.94,359.00 L464.43,359.01 L464.91,359.02 L465.39,359.03 L465.88,359.04 L466.36,359.06 L466.84,359.07 L467.33,359.08 L467.81,359.09 L468.29,359.10 L468.78,359.12 L469.26,359.13 L469.74,359.14 L470.23,359.15 L470.71,359.16 L471.19,359.18 L471.68,359.19 L472.16,359.20 L472.64,359.21 L473.13,359.22 L473.61,359.23 L474.09,359.25 L474.58,359.26 L475.06,359.27 L475.54,359.28 L476.03,359.29 L476.51,359.30 L476.99,359.32 L477.48,359.33 L477.96,359.34 L478.44,359.35 L478.93,359.36 L479.41,359.37 L479.89,359.39 L480.38,359.40 L480.86,359.41 L481.34,359.42 L481.83,359.43 L482.31,359.44 L482.79,359.46 L483.28,359.47 L483.76,359.48 L484.24,359.49 L484.73,359.50 L485.21,359.51 L485.69,359.52 L486.18,359.54 L486.66,359.55 L487.14,359.56 L487.63,359.57 L488.11,359.58 L488.60,359.59 L489.08,359.60 L489.56,359.62 L490.05,359.63 L490.53,359.64 L491.01,359.65 L491.50,359.66 L491.98,359.67 L492.46,359.68 L492.95,359.70 L493.43,359.71 L493.91,359.72 L494.40,359.73 L494.88,359.74 L495.36,359.75 L495.85,359.76 L496.33,359.77 L496.81,359.78 L497.30,359.80 L497.78,359.81 L498.26,359.82 L498.75,359.83 L499.23,359.84 L499.71,359.85 L500.20,359.86 L500.68,359.87 L501.16,359.88 L501.65,359.90 L502.13,359.91 L502.61,359.92 L503.10,359.93 L503.58,359.94 L504.06,359.95 L504.55,359.96 L505.03,359.97 L505.51,359.98 L506.00,359.99 L506.48,360.01 L506.96,360.02 L507.45,360.03 L507.93,360.04 L508.41,360.05 L508.90,360.06 L509.38,360.07 L509.86,360.08 L510.35,360.09 L510.83,360.10 L511.31,360.11 L511.80,360.12 L512.28,360.14 L512.30,360.14" stroke="#e6654f" stroke-width="0.8" fill="none"/>
<path d="M281.9,221.8 H512.3 V369.4" stroke="#333" stroke-width="1.6" fill="none"/>
<path d="M281.9,221.8 V369.4 H512.3" stroke="#111" stroke-width="1.3" fill="none"/>
<line x1="278.9" y1="369.4" x2="281.9" y2="369.4" stroke="#111" stroke-width="0.9" />
<text x="276.4" y="372.29999999999995" font-size="8.0" text-anchor="end" font-weight="normal" fill="#222" >0</text>
<line x1="278.9" y1="351.4" x2="281.9" y2="351.4" stroke="#111" stroke-width="0.9" />
<text x="276.4" y="354.29999999999995" font-size="8.0" text-anchor="end" font-weight="normal" fill="#222" >0.05</text>
<line x1="278.9" y1="333.4" x2="281.9" y2="333.4" stroke="#111" stroke-width="0.9" />
<text x="276.4" y="336.29999999999995" font-size="8.0" text-anchor="end" font-weight="normal" fill="#222" >0.1</text>
<line x1="278.9" y1="315.4" x2="281.9" y2="315.4" stroke="#111" stroke-width="0.9" />
<text x="276.4" y="318.29999999999995" font-size="8.0" text-anchor="end" font-weight="normal" fill="#222" >0.15</text>
<line x1="278.9" y1="297.4" x2="281.9" y2="297.4" stroke="#111" stroke-width="0.9" />
<text x="276.4" y="300.29999999999995" font-size="8.0" text-anchor="end" font-weight="normal" fill="#222" >0.2</text>
<line x1="278.9" y1="279.4" x2="281.9" y2="279.4" stroke="#111" stroke-width="0.9" />
<text x="276.4" y="282.29999999999995" font-size="8.0" text-anchor="end" font-weight="normal" fill="#222" >0.25</text>
<line x1="278.9" y1="261.4" x2="281.9" y2="261.4" stroke="#111" stroke-width="0.9" />
<text x="276.4" y="264.29999999999995" font-size="8.0" text-anchor="end" font-weight="normal" fill="#222" >0.3</text>
<line x1="278.9" y1="243.39999999999998" x2="281.9" y2="243.39999999999998" stroke="#111" stroke-width="0.9" />
<text x="276.4" y="246.29999999999998" font-size="8.0" text-anchor="end" font-weight="normal" fill="#222" >0.35</text>
<line x1="278.9" y1="225.39999999999998" x2="281.9" y2="225.39999999999998" stroke="#111" stroke-width="0.9" />
<text x="276.4" y="228.29999999999998" font-size="8.0" text-anchor="end" font-weight="normal" fill="#222" >0.4</text>
<line x1="279.9" y1="369.4" x2="281.9" y2="369.4" stroke="#111" stroke-width="0.75" />
<line x1="279.9" y1="365.79999999999995" x2="281.9" y2="365.79999999999995" stroke="#111" stroke-width="0.75" />
<line x1="279.9" y1="362.2" x2="281.9" y2="362.2" stroke="#111" stroke-width="0.75" />
<line x1="279.9" y1="358.59999999999997" x2="281.9" y2="358.59999999999997" stroke="#111" stroke-width="0.75" />
<line x1="279.9" y1="355.0" x2="281.9" y2="355.0" stroke="#111" stroke-width="0.75" />
<line x1="279.9" y1="351.4" x2="281.9" y2="351.4" stroke="#111" stroke-width="0.75" />
<line x1="279.9" y1="347.79999999999995" x2="281.9" y2="347.79999999999995" stroke="#111" stroke-width="0.75" />
<line x1="279.9" y1="344.2" x2="281.9" y2="344.2" stroke="#111" stroke-width="0.75" />
<line x1="279.9" y1="340.59999999999997" x2="281.9" y2="340.59999999999997" stroke="#111" stroke-width="0.75" />
<line x1="279.9" y1="337.0" x2="281.9" y2="337.0" stroke="#111" stroke-width="0.75" />
<line x1="279.9" y1="333.4" x2="281.9" y2="333.4" stroke="#111" stroke-width="0.75" />
<line x1="279.9" y1="329.79999999999995" x2="281.9" y2="329.79999999999995" stroke="#111" stroke-width="0.75" />
<line x1="279.9" y1="326.2" x2="281.9" y2="326.2" stroke="#111" stroke-width="0.75" />
<line x1="279.9" y1="322.59999999999997" x2="281.9" y2="322.59999999999997" stroke="#111" stroke-width="0.75" />
<line x1="279.9" y1="319.0" x2="281.9" y2="319.0" stroke="#111" stroke-width="0.75" />
<line x1="279.9" y1="315.4" x2="281.9" y2="315.4" stroke="#111" stroke-width="0.75" />
<line x1="279.9" y1="311.79999999999995" x2="281.9" y2="311.79999999999995" stroke="#111" stroke-width="0.75" />
<line x1="279.9" y1="308.2" x2="281.9" y2="308.2" stroke="#111" stroke-width="0.75" />
<line x1="279.9" y1="304.59999999999997" x2="281.9" y2="304.59999999999997" stroke="#111" stroke-width="0.75" />
<line x1="279.9" y1="301.0" x2="281.9" y2="301.0" stroke="#111" stroke-width="0.75" />
<line x1="279.9" y1="297.4" x2="281.9" y2="297.4" stroke="#111" stroke-width="0.75" />
<line x1="279.9" y1="293.79999999999995" x2="281.9" y2="293.79999999999995" stroke="#111" stroke-width="0.75" />
<line x1="279.9" y1="290.2" x2="281.9" y2="290.2" stroke="#111" stroke-width="0.75" />
<line x1="279.9" y1="286.59999999999997" x2="281.9" y2="286.59999999999997" stroke="#111" stroke-width="0.75" />
<line x1="279.9" y1="283.0" x2="281.9" y2="283.0" stroke="#111" stroke-width="0.75" />
<line x1="279.9" y1="279.4" x2="281.9" y2="279.4" stroke="#111" stroke-width="0.75" />
<line x1="279.9" y1="275.79999999999995" x2="281.9" y2="275.79999999999995" stroke="#111" stroke-width="0.75" />
<line x1="279.9" y1="272.2" x2="281.9" y2="272.2" stroke="#111" stroke-width="0.75" />
<line x1="279.9" y1="268.59999999999997" x2="281.9" y2="268.59999999999997" stroke="#111" stroke-width="0.75" />
<line x1="279.9" y1="265.0" x2="281.9" y2="265.0" stroke="#111" stroke-width="0.75" />
<line x1="279.9" y1="261.4" x2="281.9" y2="261.4" stroke="#111" stroke-width="0.75" />
<line x1="279.9" y1="257.79999999999995" x2="281.9" y2="257.79999999999995" stroke="#111" stroke-width="0.75" />
<line x1="279.9" y1="254.2" x2="281.9" y2="254.2" stroke="#111" stroke-width="0.75" />
<line x1="279.9" y1="250.59999999999997" x2="281.9" y2="250.59999999999997" stroke="#111" stroke-width="0.75" />
<line x1="279.9" y1="246.99999999999997" x2="281.9" y2="246.99999999999997" stroke="#111" stroke-width="0.75" />
<line x1="279.9" y1="243.39999999999998" x2="281.9" y2="243.39999999999998" stroke="#111" stroke-width="0.75" />
<line x1="279.9" y1="239.79999999999998" x2="281.9" y2="239.79999999999998" stroke="#111" stroke-width="0.75" />
<line x1="279.9" y1="236.2" x2="281.9" y2="236.2" stroke="#111" stroke-width="0.75" />
<line x1="279.9" y1="232.59999999999997" x2="281.9" y2="232.59999999999997" stroke="#111" stroke-width="0.75" />
<line x1="279.9" y1="228.99999999999997" x2="281.9" y2="228.99999999999997" stroke="#111" stroke-width="0.75" />
<line x1="279.9" y1="225.39999999999998" x2="281.9" y2="225.39999999999998" stroke="#111" stroke-width="0.75" />
<line x1="281.7" y1="369.4" x2="281.7" y2="372.4" stroke="#111" stroke-width="0.9" />
<text x="281.7" y="382.0" font-size="8.0" text-anchor="middle" font-weight="normal" fill="#222" >0</text>
<line x1="305.87" y1="369.4" x2="305.87" y2="372.4" stroke="#111" stroke-width="0.9" />
<text x="305.87" y="382.0" font-size="8.0" text-anchor="middle" font-weight="normal" fill="#222" >50</text>
<line x1="330.03999999999996" y1="369.4" x2="330.03999999999996" y2="372.4" stroke="#111" stroke-width="0.9" />
<text x="330.03999999999996" y="382.0" font-size="8.0" text-anchor="middle" font-weight="normal" fill="#222" >100</text>
<line x1="354.21" y1="369.4" x2="354.21" y2="372.4" stroke="#111" stroke-width="0.9" />
<text x="354.21" y="382.0" font-size="8.0" text-anchor="middle" font-weight="normal" fill="#222" >150</text>
<line x1="378.38" y1="369.4" x2="378.38" y2="372.4" stroke="#111" stroke-width="0.9" />
<text x="378.38" y="382.0" font-size="8.0" text-anchor="middle" font-weight="normal" fill="#222" >200</text>
<line x1="402.54999999999995" y1="369.4" x2="402.54999999999995" y2="372.4" stroke="#111" stroke-width="0.9" />
<text x="402.54999999999995" y="382.0" font-size="8.0" text-anchor="middle" font-weight="normal" fill="#222" >250</text>
<line x1="426.72" y1="369.4" x2="426.72" y2="372.4" stroke="#111" stroke-width="0.9" />
<text x="426.72" y="382.0" font-size="8.0" text-anchor="middle" font-weight="normal" fill="#222" >300</text>
<line x1="450.89" y1="369.4" x2="450.89" y2="372.4" stroke="#111" stroke-width="0.9" />
<text x="450.89" y="382.0" font-size="8.0" text-anchor="middle" font-weight="normal" fill="#222" >350</text>
<line x1="475.05999999999995" y1="369.4" x2="475.05999999999995" y2="372.4" stroke="#111" stroke-width="0.9" />
<text x="475.05999999999995" y="382.0" font-size="8.0" text-anchor="middle" font-weight="normal" fill="#222" >400</text>
<line x1="499.23" y1="369.4" x2="499.23" y2="372.4" stroke="#111" stroke-width="0.9" />
<text x="499.23" y="382.0" font-size="8.0" text-anchor="middle" font-weight="normal" fill="#222" >450</text>
<line x1="281.7" y1="369.4" x2="281.7" y2="371.0" stroke="#111" stroke-width="0.6" />
<line x1="286.534" y1="369.4" x2="286.534" y2="371.0" stroke="#111" stroke-width="0.6" />
<line x1="291.368" y1="369.4" x2="291.368" y2="371.0" stroke="#111" stroke-width="0.6" />
<line x1="296.202" y1="369.4" x2="296.202" y2="371.0" stroke="#111" stroke-width="0.6" />
<line x1="301.036" y1="369.4" x2="301.036" y2="371.0" stroke="#111" stroke-width="0.6" />
<line x1="305.87" y1="369.4" x2="305.87" y2="371.0" stroke="#111" stroke-width="0.6" />
<line x1="310.704" y1="369.4" x2="310.704" y2="371.0" stroke="#111" stroke-width="0.6" />
<line x1="315.538" y1="369.4" x2="315.538" y2="371.0" stroke="#111" stroke-width="0.6" />
<line x1="320.37199999999996" y1="369.4" x2="320.37199999999996" y2="371.0" stroke="#111" stroke-width="0.6" />
<line x1="325.206" y1="369.4" x2="325.206" y2="371.0" stroke="#111" stroke-width="0.6" />
<line x1="330.03999999999996" y1="369.4" x2="330.03999999999996" y2="371.0" stroke="#111" stroke-width="0.6" />
<line x1="334.87399999999997" y1="369.4" x2="334.87399999999997" y2="371.0" stroke="#111" stroke-width="0.6" />
<line x1="339.70799999999997" y1="369.4" x2="339.70799999999997" y2="371.0" stroke="#111" stroke-width="0.6" />
<line x1="344.542" y1="369.4" x2="344.542" y2="371.0" stroke="#111" stroke-width="0.6" />
<line x1="349.376" y1="369.4" x2="349.376" y2="371.0" stroke="#111" stroke-width="0.6" />
<line x1="354.21" y1="369.4" x2="354.21" y2="371.0" stroke="#111" stroke-width="0.6" />
<line x1="359.044" y1="369.4" x2="359.044" y2="371.0" stroke="#111" stroke-width="0.6" />
<line x1="363.878" y1="369.4" x2="363.878" y2="371.0" stroke="#111" stroke-width="0.6" />
<line x1="368.712" y1="369.4" x2="368.712" y2="371.0" stroke="#111" stroke-width="0.6" />
<line x1="373.546" y1="369.4" x2="373.546" y2="371.0" stroke="#111" stroke-width="0.6" />
<line x1="378.38" y1="369.4" x2="378.38" y2="371.0" stroke="#111" stroke-width="0.6" />
<line x1="383.214" y1="369.4" x2="383.214" y2="371.0" stroke="#111" stroke-width="0.6" />
<line x1="388.048" y1="369.4" x2="388.048" y2="371.0" stroke="#111" stroke-width="0.6" />
<line x1="392.882" y1="369.4" x2="392.882" y2="371.0" stroke="#111" stroke-width="0.6" />
<line x1="397.716" y1="369.4" x2="397.716" y2="371.0" stroke="#111" stroke-width="0.6" />
<line x1="402.54999999999995" y1="369.4" x2="402.54999999999995" y2="371.0" stroke="#111" stroke-width="0.6" />
<line x1="407.384" y1="369.4" x2="407.384" y2="371.0" stroke="#111" stroke-width="0.6" />
<line x1="412.21799999999996" y1="369.4" x2="412.21799999999996" y2="371.0" stroke="#111" stroke-width="0.6" />
<line x1="417.052" y1="369.4" x2="417.052" y2="371.0" stroke="#111" stroke-width="0.6" />
<line x1="421.88599999999997" y1="369.4" x2="421.88599999999997" y2="371.0" stroke="#111" stroke-width="0.6" />
<line x1="426.72" y1="369.4" x2="426.72" y2="371.0" stroke="#111" stroke-width="0.6" />
<line x1="431.554" y1="369.4" x2="431.554" y2="371.0" stroke="#111" stroke-width="0.6" />
<line x1="436.388" y1="369.4" x2="436.388" y2="371.0" stroke="#111" stroke-width="0.6" />
<line x1="441.222" y1="369.4" x2="441.222" y2="371.0" stroke="#111" stroke-width="0.6" />
<line x1="446.056" y1="369.4" x2="446.056" y2="371.0" stroke="#111" stroke-width="0.6" />
<line x1="450.89" y1="369.4" x2="450.89" y2="371.0" stroke="#111" stroke-width="0.6" />
<line x1="455.724" y1="369.4" x2="455.724" y2="371.0" stroke="#111" stroke-width="0.6" />
<line x1="460.558" y1="369.4" x2="460.558" y2="371.0" stroke="#111" stroke-width="0.6" />
<line x1="465.392" y1="369.4" x2="465.392" y2="371.0" stroke="#111" stroke-width="0.6" />
<line x1="470.226" y1="369.4" x2="470.226" y2="371.0" stroke="#111" stroke-width="0.6" />
<line x1="475.05999999999995" y1="369.4" x2="475.05999999999995" y2="371.0" stroke="#111" stroke-width="0.6" />
<line x1="479.894" y1="369.4" x2="479.894" y2="371.0" stroke="#111" stroke-width="0.6" />
<line x1="484.72799999999995" y1="369.4" x2="484.72799999999995" y2="371.0" stroke="#111" stroke-width="0.6" />
<line x1="489.562" y1="369.4" x2="489.562" y2="371.0" stroke="#111" stroke-width="0.6" />
<line x1="494.39599999999996" y1="369.4" x2="494.39599999999996" y2="371.0" stroke="#111" stroke-width="0.6" />
<line x1="499.23" y1="369.4" x2="499.23" y2="371.0" stroke="#111" stroke-width="0.6" />
<line x1="504.06399999999996" y1="369.4" x2="504.06399999999996" y2="371.0" stroke="#111" stroke-width="0.6" />
<line x1="508.898" y1="369.4" x2="508.898" y2="371.0" stroke="#111" stroke-width="0.6" />
<text x="0" y="0" font-size="8.39" text-anchor="middle" font-weight="normal" fill="#222" transform="translate(397.9 394.2) scale(0.86 1)">Time (sec)</text>
<text x="0" y="0" font-size="7.6" font-weight="bold" text-anchor="middle" fill="#333" transform="translate(255.0 295.6) rotate(-90) scale(0.68 1)">nm</text>
<text x="0" y="0" font-size="6.9" text-anchor="start" font-weight="normal" fill="#222" transform="translate(380.1 228.2) scale(0.93 1)">1000nM</text>
<text x="0" y="0" font-size="6.9" text-anchor="start" font-weight="normal" fill="#222" transform="translate(381.4 260.2) scale(0.93 1)">500nM</text>
<text x="0" y="0" font-size="6.9" text-anchor="start" font-weight="normal" fill="#222" transform="translate(381.4 311.2) scale(0.93 1)">250nM</text>
<text x="0" y="0" font-size="6.9" text-anchor="start" font-weight="normal" fill="#222" transform="translate(381.4 339.2) scale(0.93 1)">125nM</text>
<text x="0" y="0" font-size="6.9" text-anchor="start" font-weight="normal" fill="#222" transform="translate(380.2 354.4) scale(0.93 1)">62.5nM</text>
<text x="0" y="0" font-size="6.9" text-anchor="start" font-weight="normal" fill="#222" transform="translate(327.4 306.8) scale(0.93 1)">Association</text>
<text x="0" y="0" font-size="6.9" text-anchor="start" font-weight="normal" fill="#222" transform="translate(419.5 306.8) scale(0.93 1)">Dissociation</text>
<text x="6.6" y="313.5" font-size="11" text-anchor="start" font-weight="bold" fill="#000" style="stroke:#000;stroke-width:0.55px">E</text>
<path d="M36.66,441.58 L37.39,441.47 L38.11,441.37 L38.63,440.50 L39.15,439.71 L39.67,438.92 L40.19,438.09 L40.71,437.31 L41.22,436.33 L41.74,433.67 L42.26,430.37 L42.78,427.86 L43.30,425.38 L43.82,422.44 L44.34,419.83 L44.85,413.13 L45.37,407.12 L45.89,400.76 L46.41,394.72 L46.93,388.51 L47.45,381.95 L47.97,376.54 L48.49,371.04 L49.00,365.89 L49.52,360.27 L50.04,354.37 L50.56,349.22 L51.29,344.16 L52.01,339.78 L52.63,337.93 L53.26,336.30 L53.98,338.07 L54.71,338.91 L55.23,335.60 L55.75,332.74 L56.37,329.56 L56.99,332.32 L57.82,336.87 L58.34,340.25 L58.86,343.97 L59.38,347.31 L59.90,351.38 L60.41,359.01 L60.93,366.96 L61.45,374.70 L61.97,382.12 L62.49,388.38 L63.01,394.49 L63.53,400.70 L64.05,406.88 L64.56,411.17 L65.08,415.50 L65.60,419.29 L66.12,423.84 L66.64,426.75 L67.16,429.84 L67.68,433.26 L68.20,436.17 L68.71,437.42 L69.23,438.87 L69.75,440.23 L70.27,441.58 L70.27,441.8 L36.66,441.8 Z" fill="#e6bec8" stroke="none" style="mix-blend-mode:multiply"/>
<path d="M36.66,441.58 L37.39,441.47 L38.11,441.37 L38.63,440.50 L39.15,439.71 L39.67,438.92 L40.19,438.09 L40.71,437.31 L41.22,436.33 L41.74,433.67 L42.26,430.37 L42.78,427.86 L43.30,425.38 L43.82,422.44 L44.34,419.83 L44.85,413.13 L45.37,407.12 L45.89,400.76 L46.41,394.72 L46.93,388.51 L47.45,381.95 L47.97,376.54 L48.49,371.04 L49.00,365.89 L49.52,360.27 L50.04,354.37 L50.56,349.22 L51.29,344.16 L52.01,339.78 L52.63,337.93 L53.26,336.30 L53.98,338.07 L54.71,338.91 L55.23,335.60 L55.75,332.74 L56.37,329.56 L56.99,332.32 L57.82,336.87 L58.34,340.25 L58.86,343.97 L59.38,347.31 L59.90,351.38 L60.41,359.01 L60.93,366.96 L61.45,374.70 L61.97,382.12 L62.49,388.38 L63.01,394.49 L63.53,400.70 L64.05,406.88 L64.56,411.17 L65.08,415.50 L65.60,419.29 L66.12,423.84 L66.64,426.75 L67.16,429.84 L67.68,433.26 L68.20,436.17 L68.71,437.42 L69.23,438.87 L69.75,440.23 L70.27,441.58" fill="none" stroke="#c01f45" stroke-width="1.05" stroke-linejoin="round"/>
<path d="M36.70,432.78 L37.67,432.25 L38.17,432.39 L38.67,431.79 L39.18,431.85 L39.68,431.67 L40.18,431.12 L40.74,430.95 L41.29,430.31 L41.85,429.92 L42.41,429.22 L42.96,428.76 L43.52,428.62 L44.08,428.73 L44.64,428.24 L45.19,428.26 L45.75,428.14 L46.31,428.20 L46.86,428.02 L47.42,428.08 L47.98,428.20 L48.53,428.36 L49.06,427.74 L49.58,427.65 L50.10,427.32 L50.62,427.00 L51.18,426.25 L51.74,426.20 L52.30,425.44 L52.85,425.12 L53.41,424.81 L53.93,424.23 L54.45,423.31 L54.98,422.84 L55.50,422.00 L56.02,420.86 L56.54,419.82 L57.07,418.72 L57.59,417.63 L58.11,416.96 L58.63,416.48 L59.15,415.91 L59.68,414.88 L60.20,413.96 L60.72,413.47 L61.24,412.42 L61.77,411.49 L62.46,409.34 L63.16,407.39 L63.86,406.09 L64.55,404.55 L65.25,402.45 L65.94,400.21 L66.64,398.82 L67.34,396.72 L68.03,395.86 L68.73,394.95 L69.43,391.89 L70.12,389.34 L70.82,386.29 L71.52,383.03 L72.21,379.27 L72.91,375.16 L73.60,373.21 L74.30,371.00 L74.86,371.98 L75.42,372.45 L76.39,370.43 L77.36,372.04 L77.92,373.72 L78.48,375.51 L79.18,374.95 L79.87,374.62 L80.85,380.98 L81.68,386.45 L82.66,397.52 L83.35,402.44 L84.05,407.21 L84.57,410.09 L85.09,413.12 L85.62,415.89 L86.14,418.55 L86.66,421.28 L87.18,424.00 L87.71,426.69 L88.23,429.55 L88.75,431.49 L89.27,433.27 L89.80,434.81 L90.32,436.72 L90.87,437.49 L91.43,438.24 L91.99,439.01 L92.55,439.83 L93.10,440.50 L93.63,440.78 L94.15,441.06 L94.67,441.34 L95.19,441.62 L95.19,441.8 L36.70,441.8 Z" fill="#d2dae6" stroke="none" style="mix-blend-mode:multiply"/>
<path d="M36.70,432.78 L37.67,432.25 L38.17,432.39 L38.67,431.79 L39.18,431.85 L39.68,431.67 L40.18,431.12 L40.74,430.95 L41.29,430.31 L41.85,429.92 L42.41,429.22 L42.96,428.76 L43.52,428.62 L44.08,428.73 L44.64,428.24 L45.19,428.26 L45.75,428.14 L46.31,428.20 L46.86,428.02 L47.42,428.08 L47.98,428.20 L48.53,428.36 L49.06,427.74 L49.58,427.65 L50.10,427.32 L50.62,427.00 L51.18,426.25 L51.74,426.20 L52.30,425.44 L52.85,425.12 L53.41,424.81 L53.93,424.23 L54.45,423.31 L54.98,422.84 L55.50,422.00 L56.02,420.86 L56.54,419.82 L57.07,418.72 L57.59,417.63 L58.11,416.96 L58.63,416.48 L59.15,415.91 L59.68,414.88 L60.20,413.96 L60.72,413.47 L61.24,412.42 L61.77,411.49 L62.46,409.34 L63.16,407.39 L63.86,406.09 L64.55,404.55 L65.25,402.45 L65.94,400.21 L66.64,398.82 L67.34,396.72 L68.03,395.86 L68.73,394.95 L69.43,391.89 L70.12,389.34 L70.82,386.29 L71.52,383.03 L72.21,379.27 L72.91,375.16 L73.60,373.21 L74.30,371.00 L74.86,371.98 L75.42,372.45 L76.39,370.43 L77.36,372.04 L77.92,373.72 L78.48,375.51 L79.18,374.95 L79.87,374.62 L80.85,380.98 L81.68,386.45 L82.66,397.52 L83.35,402.44 L84.05,407.21 L84.57,410.09 L85.09,413.12 L85.62,415.89 L86.14,418.55 L86.66,421.28 L87.18,424.00 L87.71,426.69 L88.23,429.55 L88.75,431.49 L89.27,433.27 L89.80,434.81 L90.32,436.72 L90.87,437.49 L91.43,438.24 L91.99,439.01 L92.55,439.83 L93.10,440.50 L93.63,440.78 L94.15,441.06 L94.67,441.34 L95.19,441.62" fill="none" stroke="#3b5b9c" stroke-width="1.05" stroke-linejoin="round"/>
<path d="M37.20,387.95 L37.11,434.87 L37.67,434.42 L38.17,434.09 L38.67,433.78 L39.18,433.34 L39.68,432.76 L40.18,432.60 L40.74,431.93 L41.29,431.34 L41.85,430.56 L42.41,430.21 L42.96,429.54 L43.52,429.57 L44.08,429.34 L44.64,429.35 L45.19,429.14 L45.75,429.06 L46.31,429.02 L46.86,429.28 L47.42,429.45 L47.98,429.63 L48.53,429.58 L49.09,429.50 L49.65,429.23 L50.21,428.88 L50.76,428.71 L51.32,428.43 L51.88,427.70 L52.43,427.14 L52.99,426.44 L53.55,426.15 L54.11,425.63 L54.66,424.75 L55.22,424.14 L55.78,423.46 L56.33,422.77 L56.89,421.85 L57.45,421.39 L58.01,420.62 L58.56,419.95 L59.12,419.16 L59.68,418.55 L60.23,418.05 L60.79,417.44 L61.35,416.91 L61.91,416.08 L62.46,415.57 L62.98,414.64 L63.51,413.68 L64.03,412.46 L64.55,411.61 L65.07,410.19 L65.60,408.56 L66.12,407.34 L66.64,405.85 L67.20,404.95 L67.75,404.14 L68.31,403.38 L68.87,402.49 L69.43,401.66 L69.95,400.55 L70.47,399.68 L70.99,398.60 L71.52,397.65 L72.04,395.90 L72.56,394.02 L73.08,392.54 L73.60,390.44 L74.16,389.21 L74.72,387.77 L75.28,386.43 L75.83,384.92 L76.39,383.81 L77.09,380.56 L77.78,384.19 L78.48,386.16 L79.18,387.69 L79.87,388.22 L80.57,388.49 L81.26,389.63 L81.96,390.82 L82.66,392.86 L83.35,394.79 L84.05,395.99 L84.75,396.96 L85.30,398.48 L85.86,400.01 L86.42,401.82 L87.02,403.67 L87.62,405.68 L88.23,407.54 L88.92,408.79 L89.62,410.08 L90.14,410.64 L90.67,410.64 L91.19,411.03 L91.71,411.56 L92.23,412.45 L92.75,413.13 L93.28,414.20 L93.80,415.17 L94.36,415.49 L94.91,416.03 L95.47,416.47 L96.03,417.02 L96.60,418.44 L97.16,419.35 L97.73,420.74 L98.30,421.87 L98.85,422.69 L99.40,423.50 L99.95,424.74 L100.50,425.50 L101.13,426.27 L101.77,427.03 L102.40,428.09 L102.93,428.92 L103.45,429.86 L103.97,430.97 L104.50,431.85 L105.03,433.10 L105.55,434.08 L106.07,435.07 L106.60,436.31 L107.10,437.16 L107.60,437.66 L108.10,438.69 L108.60,439.41 L109.12,440.07 L109.65,440.65 L110.17,441.23 L110.70,441.80 L110.70,441.8 L37.20,441.8 Z" fill="#f5e0c2" stroke="none" style="mix-blend-mode:multiply"/>
<path d="M37.20,387.95 L37.11,434.87 L37.67,434.42 L38.17,434.09 L38.67,433.78 L39.18,433.34 L39.68,432.76 L40.18,432.60 L40.74,431.93 L41.29,431.34 L41.85,430.56 L42.41,430.21 L42.96,429.54 L43.52,429.57 L44.08,429.34 L44.64,429.35 L45.19,429.14 L45.75,429.06 L46.31,429.02 L46.86,429.28 L47.42,429.45 L47.98,429.63 L48.53,429.58 L49.09,429.50 L49.65,429.23 L50.21,428.88 L50.76,428.71 L51.32,428.43 L51.88,427.70 L52.43,427.14 L52.99,426.44 L53.55,426.15 L54.11,425.63 L54.66,424.75 L55.22,424.14 L55.78,423.46 L56.33,422.77 L56.89,421.85 L57.45,421.39 L58.01,420.62 L58.56,419.95 L59.12,419.16 L59.68,418.55 L60.23,418.05 L60.79,417.44 L61.35,416.91 L61.91,416.08 L62.46,415.57 L62.98,414.64 L63.51,413.68 L64.03,412.46 L64.55,411.61 L65.07,410.19 L65.60,408.56 L66.12,407.34 L66.64,405.85 L67.20,404.95 L67.75,404.14 L68.31,403.38 L68.87,402.49 L69.43,401.66 L69.95,400.55 L70.47,399.68 L70.99,398.60 L71.52,397.65 L72.04,395.90 L72.56,394.02 L73.08,392.54 L73.60,390.44 L74.16,389.21 L74.72,387.77 L75.28,386.43 L75.83,384.92 L76.39,383.81 L77.09,380.56 L77.78,384.19 L78.48,386.16 L79.18,387.69 L79.87,388.22 L80.57,388.49 L81.26,389.63 L81.96,390.82 L82.66,392.86 L83.35,394.79 L84.05,395.99 L84.75,396.96 L85.30,398.48 L85.86,400.01 L86.42,401.82 L87.02,403.67 L87.62,405.68 L88.23,407.54 L88.92,408.79 L89.62,410.08 L90.14,410.64 L90.67,410.64 L91.19,411.03 L91.71,411.56 L92.23,412.45 L92.75,413.13 L93.28,414.20 L93.80,415.17 L94.36,415.49 L94.91,416.03 L95.47,416.47 L96.03,417.02 L96.60,418.44 L97.16,419.35 L97.73,420.74 L98.30,421.87 L98.85,422.69 L99.40,423.50 L99.95,424.74 L100.50,425.50 L101.13,426.27 L101.77,427.03 L102.40,428.09 L102.93,428.92 L103.45,429.86 L103.97,430.97 L104.50,431.85 L105.03,433.10 L105.55,434.08 L106.07,435.07 L106.60,436.31 L107.10,437.16 L107.60,437.66 L108.10,438.69 L108.60,439.41 L109.12,440.07 L109.65,440.65 L110.17,441.23 L110.70,441.80" fill="none" stroke="#e0952a" stroke-width="1.05" stroke-linejoin="round"/>
<path d="M74.42,441.58 L74.94,441.43 L75.46,441.29 L75.98,441.15 L76.49,441.01 L77.01,440.86 L77.53,440.72 L78.05,440.58 L78.57,440.44 L79.09,440.29 L79.61,440.15 L80.12,440.01 L80.64,439.87 L81.16,439.98 L81.68,439.75 L82.20,439.28 L82.72,439.16 L83.24,438.66 L83.76,438.72 L84.27,437.87 L84.79,437.63 L85.31,437.12 L85.83,436.79 L86.35,436.33 L86.87,435.98 L87.39,435.18 L87.90,435.13 L88.42,434.42 L88.94,434.13 L89.46,432.97 L89.98,431.91 L90.50,431.01 L91.02,429.94 L91.54,428.84 L92.05,428.03 L92.57,426.90 L93.09,425.53 L93.61,424.62 L94.13,423.71 L94.65,421.91 L95.17,419.82 L95.68,417.54 L96.20,415.14 L96.72,413.53 L97.24,411.24 L97.76,409.26 L98.28,407.26 L98.80,404.45 L99.32,401.59 L99.83,399.09 L100.35,396.00 L100.87,393.24 L101.39,390.75 L101.94,387.94 L102.50,385.58 L103.05,383.48 L103.78,380.94 L104.50,379.33 L105.02,378.52 L105.54,377.64 L106.06,377.03 L106.58,376.81 L107.10,378.13 L107.61,378.91 L108.13,380.67 L108.65,382.27 L109.38,385.35 L110.10,388.36 L110.62,392.92 L111.14,397.85 L111.66,402.66 L112.18,406.88 L112.72,410.29 L113.26,413.97 L113.80,417.27 L114.34,420.51 L114.88,423.45 L115.39,425.77 L115.91,427.83 L116.43,429.74 L116.95,431.46 L117.47,432.97 L117.99,435.35 L118.51,435.63 L119.02,436.53 L119.54,437.36 L120.06,437.87 L120.58,438.17 L121.10,438.91 L121.62,439.93 L122.14,440.33 L122.66,440.49 L123.17,440.64 L123.69,440.80 L124.21,440.95 L124.73,441.11 L125.25,441.27 L125.77,441.42 L126.29,441.58 L126.29,441.8 L74.42,441.8 Z" fill="#dae8ce" stroke="none" style="mix-blend-mode:multiply"/>
<path d="M74.42,441.58 L74.94,441.43 L75.46,441.29 L75.98,441.15 L76.49,441.01 L77.01,440.86 L77.53,440.72 L78.05,440.58 L78.57,440.44 L79.09,440.29 L79.61,440.15 L80.12,440.01 L80.64,439.87 L81.16,439.98 L81.68,439.75 L82.20,439.28 L82.72,439.16 L83.24,438.66 L83.76,438.72 L84.27,437.87 L84.79,437.63 L85.31,437.12 L85.83,436.79 L86.35,436.33 L86.87,435.98 L87.39,435.18 L87.90,435.13 L88.42,434.42 L88.94,434.13 L89.46,432.97 L89.98,431.91 L90.50,431.01 L91.02,429.94 L91.54,428.84 L92.05,428.03 L92.57,426.90 L93.09,425.53 L93.61,424.62 L94.13,423.71 L94.65,421.91 L95.17,419.82 L95.68,417.54 L96.20,415.14 L96.72,413.53 L97.24,411.24 L97.76,409.26 L98.28,407.26 L98.80,404.45 L99.32,401.59 L99.83,399.09 L100.35,396.00 L100.87,393.24 L101.39,390.75 L101.94,387.94 L102.50,385.58 L103.05,383.48 L103.78,380.94 L104.50,379.33 L105.02,378.52 L105.54,377.64 L106.06,377.03 L106.58,376.81 L107.10,378.13 L107.61,378.91 L108.13,380.67 L108.65,382.27 L109.38,385.35 L110.10,388.36 L110.62,392.92 L111.14,397.85 L111.66,402.66 L112.18,406.88 L112.72,410.29 L113.26,413.97 L113.80,417.27 L114.34,420.51 L114.88,423.45 L115.39,425.77 L115.91,427.83 L116.43,429.74 L116.95,431.46 L117.47,432.97 L117.99,435.35 L118.51,435.63 L119.02,436.53 L119.54,437.36 L120.06,437.87 L120.58,438.17 L121.10,438.91 L121.62,439.93 L122.14,440.33 L122.66,440.49 L123.17,440.64 L123.69,440.80 L124.21,440.95 L124.73,441.11 L125.25,441.27 L125.77,441.42 L126.29,441.58" fill="none" stroke="#6cb04c" stroke-width="1.05" stroke-linejoin="round"/>
<path d="M36.7,321.0 H157.8 V441.8 H36.7 Z" stroke="#111" stroke-width="1" fill="none"/>
<line x1="33.7" y1="441.8" x2="36.7" y2="441.8" stroke="#111" stroke-width="0.8" />
<text x="30.9" y="444.6" font-size="7.8" text-anchor="end" font-weight="normal" fill="#222" >0</text>
<line x1="33.7" y1="412.05" x2="36.7" y2="412.05" stroke="#111" stroke-width="0.8" />
<text x="30.9" y="414.85" font-size="7.8" text-anchor="end" font-weight="normal" fill="#222" >100</text>
<line x1="33.7" y1="382.3" x2="36.7" y2="382.3" stroke="#111" stroke-width="0.8" />
<text x="30.9" y="385.1" font-size="7.8" text-anchor="end" font-weight="normal" fill="#222" >200</text>
<line x1="33.7" y1="352.55" x2="36.7" y2="352.55" stroke="#111" stroke-width="0.8" />
<text x="30.9" y="355.35" font-size="7.8" text-anchor="end" font-weight="normal" fill="#222" >300</text>
<line x1="33.7" y1="322.8" x2="36.7" y2="322.8" stroke="#111" stroke-width="0.8" />
<text x="30.9" y="325.6" font-size="7.8" text-anchor="end" font-weight="normal" fill="#222" >400</text>
<line x1="35.2" y1="441.8" x2="36.7" y2="441.8" stroke="#111" stroke-width="0.6" />
<line x1="35.2" y1="434.36" x2="36.7" y2="434.36" stroke="#111" stroke-width="0.6" />
<line x1="35.2" y1="426.92" x2="36.7" y2="426.92" stroke="#111" stroke-width="0.6" />
<line x1="35.2" y1="419.48" x2="36.7" y2="419.48" stroke="#111" stroke-width="0.6" />
<line x1="35.2" y1="412.04" x2="36.7" y2="412.04" stroke="#111" stroke-width="0.6" />
<line x1="35.2" y1="404.6" x2="36.7" y2="404.6" stroke="#111" stroke-width="0.6" />
<line x1="35.2" y1="397.16" x2="36.7" y2="397.16" stroke="#111" stroke-width="0.6" />
<line x1="35.2" y1="389.72" x2="36.7" y2="389.72" stroke="#111" stroke-width="0.6" />
<line x1="35.2" y1="382.28000000000003" x2="36.7" y2="382.28000000000003" stroke="#111" stroke-width="0.6" />
<line x1="35.2" y1="374.84000000000003" x2="36.7" y2="374.84000000000003" stroke="#111" stroke-width="0.6" />
<line x1="35.2" y1="367.4" x2="36.7" y2="367.4" stroke="#111" stroke-width="0.6" />
<line x1="35.2" y1="359.96000000000004" x2="36.7" y2="359.96000000000004" stroke="#111" stroke-width="0.6" />
<line x1="35.2" y1="352.52" x2="36.7" y2="352.52" stroke="#111" stroke-width="0.6" />
<line x1="35.2" y1="345.08000000000004" x2="36.7" y2="345.08000000000004" stroke="#111" stroke-width="0.6" />
<line x1="35.2" y1="337.64" x2="36.7" y2="337.64" stroke="#111" stroke-width="0.6" />
<line x1="35.2" y1="330.2" x2="36.7" y2="330.2" stroke="#111" stroke-width="0.6" />
<line x1="35.2" y1="322.76" x2="36.7" y2="322.76" stroke="#111" stroke-width="0.6" />
<line x1="51.9" y1="441.8" x2="51.9" y2="444.3" stroke="#111" stroke-width="0.8" />
<line x1="89.8" y1="441.8" x2="89.8" y2="444.3" stroke="#111" stroke-width="0.8" />
<line x1="118.5" y1="441.8" x2="118.5" y2="444.3" stroke="#111" stroke-width="0.8" />
<line x1="146.2" y1="441.8" x2="146.2" y2="444.3" stroke="#111" stroke-width="0.8" />
<line x1="39.5" y1="441.8" x2="39.5" y2="444.1" stroke="#000" stroke-width="0.75" />
<line x1="41.5" y1="441.8" x2="41.5" y2="444.1" stroke="#000" stroke-width="0.75" />
<line x1="44.5" y1="441.8" x2="44.5" y2="444.1" stroke="#000" stroke-width="0.75" />
<line x1="46.5" y1="441.8" x2="46.5" y2="444.1" stroke="#000" stroke-width="0.75" />
<line x1="48.5" y1="441.8" x2="48.5" y2="444.1" stroke="#000" stroke-width="0.75" />
<line x1="50.5" y1="441.8" x2="50.5" y2="444.1" stroke="#000" stroke-width="0.75" />
<line x1="51.5" y1="441.8" x2="51.5" y2="444.1" stroke="#000" stroke-width="0.75" />
<line x1="53.5" y1="441.8" x2="53.5" y2="444.1" stroke="#000" stroke-width="0.75" />
<line x1="55.5" y1="441.8" x2="55.5" y2="444.1" stroke="#000" stroke-width="0.75" />
<line x1="57.5" y1="441.8" x2="57.5" y2="444.1" stroke="#000" stroke-width="0.75" />
<line x1="61.5" y1="441.8" x2="61.5" y2="444.1" stroke="#000" stroke-width="0.75" />
<line x1="66.5" y1="441.8" x2="66.5" y2="444.1" stroke="#000" stroke-width="0.75" />
<line x1="72.5" y1="441.8" x2="72.5" y2="444.1" stroke="#000" stroke-width="0.75" />
<line x1="77.5" y1="441.8" x2="77.5" y2="444.1" stroke="#000" stroke-width="0.75" />
<line x1="81.5" y1="441.8" x2="81.5" y2="444.1" stroke="#000" stroke-width="0.75" />
<line x1="83.5" y1="441.8" x2="83.5" y2="444.1" stroke="#000" stroke-width="0.75" />
<line x1="85.5" y1="441.8" x2="85.5" y2="444.1" stroke="#000" stroke-width="0.75" />
<line x1="87.5" y1="441.8" x2="87.5" y2="444.1" stroke="#000" stroke-width="0.75" />
<line x1="88.5" y1="441.8" x2="88.5" y2="444.1" stroke="#000" stroke-width="0.75" />
<line x1="98.5" y1="441.8" x2="98.5" y2="444.1" stroke="#000" stroke-width="0.75" />
<line x1="126.5" y1="441.8" x2="126.5" y2="444.1" stroke="#000" stroke-width="0.75" />
<line x1="103.5" y1="441.8" x2="103.5" y2="444.1" stroke="#000" stroke-width="0.75" />
<line x1="131.5" y1="441.8" x2="131.5" y2="444.1" stroke="#000" stroke-width="0.75" />
<line x1="107.5" y1="441.8" x2="107.5" y2="444.1" stroke="#000" stroke-width="0.75" />
<line x1="135.5" y1="441.8" x2="135.5" y2="444.1" stroke="#000" stroke-width="0.75" />
<line x1="109.5" y1="441.8" x2="109.5" y2="444.1" stroke="#000" stroke-width="0.75" />
<line x1="137.5" y1="441.8" x2="137.5" y2="444.1" stroke="#000" stroke-width="0.75" />
<line x1="112.5" y1="441.8" x2="112.5" y2="444.1" stroke="#000" stroke-width="0.75" />
<line x1="140.5" y1="441.8" x2="140.5" y2="444.1" stroke="#000" stroke-width="0.75" />
<line x1="114.5" y1="441.8" x2="114.5" y2="444.1" stroke="#000" stroke-width="0.75" />
<line x1="141.5" y1="441.8" x2="141.5" y2="444.1" stroke="#000" stroke-width="0.75" />
<line x1="115.5" y1="441.8" x2="115.5" y2="444.1" stroke="#000" stroke-width="0.75" />
<line x1="143.5" y1="441.8" x2="143.5" y2="444.1" stroke="#000" stroke-width="0.75" />
<line x1="117.5" y1="441.8" x2="117.5" y2="444.1" stroke="#000" stroke-width="0.75" />
<line x1="144.5" y1="441.8" x2="144.5" y2="444.1" stroke="#000" stroke-width="0.75" />
<line x1="154.5" y1="441.8" x2="154.5" y2="444.1" stroke="#000" stroke-width="0.75" />
<text x="52.0" y="455.0" font-size="7.8" text-anchor="middle" font-weight="normal" fill="#222" >0</text>
<text x="89.4" y="455.0" font-size="7.8" text-anchor="middle" font-weight="normal" fill="#222" >10<tspan font-size="5.15" dy="-3.12">3</tspan></text>
<text x="118.2" y="455.0" font-size="7.8" text-anchor="middle" font-weight="normal" fill="#222" >10<tspan font-size="5.15" dy="-3.12">4</tspan></text>
<text x="145.9" y="455.0" font-size="7.8" text-anchor="middle" font-weight="normal" fill="#222" >10<tspan font-size="5.15" dy="-3.12">5</tspan></text>
<text x="0" y="0" font-size="9.5" font-weight="normal" text-anchor="middle" fill="#222" transform="translate(12.3 380.0) rotate(-90) scale(0.64 1)">Count</text>
<text x="0" y="0" font-size="9.6" font-weight="normal" text-anchor="middle" fill="#222" transform="translate(97.2 470.4) scale(0.62 1)">PD-1</text>
<rect x="161.6" y="322.30" width="6.8" height="5.4" fill="#e8b4c2" stroke="#c01f45" stroke-width="0.9"/>
<text x="0" y="0" font-size="8.05" text-anchor="start" font-weight="normal" fill="#222" transform="translate(171.6 327.7) scale(0.86 1)">Isotype control</text>
<rect x="161.6" y="333.25" width="6.8" height="5.4" fill="#c9d1e4" stroke="#3b5b9c" stroke-width="0.9"/>
<text x="0" y="0" font-size="8.05" text-anchor="start" font-weight="normal" fill="#222" transform="translate(171.6 338.65) scale(0.86 1)">NK cells</text>
<rect x="161.6" y="344.20" width="6.8" height="5.4" fill="#f8dfbd" stroke="#e0952a" stroke-width="0.9"/>
<text x="0" y="0" font-size="8.05" text-anchor="start" font-weight="normal" fill="#222" transform="translate(171.6 349.59999999999997) scale(0.86 1)">Unstimulated T-cells</text>
<rect x="161.6" y="355.15" width="6.8" height="5.4" fill="#d6eccd" stroke="#6cb04c" stroke-width="0.9"/>
<text x="0" y="0" font-size="8.05" text-anchor="start" font-weight="normal" fill="#222" transform="translate(171.6 360.54999999999995) scale(0.86 1)">Stimulated T-cells</text>
<text x="242.6" y="414.4" font-size="11" text-anchor="start" font-weight="bold" fill="#000" style="stroke:#000;stroke-width:0.55px">F</text>
<rect x="293.95" y="534.01" width="24.9" height="9.09" fill="#a2022a"/>
<line x1="306.4" y1="534.0120000000001" x2="306.4" y2="531.5980000000001" stroke="#222" stroke-width="1" />
<line x1="300.4" y1="531.5980000000001" x2="312.4" y2="531.5980000000001" stroke="#222" stroke-width="1" />
<line x1="306.4" y1="543.1" x2="306.4" y2="545.8" stroke="#222" stroke-width="1.0" />
<text x="0" y="0" font-size="7.7" text-anchor="end" fill="#222" transform="translate(309.70 552.3) rotate(-45)">NC</text>
<rect x="330.95" y="500.11" width="24.9" height="42.99" fill="#2e4b7e"/>
<line x1="343.4" y1="500.1095" x2="343.4" y2="496.808" stroke="#222" stroke-width="1" />
<line x1="337.4" y1="496.808" x2="349.4" y2="496.808" stroke="#222" stroke-width="1" />
<line x1="343.4" y1="543.1" x2="343.4" y2="545.8" stroke="#222" stroke-width="1.0" />
<text x="0" y="0" font-size="7.7" text-anchor="end" fill="#222" transform="translate(346.70 552.3) rotate(-45)">NK cells</text>
<rect x="368.35" y="477.71" width="24.9" height="65.39" fill="#6aab3d"/>
<line x1="380.8" y1="477.709" x2="380.8" y2="470.112" stroke="#222" stroke-width="1" />
<line x1="374.8" y1="470.112" x2="386.8" y2="470.112" stroke="#222" stroke-width="1" />
<line x1="380.8" y1="543.1" x2="380.8" y2="545.8" stroke="#222" stroke-width="1.0" />
<text x="0" y="0" font-size="7.7" text-anchor="end" fill="#222" transform="translate(384.10 552.3) rotate(-45)">Unstimulated T-cells</text>
<rect x="405.35" y="462.69" width="24.9" height="80.41" fill="#532766"/>
<line x1="417.8" y1="462.6925" x2="417.8" y2="456.196" stroke="#222" stroke-width="1" />
<line x1="411.8" y1="456.196" x2="423.8" y2="456.196" stroke="#222" stroke-width="1" />
<line x1="417.8" y1="543.1" x2="417.8" y2="545.8" stroke="#222" stroke-width="1.0" />
<text x="0" y="0" font-size="7.7" text-anchor="end" fill="#222" transform="translate(421.10 552.3) rotate(-45)">Stimulated T-cells</text>
<line x1="281.8" y1="434.0" x2="281.8" y2="543.8" stroke="#333" stroke-width="1.5" />
<line x1="281.2" y1="543.1" x2="442.7" y2="543.1" stroke="#333" stroke-width="1.4" />
<line x1="278.6" y1="543.1" x2="281.7" y2="543.1" stroke="#222" stroke-width="1" />
<text x="275.7" y="545.9" font-size="7.8" text-anchor="end" font-weight="normal" fill="#222" >0</text>
<line x1="278.6" y1="507.6" x2="281.7" y2="507.6" stroke="#222" stroke-width="1" />
<text x="275.7" y="510.40000000000003" font-size="7.8" text-anchor="end" font-weight="normal" fill="#222" >1</text>
<line x1="278.6" y1="472.1" x2="281.7" y2="472.1" stroke="#222" stroke-width="1" />
<text x="275.7" y="474.90000000000003" font-size="7.8" text-anchor="end" font-weight="normal" fill="#222" >2</text>
<line x1="278.6" y1="436.6" x2="281.7" y2="436.6" stroke="#222" stroke-width="1" />
<text x="275.7" y="439.40000000000003" font-size="7.8" text-anchor="end" font-weight="normal" fill="#222" >3</text>
<text x="0" y="0" font-size="9.6" font-weight="normal" text-anchor="middle" fill="#222" transform="translate(266.9 482.6) rotate(-90) scale(0.74 1)">Rn</text>
<path d="M343.8,433.8 V441.9 M343.8,436.8 H417.6 M417.6,433.8 V441.9" stroke="#333" stroke-width="1" fill="none"/>
<path d="M343.8,453.5 V462.5 M343.8,456.9 H380.5 M380.5,453.5 V462.5" stroke="#333" stroke-width="1" fill="none"/>
<text x="380.3" y="430.5" font-size="6.5" text-anchor="middle" font-weight="normal" fill="#222" >**</text>
<text x="0" y="0" font-size="7.59" text-anchor="middle" font-weight="normal" fill="#222" transform="translate(362.2 452.3) scale(0.86 1)">p=0.07</text>
<rect x="0.5" y="0.5" width="519" height="602" fill="none" stroke="#000" stroke-width="1"/>
</svg></body></html>
